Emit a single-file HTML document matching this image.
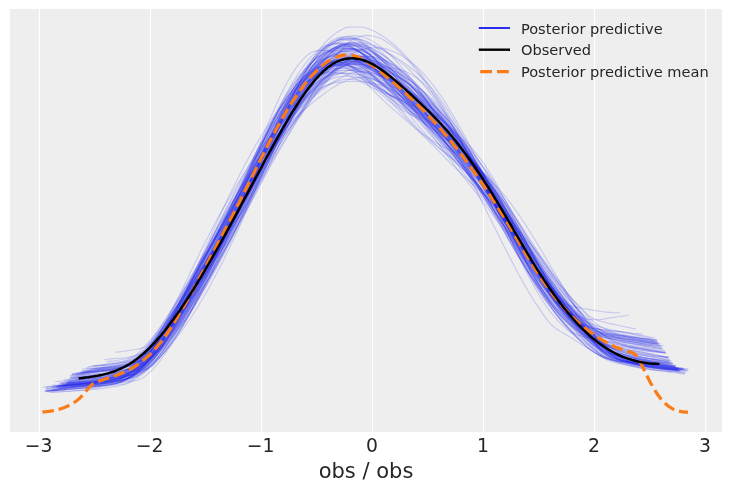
<!DOCTYPE html>
<html><head><meta charset="utf-8"><title>Posterior predictive check</title>
<style>html,body{margin:0;padding:0;background:#fff}body{width:731px;height:491px;position:relative;overflow:hidden}</style>
</head><body>
<svg width="731" height="491" viewBox="0 0 731 491" style="position:absolute;left:0;top:0">
<rect x="10" y="9" width="712" height="423" fill="#eeeeee"/>
<line x1="39.46" x2="39.46" y1="9" y2="432" stroke="#fff" stroke-width="1.1"/>
<line x1="150.49" x2="150.49" y1="9" y2="432" stroke="#fff" stroke-width="1.1"/>
<line x1="261.52" x2="261.52" y1="9" y2="432" stroke="#fff" stroke-width="1.1"/>
<line x1="372.55" x2="372.55" y1="9" y2="432" stroke="#fff" stroke-width="1.1"/>
<line x1="483.58" x2="483.58" y1="9" y2="432" stroke="#fff" stroke-width="1.1"/>
<line x1="594.61" x2="594.61" y1="9" y2="432" stroke="#fff" stroke-width="1.1"/>
<line x1="705.64" x2="705.64" y1="9" y2="432" stroke="#fff" stroke-width="1.1"/>
<g fill="none" stroke="#2a2eec" stroke-opacity="0.2" stroke-width="1.1" stroke-linejoin="round">
<path d="M86.7,368.8 L90.2,368.7 L93.6,368.5 L97.1,368.2 L100.5,367.8 L104.0,367.4 L107.4,367.0 L110.9,366.4 L114.3,365.7 L117.7,364.9 L121.2,363.9 L124.6,362.8 L128.1,361.6 L131.5,360.2 L135.0,358.1 L138.4,355.1 L141.9,351.9 L145.3,348.6 L148.7,344.9 L152.2,341.1 L155.6,336.9 L159.1,332.4 L162.5,327.7 L166.0,322.9 L169.4,317.8 L172.9,312.6 L176.3,307.3 L179.7,301.9 L183.2,296.3 L186.6,290.7 L190.1,284.9 L193.5,279.1 L197.0,273.1 L200.4,267.0 L203.9,260.8 L207.3,254.5 L210.8,248.2 L214.2,241.7 L217.6,235.3 L221.1,228.7 L224.5,222.2 L228.0,215.6 L231.4,208.9 L234.9,202.3 L238.3,195.7 L241.8,189.1 L245.2,182.5 L248.6,176.0 L252.1,169.5 L255.5,163.2 L259.0,156.9 L262.4,150.8 L265.9,144.8 L269.3,139.0 L272.8,133.3 L276.2,127.8 L279.6,122.5 L283.1,117.4 L286.5,112.4 L290.0,107.7 L293.4,103.1 L296.9,98.7 L300.3,94.6 L303.8,90.6 L307.2,86.9 L310.6,83.4 L314.1,80.0 L317.5,77.0 L321.0,74.2 L324.4,71.7 L327.9,69.5 L331.3,67.6 L334.8,65.9 L338.2,64.7 L341.7,64.0 L345.1,63.4 L348.5,63.2 L352.0,63.4 L355.4,63.9 L358.9,64.5 L362.3,65.6 L365.8,67.2 L369.2,69.0 L372.7,70.9 L376.1,73.1 L379.5,75.5 L383.0,77.9 L386.4,80.6 L389.9,83.3 L393.3,86.1 L396.8,89.0 L400.2,92.0 L403.7,95.0 L407.1,98.1 L410.5,101.2 L414.0,104.5 L417.4,107.7 L420.9,111.1 L424.3,114.5 L427.8,118.0 L431.2,121.5 L434.7,125.1 L438.1,128.8 L441.6,132.6 L445.0,136.5 L448.4,140.5 L451.9,144.6 L455.3,148.9 L458.8,153.2 L462.2,157.7 L465.7,162.3 L469.1,167.0 L472.6,171.8 L476.0,176.8 L479.4,181.8 L482.9,187.0 L486.3,192.3 L489.8,197.7 L493.2,203.2 L496.7,208.8 L500.1,214.4 L503.6,220.1 L507.0,225.8 L510.4,231.6 L513.9,237.3 L517.3,243.0 L520.8,248.7 L524.2,254.3 L527.7,259.8 L531.1,265.2 L534.6,270.5 L538.0,275.6 L541.5,280.5 L544.9,285.3 L548.3,289.9 L551.8,294.3 L555.2,298.5 L558.7,302.6 L562.1,306.4 L565.6,310.1 L569.0,313.6 L572.5,317.0 L575.9,320.2 L579.3,323.4 L582.8,326.5 L586.2,329.4 L589.7,332.3 L593.1,335.0 L596.6,337.6 L600.0,340.0 L603.5,342.3 L606.9,344.4 L610.3,346.2 L613.8,347.8 L617.2,349.1 L620.7,350.0 L624.1,350.7 L627.6,351.4 L631.0,351.9 L634.5,352.5 L637.9,353.0 L641.3,353.5 L644.8,354.1 L648.2,354.6 L651.7,355.2 L655.1,355.8 L658.6,356.3 L662.0,356.8 L665.5,357.4 L668.9,357.9"/>
<path d="M65.2,382.5 L68.8,381.9 L72.4,381.3 L75.9,380.8 L79.5,380.3 L83.1,379.8 L86.7,379.3 L90.3,378.8 L93.8,378.4 L97.4,378.0 L101.0,377.7 L104.6,377.5 L108.2,377.2 L111.7,377.0 L115.3,376.7 L118.9,376.4 L122.5,376.0 L126.1,375.5 L129.6,374.9 L133.2,374.2 L136.8,372.3 L140.4,369.0 L143.9,365.3 L147.5,361.5 L151.1,357.1 L154.7,352.5 L158.3,347.4 L161.8,342.0 L165.4,336.5 L169.0,330.8 L172.6,324.9 L176.2,319.0 L179.7,313.2 L183.3,307.4 L186.9,301.6 L190.5,295.9 L194.1,290.2 L197.6,284.6 L201.2,279.0 L204.8,273.5 L208.4,268.0 L212.0,262.5 L215.5,257.0 L219.1,251.3 L222.7,245.5 L226.3,239.6 L229.9,233.5 L233.4,227.0 L237.0,220.3 L240.6,213.3 L244.2,206.0 L247.8,198.4 L251.3,190.5 L254.9,182.4 L258.5,174.0 L262.1,165.6 L265.6,157.1 L269.2,148.6 L272.8,140.2 L276.4,131.9 L280.0,123.8 L283.5,116.1 L287.1,108.7 L290.7,101.6 L294.3,95.0 L297.9,88.9 L301.4,83.2 L305.0,78.0 L308.6,73.4 L312.2,69.1 L315.8,65.5 L319.3,62.4 L322.9,59.7 L326.5,57.7 L330.1,56.3 L333.7,55.2 L337.2,54.7 L340.8,54.9 L344.4,55.5 L348.0,56.2 L351.6,57.6 L355.1,59.8 L358.7,62.2 L362.3,64.9 L365.9,68.2 L369.4,71.5 L373.0,75.0 L376.6,78.7 L380.2,82.3 L383.8,85.9 L387.3,89.5 L390.9,92.9 L394.5,96.2 L398.1,99.3 L401.7,102.2 L405.2,105.0 L408.8,107.7 L412.4,110.3 L416.0,112.7 L419.6,115.2 L423.1,117.6 L426.7,120.2 L430.3,122.8 L433.9,125.5 L437.5,128.4 L441.0,131.4 L444.6,134.7 L448.2,138.2 L451.8,141.8 L455.4,145.7 L458.9,149.7 L462.5,154.0 L466.1,158.3 L469.7,162.8 L473.2,167.4 L476.8,172.1 L480.4,176.8 L484.0,181.6 L487.6,186.5 L491.1,191.4 L494.7,196.4 L498.3,201.5 L501.9,206.6 L505.5,211.8 L509.0,217.0 L512.6,222.3 L516.2,227.6 L519.8,233.0 L523.4,238.5 L526.9,243.9 L530.5,249.4 L534.1,254.9 L537.7,260.4 L541.3,265.9 L544.8,271.3 L548.4,276.6 L552.0,281.9 L555.6,287.1 L559.2,292.1 L562.7,297.0 L566.3,301.8 L569.9,306.4 L573.5,310.9 L577.0,315.3 L580.6,319.5 L584.2,323.6 L587.8,327.6 L591.4,331.4 L594.9,334.9 L598.5,338.4 L602.1,341.8 L605.7,344.5 L609.3,346.5 L612.8,348.2 L616.4,349.8 L620.0,351.2 L623.6,352.5 L627.2,353.7 L630.7,354.8 L634.3,355.8 L637.9,356.6 L641.5,357.3 L645.1,357.9 L648.6,358.5 L652.2,358.9 L655.8,359.3 L659.4,359.7 L663.0,359.9 L666.5,360.1 L670.1,360.2"/>
<path d="M52.3,389.2 L56.0,389.0 L59.7,388.7 L63.3,388.3 L67.0,388.0 L70.7,387.6 L74.4,387.1 L78.0,386.6 L81.7,386.0 L85.4,385.4 L89.0,384.7 L92.7,383.9 L96.4,383.2 L100.1,382.4 L103.7,381.7 L107.4,381.0 L111.1,380.2 L114.8,379.2 L118.4,378.0 L122.1,376.4 L125.8,374.6 L129.4,372.3 L133.1,369.6 L136.8,366.6 L140.5,363.1 L144.1,359.0 L147.8,354.5 L151.5,349.5 L155.2,344.0 L158.8,338.1 L162.5,332.0 L166.2,325.5 L169.9,319.0 L173.5,312.4 L177.2,305.7 L180.9,299.0 L184.5,292.4 L188.2,285.9 L191.9,279.4 L195.6,272.9 L199.2,266.5 L202.9,260.1 L206.6,253.7 L210.3,247.3 L213.9,240.7 L217.6,234.1 L221.3,227.4 L224.9,220.5 L228.6,213.4 L232.3,206.1 L236.0,198.5 L239.6,190.6 L243.3,182.5 L247.0,174.1 L250.7,165.6 L254.3,156.8 L258.0,148.0 L261.7,139.1 L265.4,130.2 L269.0,121.4 L272.7,112.9 L276.4,104.5 L280.0,96.6 L283.7,89.1 L287.4,82.0 L291.1,75.6 L294.7,69.9 L298.4,64.6 L302.1,60.3 L305.8,56.7 L309.4,53.5 L313.1,51.7 L316.8,50.9 L320.4,50.4 L324.1,50.1 L327.8,50.7 L331.5,52.1 L335.1,53.8 L338.8,56.0 L342.5,58.9 L346.2,62.1 L349.8,65.5 L353.5,69.2 L357.2,73.0 L360.9,77.0 L364.5,81.0 L368.2,84.9 L371.9,88.8 L375.5,92.6 L379.2,96.3 L382.9,99.9 L386.6,103.3 L390.2,106.7 L393.9,109.9 L397.6,113.1 L401.3,116.3 L404.9,119.4 L408.6,122.6 L412.3,125.8 L415.9,129.1 L419.6,132.5 L423.3,135.9 L427.0,139.4 L430.6,143.0 L434.3,146.7 L438.0,150.4 L441.7,154.2 L445.3,157.9 L449.0,161.6 L452.7,165.3 L456.3,168.9 L460.0,172.5 L463.7,176.0 L467.4,179.4 L471.0,182.8 L474.7,186.2 L478.4,189.6 L482.1,193.1 L485.7,196.6 L489.4,200.2 L493.1,204.1 L496.8,208.0 L500.4,212.2 L504.1,216.7 L507.8,221.4 L511.4,226.3 L515.1,231.5 L518.8,236.9 L522.5,242.5 L526.1,248.2 L529.8,254.1 L533.5,260.1 L537.2,266.0 L540.8,272.0 L544.5,277.9 L548.2,283.7 L551.8,289.3 L555.5,294.8 L559.2,300.1 L562.9,305.1 L566.5,310.0 L570.2,314.5 L573.9,318.9 L577.6,323.1 L581.2,327.1 L584.9,330.9 L588.6,334.5 L592.3,337.9 L595.9,341.1 L599.6,344.0 L603.3,346.7 L606.9,349.1 L610.6,351.3 L614.3,353.2 L618.0,354.9 L621.6,356.4 L625.3,357.7 L629.0,358.9 L632.7,360.0 L636.3,361.0 L640.0,361.9 L643.7,362.7 L647.3,363.4 L651.0,363.9 L654.7,364.4 L658.4,364.9 L662.0,365.3 L665.7,365.6 L669.4,365.8 L673.1,366.0"/>
<path d="M55.9,386.4 L59.4,386.4 L63.0,386.4 L66.6,386.3 L70.1,386.1 L73.7,386.0 L77.2,385.8 L80.8,385.6 L84.3,385.5 L87.9,385.2 L91.4,384.9 L95.0,384.6 L98.5,384.2 L102.1,383.7 L105.6,383.2 L109.2,382.5 L112.8,381.9 L116.3,381.1 L119.9,380.3 L123.4,379.4 L127.0,378.4 L130.5,376.9 L134.1,374.7 L137.6,372.2 L141.2,369.4 L144.7,366.3 L148.3,362.8 L151.8,358.9 L155.4,354.5 L159.0,349.8 L162.5,344.9 L166.1,339.6 L169.6,334.1 L173.2,328.5 L176.7,322.6 L180.3,316.6 L183.8,310.5 L187.4,304.3 L190.9,297.9 L194.5,291.4 L198.0,284.7 L201.6,278.0 L205.2,271.1 L208.7,264.2 L212.3,257.2 L215.8,250.1 L219.4,242.9 L222.9,235.7 L226.5,228.5 L230.0,221.2 L233.6,213.9 L237.1,206.6 L240.7,199.3 L244.2,192.1 L247.8,184.9 L251.4,177.8 L254.9,170.8 L258.5,163.9 L262.0,157.3 L265.6,150.8 L269.1,144.6 L272.7,138.5 L276.2,132.8 L279.8,127.3 L283.3,122.1 L286.9,117.2 L290.4,112.6 L294.0,108.3 L297.6,104.2 L301.1,100.4 L304.7,96.9 L308.2,93.6 L311.8,90.5 L315.3,87.7 L318.9,85.1 L322.4,82.6 L326.0,80.4 L329.5,78.4 L333.1,76.6 L336.6,74.9 L340.2,73.4 L343.8,72.1 L347.3,70.9 L350.9,70.0 L354.4,69.2 L358.0,68.5 L361.5,68.0 L365.1,67.6 L368.6,67.2 L372.2,67.1 L375.7,67.1 L379.3,67.1 L382.8,67.1 L386.4,67.3 L390.0,67.7 L393.5,68.2 L397.1,68.9 L400.6,69.9 L404.2,71.1 L407.7,72.5 L411.3,74.4 L414.8,76.5 L418.4,79.0 L421.9,82.0 L425.5,85.3 L429.0,89.0 L432.6,93.2 L436.2,97.8 L439.7,102.8 L443.3,108.3 L446.8,114.2 L450.4,120.3 L453.9,126.9 L457.5,133.7 L461.0,140.7 L464.6,148.0 L468.1,155.4 L471.7,163.0 L475.3,170.6 L478.8,178.3 L482.4,185.9 L485.9,193.6 L489.5,201.1 L493.0,208.6 L496.6,215.9 L500.1,223.1 L503.7,230.1 L507.2,236.9 L510.8,243.5 L514.3,249.8 L517.9,256.0 L521.5,261.8 L525.0,267.3 L528.6,272.6 L532.1,277.6 L535.7,282.2 L539.2,286.6 L542.8,290.7 L546.3,294.5 L549.9,298.1 L553.4,301.4 L557.0,304.5 L560.5,307.4 L564.1,310.1 L567.7,312.7 L571.2,315.1 L574.8,317.5 L578.3,320.0 L581.9,322.4 L585.4,324.7 L589.0,327.0 L592.5,329.3 L596.1,331.2 L599.6,332.6 L603.2,333.8 L606.7,334.9 L610.3,336.0 L613.9,337.0 L617.4,337.9 L621.0,338.7 L624.5,339.5 L628.1,340.1 L631.6,340.7 L635.2,341.2 L638.7,341.7 L642.3,342.1 L645.8,342.5 L649.4,342.8 L652.9,343.1 L656.5,343.3"/>
<path d="M73.3,376.7 L76.7,376.6 L80.2,376.4 L83.6,376.2 L87.0,376.0 L90.5,375.7 L93.9,375.4 L97.4,375.1 L100.8,374.7 L104.3,374.3 L107.7,373.9 L111.2,373.5 L114.6,372.9 L118.1,372.4 L121.5,371.7 L124.9,370.9 L128.4,370.1 L131.8,369.1 L135.3,368.1 L138.7,366.4 L142.2,363.8 L145.6,360.9 L149.1,357.8 L152.5,354.2 L156.0,350.4 L159.4,346.1 L162.9,341.6 L166.3,336.8 L169.7,331.7 L173.2,326.5 L176.6,321.1 L180.1,315.6 L183.5,310.0 L187.0,304.2 L190.4,298.4 L193.9,292.5 L197.3,286.5 L200.8,280.4 L204.2,274.3 L207.6,268.2 L211.1,262.1 L214.5,255.9 L218.0,249.8 L221.4,243.7 L224.9,237.6 L228.3,231.5 L231.8,225.3 L235.2,219.2 L238.7,213.1 L242.1,206.9 L245.6,200.7 L249.0,194.5 L252.4,188.2 L255.9,181.9 L259.3,175.6 L262.8,169.2 L266.2,162.8 L269.7,156.4 L273.1,150.0 L276.6,143.6 L280.0,137.1 L283.5,130.7 L286.9,124.3 L290.3,118.0 L293.8,111.8 L297.2,105.7 L300.7,99.8 L304.1,94.1 L307.6,88.6 L311.0,83.5 L314.5,78.7 L317.9,74.3 L321.4,70.4 L324.8,67.0 L328.3,63.9 L331.7,61.7 L335.1,60.0 L338.6,58.7 L342.0,58.1 L345.5,58.2 L348.9,58.5 L352.4,58.8 L355.8,59.9 L359.3,61.8 L362.7,63.9 L366.2,66.2 L369.6,68.8 L373.0,71.6 L376.5,74.4 L379.9,77.5 L383.4,80.6 L386.8,83.7 L390.3,86.8 L393.7,90.0 L397.2,93.2 L400.6,96.5 L404.1,99.7 L407.5,103.0 L411.0,106.2 L414.4,109.5 L417.8,112.9 L421.3,116.3 L424.7,119.7 L428.2,123.1 L431.6,126.6 L435.1,130.1 L438.5,133.7 L442.0,137.4 L445.4,141.0 L448.9,144.8 L452.3,148.6 L455.7,152.4 L459.2,156.3 L462.6,160.2 L466.1,164.2 L469.5,168.3 L473.0,172.4 L476.4,176.5 L479.9,180.7 L483.3,184.9 L486.8,189.1 L490.2,193.4 L493.7,197.8 L497.1,202.1 L500.5,206.6 L504.0,211.0 L507.4,215.5 L510.9,220.0 L514.3,224.6 L517.8,229.1 L521.2,233.7 L524.7,238.2 L528.1,242.8 L531.6,247.4 L535.0,252.0 L538.4,256.5 L541.9,261.0 L545.3,265.5 L548.8,270.0 L552.2,274.4 L555.7,278.7 L559.1,283.0 L562.6,287.2 L566.0,291.4 L569.5,295.4 L572.9,299.5 L576.4,303.4 L579.8,307.3 L583.2,311.2 L586.7,315.0 L590.1,318.5 L593.6,321.6 L597.0,324.4 L600.5,326.7 L603.9,328.5 L607.4,330.1 L610.8,331.5 L614.3,332.9 L617.7,334.2 L621.1,335.3 L624.6,336.3 L628.0,337.2 L631.5,338.0 L634.9,338.7 L638.4,339.3 L641.8,339.8 L645.3,340.2 L648.7,340.6 L652.2,340.9 L655.6,341.1"/>
<path d="M64.5,384.1 L68.1,383.8 L71.6,383.4 L75.2,383.1 L78.8,382.7 L82.4,382.2 L85.9,381.8 L89.5,381.3 L93.1,380.9 L96.7,380.4 L100.2,379.9 L103.8,379.3 L107.4,378.6 L111.0,377.9 L114.5,377.0 L118.1,376.0 L121.7,374.5 L125.3,372.4 L128.8,370.0 L132.4,367.4 L136.0,364.4 L139.6,361.0 L143.1,357.1 L146.7,352.7 L150.3,347.9 L153.9,342.6 L157.4,336.8 L161.0,330.7 L164.6,324.2 L168.2,317.5 L171.7,310.5 L175.3,303.4 L178.9,296.2 L182.5,288.9 L186.0,281.5 L189.6,274.1 L193.2,266.7 L196.8,259.4 L200.3,252.0 L203.9,244.8 L207.5,237.7 L211.1,230.7 L214.6,223.9 L218.2,217.2 L221.8,210.7 L225.4,204.4 L228.9,198.2 L232.5,192.2 L236.1,186.3 L239.7,180.6 L243.2,174.9 L246.8,169.4 L250.4,164.0 L254.0,158.7 L257.5,153.5 L261.1,148.4 L264.7,143.4 L268.3,138.5 L271.8,133.6 L275.4,128.9 L279.0,124.2 L282.6,119.6 L286.1,115.1 L289.7,110.7 L293.3,106.5 L296.9,102.3 L300.4,98.3 L304.0,94.5 L307.6,90.9 L311.2,87.6 L314.7,84.5 L318.3,81.7 L321.9,79.3 L325.5,77.2 L329.0,75.4 L332.6,74.2 L336.2,73.6 L339.8,73.1 L343.3,72.9 L346.9,73.2 L350.5,74.0 L354.1,74.9 L357.6,76.2 L361.2,77.9 L364.8,79.8 L368.4,81.7 L371.9,83.9 L375.5,86.1 L379.1,88.3 L382.7,90.6 L386.2,92.8 L389.8,95.0 L393.4,97.2 L397.0,99.4 L400.5,101.6 L404.1,103.8 L407.7,106.1 L411.3,108.5 L414.8,110.9 L418.4,113.4 L422.0,116.1 L425.6,118.9 L429.1,121.8 L432.7,124.9 L436.3,128.1 L439.9,131.5 L443.4,135.0 L447.0,138.8 L450.6,142.6 L454.2,146.7 L457.7,150.9 L461.3,155.3 L464.9,159.8 L468.5,164.5 L472.0,169.4 L475.6,174.4 L479.2,179.6 L482.8,185.0 L486.3,190.5 L489.9,196.1 L493.5,201.9 L497.1,207.8 L500.6,213.9 L504.2,219.9 L507.8,226.0 L511.4,232.2 L514.9,238.3 L518.5,244.4 L522.1,250.4 L525.7,256.2 L529.2,261.9 L532.8,267.5 L536.4,272.9 L540.0,278.1 L543.5,283.2 L547.1,288.0 L550.7,292.6 L554.3,297.0 L557.8,301.2 L561.4,305.2 L565.0,309.1 L568.6,312.8 L572.1,316.4 L575.7,319.8 L579.3,323.2 L582.9,326.5 L586.4,329.8 L590.0,332.9 L593.6,335.9 L597.2,338.9 L600.7,341.5 L604.3,343.8 L607.9,346.0 L611.5,347.7 L615.0,349.0 L618.6,350.0 L622.2,350.9 L625.8,351.8 L629.3,352.5 L632.9,353.3 L636.5,354.0 L640.1,354.6 L643.6,355.3 L647.2,356.1 L650.8,356.8 L654.4,357.5 L657.9,358.2 L661.5,358.9 L665.1,359.5 L668.7,360.1"/>
<path d="M81.3,370.5 L84.8,370.3 L88.3,370.0 L91.7,369.7 L95.2,369.3 L98.7,368.9 L102.2,368.4 L105.7,367.9 L109.1,367.3 L112.6,366.7 L116.1,366.0 L119.6,365.2 L123.1,364.3 L126.6,363.4 L130.0,362.3 L133.5,360.9 L137.0,359.2 L140.5,357.2 L144.0,355.0 L147.5,352.6 L150.9,349.8 L154.4,346.8 L157.9,343.3 L161.4,339.7 L164.9,335.7 L168.3,331.5 L171.8,327.0 L175.3,322.4 L178.8,317.5 L182.3,312.4 L185.8,307.1 L189.2,301.7 L192.7,296.1 L196.2,290.3 L199.7,284.3 L203.2,278.2 L206.7,272.0 L210.1,265.7 L213.6,259.3 L217.1,252.8 L220.6,246.3 L224.1,239.7 L227.6,233.1 L231.0,226.4 L234.5,219.8 L238.0,213.0 L241.5,206.3 L245.0,199.5 L248.4,192.6 L251.9,185.7 L255.4,178.9 L258.9,172.0 L262.4,165.0 L265.9,158.2 L269.3,151.3 L272.8,144.5 L276.3,137.8 L279.8,131.2 L283.3,124.6 L286.8,118.3 L290.2,112.1 L293.7,106.1 L297.2,100.3 L300.7,94.9 L304.2,89.7 L307.7,84.8 L311.1,80.3 L314.6,76.1 L318.1,72.4 L321.6,69.1 L325.1,66.1 L328.5,63.8 L332.0,61.7 L335.5,60.0 L339.0,59.2 L342.5,59.1 L346.0,59.0 L349.4,59.0 L352.9,59.6 L356.4,61.0 L359.9,62.7 L363.4,64.6 L366.9,66.9 L370.3,69.4 L373.8,72.1 L377.3,75.0 L380.8,77.9 L384.3,81.0 L387.8,84.1 L391.2,87.1 L394.7,90.2 L398.2,93.3 L401.7,96.3 L405.2,99.3 L408.6,102.2 L412.1,105.0 L415.6,107.8 L419.1,110.5 L422.6,113.2 L426.1,115.9 L429.5,118.5 L433.0,121.1 L436.5,123.8 L440.0,126.5 L443.5,129.3 L447.0,132.3 L450.4,135.3 L453.9,138.6 L457.4,142.0 L460.9,145.7 L464.4,149.5 L467.8,153.6 L471.3,158.0 L474.8,162.6 L478.3,167.5 L481.8,172.7 L485.3,178.0 L488.7,183.6 L492.2,189.5 L495.7,195.4 L499.2,201.6 L502.7,207.9 L506.2,214.2 L509.6,220.7 L513.1,227.1 L516.6,233.5 L520.1,239.8 L523.6,246.1 L527.1,252.2 L530.5,258.2 L534.0,264.0 L537.5,269.7 L541.0,275.1 L544.5,280.3 L547.9,285.3 L551.4,290.1 L554.9,294.7 L558.4,299.0 L561.9,303.2 L565.4,307.1 L568.8,310.9 L572.3,314.5 L575.8,317.9 L579.3,321.3 L582.8,324.5 L586.3,327.7 L589.7,330.7 L593.2,333.4 L596.7,336.0 L600.2,338.4 L603.7,340.6 L607.2,342.7 L610.6,344.6 L614.1,346.3 L617.6,347.9 L621.1,349.2 L624.6,350.4 L628.0,351.4 L631.5,352.4 L635.0,353.3 L638.5,354.1 L642.0,354.9 L645.5,355.6 L648.9,356.3 L652.4,356.9 L655.9,357.5 L659.4,358.1 L662.9,358.6 L666.4,359.0 L669.8,359.5"/>
<path d="M70.1,381.8 L73.7,381.6 L77.3,381.4 L80.9,381.1 L84.5,380.7 L88.1,380.3 L91.7,379.8 L95.3,379.2 L98.9,378.5 L102.5,377.7 L106.1,376.8 L109.7,375.9 L113.3,374.9 L116.9,373.8 L120.5,372.6 L124.1,371.3 L127.7,369.7 L131.3,367.8 L134.9,365.6 L138.5,363.1 L142.1,360.2 L145.7,356.9 L149.3,353.2 L152.9,349.0 L156.5,344.4 L160.1,339.5 L163.7,334.3 L167.2,328.8 L170.8,323.1 L174.4,317.2 L178.0,311.1 L181.6,304.9 L185.2,298.6 L188.8,292.2 L192.4,285.7 L196.0,279.0 L199.6,272.3 L203.2,265.5 L206.8,258.6 L210.4,251.6 L214.0,244.6 L217.6,237.5 L221.2,230.5 L224.8,223.5 L228.4,216.4 L232.0,209.4 L235.6,202.4 L239.2,195.5 L242.8,188.6 L246.4,181.7 L250.0,174.9 L253.6,168.2 L257.2,161.5 L260.8,154.9 L264.4,148.4 L268.0,142.0 L271.6,135.6 L275.2,129.3 L278.8,123.2 L282.4,117.2 L286.0,111.3 L289.6,105.6 L293.2,100.1 L296.8,94.7 L300.4,89.7 L304.0,85.0 L307.6,80.5 L311.2,76.5 L314.8,72.9 L318.4,69.6 L322.0,66.9 L325.6,64.5 L329.2,62.5 L332.8,61.4 L336.4,61.0 L340.0,60.7 L343.6,60.6 L347.2,61.1 L350.8,62.2 L354.4,63.6 L358.0,65.3 L361.6,67.5 L365.2,69.9 L368.8,72.4 L372.4,75.1 L376.0,77.9 L379.6,80.7 L383.2,83.5 L386.8,86.3 L390.4,89.1 L394.0,91.8 L397.6,94.5 L401.2,97.2 L404.8,99.8 L408.4,102.5 L412.0,105.1 L415.6,107.7 L419.2,110.4 L422.8,113.1 L426.4,115.9 L430.0,118.8 L433.6,121.7 L437.2,124.8 L440.8,128.0 L444.4,131.4 L448.0,135.0 L451.6,138.7 L455.2,142.7 L458.8,146.9 L462.4,151.4 L466.0,156.2 L469.6,161.2 L473.2,166.4 L476.8,172.0 L480.4,177.8 L484.0,183.7 L487.6,190.0 L491.2,196.4 L494.8,202.9 L498.3,209.6 L501.9,216.4 L505.5,223.2 L509.1,230.0 L512.7,236.7 L516.3,243.4 L519.9,249.9 L523.5,256.3 L527.1,262.4 L530.7,268.4 L534.3,274.2 L537.9,279.8 L541.5,285.1 L545.1,290.3 L548.7,295.2 L552.3,299.9 L555.9,304.4 L559.5,308.8 L563.1,312.9 L566.7,317.0 L570.3,320.9 L573.9,324.6 L577.5,328.3 L581.1,331.9 L584.7,335.4 L588.3,338.9 L591.9,342.2 L595.5,345.5 L599.1,348.6 L602.7,351.4 L606.3,353.9 L609.9,356.2 L613.5,358.1 L617.1,359.5 L620.7,360.6 L624.3,361.7 L627.9,362.7 L631.5,363.6 L635.1,364.5 L638.7,365.3 L642.3,366.0 L645.9,366.6 L649.5,367.1 L653.1,367.6 L656.7,368.1 L660.3,368.5 L663.9,368.9 L667.5,369.3 L671.1,369.5 L674.7,369.8 L678.3,369.9"/>
<path d="M80.4,373.4 L83.9,373.1 L87.4,372.8 L90.9,372.4 L94.3,372.0 L97.8,371.5 L101.3,371.1 L104.8,370.5 L108.2,369.9 L111.7,369.2 L115.2,368.4 L118.7,367.5 L122.1,366.5 L125.6,365.3 L129.1,363.5 L132.6,360.9 L136.0,358.0 L139.5,355.1 L143.0,351.9 L146.5,348.5 L149.9,344.7 L153.4,340.5 L156.9,336.0 L160.4,331.3 L163.8,326.3 L167.3,321.1 L170.8,315.8 L174.3,310.4 L177.8,304.8 L181.2,299.2 L184.7,293.5 L188.2,287.8 L191.7,282.0 L195.1,276.1 L198.6,270.2 L202.1,264.3 L205.6,258.3 L209.0,252.3 L212.5,246.3 L216.0,240.3 L219.5,234.4 L222.9,228.4 L226.4,222.4 L229.9,216.4 L233.4,210.3 L236.8,204.3 L240.3,198.2 L243.8,192.0 L247.3,185.9 L250.7,179.7 L254.2,173.4 L257.7,167.2 L261.2,161.0 L264.6,154.8 L268.1,148.5 L271.6,142.4 L275.1,136.3 L278.5,130.2 L282.0,124.3 L285.5,118.5 L289.0,112.8 L292.4,107.2 L295.9,101.9 L299.4,96.6 L302.9,91.7 L306.3,86.9 L309.8,82.4 L313.3,78.2 L316.8,74.4 L320.2,70.8 L323.7,67.6 L327.2,64.8 L330.7,62.3 L334.1,60.4 L337.6,59.0 L341.1,57.8 L344.6,57.3 L348.0,57.4 L351.5,57.7 L355.0,58.1 L358.5,59.1 L361.9,60.7 L365.4,62.7 L368.9,64.8 L372.4,67.4 L375.9,70.2 L379.3,73.1 L382.8,76.2 L386.3,79.4 L389.8,82.6 L393.2,86.0 L396.7,89.4 L400.2,92.8 L403.7,96.3 L407.1,99.7 L410.6,103.2 L414.1,106.6 L417.6,110.1 L421.0,113.6 L424.5,117.1 L428.0,120.5 L431.5,124.0 L434.9,127.6 L438.4,131.1 L441.9,134.7 L445.4,138.3 L448.8,141.9 L452.3,145.6 L455.8,149.3 L459.3,153.1 L462.7,157.0 L466.2,161.0 L469.7,165.1 L473.2,169.2 L476.6,173.5 L480.1,177.9 L483.6,182.5 L487.1,187.2 L490.5,192.1 L494.0,197.2 L497.5,202.4 L501.0,207.8 L504.4,213.4 L507.9,219.2 L511.4,225.1 L514.9,231.1 L518.3,237.2 L521.8,243.4 L525.3,249.6 L528.8,255.9 L532.2,262.1 L535.7,268.2 L539.2,274.2 L542.7,280.0 L546.1,285.6 L549.6,291.1 L553.1,296.2 L556.6,301.1 L560.0,305.8 L563.5,310.2 L567.0,314.3 L570.5,318.1 L574.0,321.7 L577.4,325.1 L580.9,328.3 L584.4,331.4 L587.9,334.4 L591.3,337.3 L594.8,339.9 L598.3,342.0 L601.8,343.8 L605.2,345.4 L608.7,346.8 L612.2,348.1 L615.7,349.2 L619.1,350.3 L622.6,351.3 L626.1,352.2 L629.6,353.0 L633.0,353.8 L636.5,354.4 L640.0,354.9 L643.5,355.3 L646.9,355.7 L650.4,356.1 L653.9,356.4 L657.4,356.7 L660.8,356.9 L664.3,357.0 L667.8,357.1"/>
<path d="M59.7,385.6 L63.4,385.4 L67.1,385.2 L70.8,385.0 L74.5,384.7 L78.2,384.4 L81.9,384.1 L85.6,383.7 L89.3,383.3 L93.0,383.0 L96.6,382.5 L100.3,382.1 L104.0,381.6 L107.7,381.0 L111.4,380.4 L115.1,379.7 L118.8,378.9 L122.5,378.1 L126.2,376.8 L129.9,375.0 L133.6,372.9 L137.3,370.4 L141.0,367.5 L144.7,364.3 L148.4,360.4 L152.0,356.0 L155.7,351.2 L159.4,345.9 L163.1,340.2 L166.8,334.2 L170.5,327.9 L174.2,321.3 L177.9,314.6 L181.6,307.8 L185.3,300.8 L189.0,293.7 L192.7,286.5 L196.4,279.2 L200.1,271.9 L203.8,264.5 L207.4,257.0 L211.1,249.5 L214.8,242.0 L218.5,234.5 L222.2,226.9 L225.9,219.3 L229.6,211.7 L233.3,204.0 L237.0,196.3 L240.7,188.6 L244.4,180.9 L248.1,173.1 L251.8,165.3 L255.5,157.6 L259.2,149.9 L262.8,142.2 L266.5,134.6 L270.2,127.2 L273.9,119.9 L277.6,112.9 L281.3,106.0 L285.0,99.4 L288.7,93.1 L292.4,87.2 L296.1,81.5 L299.8,76.4 L303.5,71.6 L307.2,67.3 L310.9,63.5 L314.6,60.2 L318.2,57.2 L321.9,55.0 L325.6,53.1 L329.3,51.5 L333.0,50.9 L336.7,50.9 L340.4,51.0 L344.1,51.2 L347.8,51.9 L351.5,53.5 L355.2,55.2 L358.9,57.2 L362.6,59.5 L366.3,62.0 L370.0,64.7 L373.6,67.6 L377.3,70.5 L381.0,73.5 L384.7,76.7 L388.4,79.8 L392.1,83.1 L395.8,86.3 L399.5,89.6 L403.2,93.0 L406.9,96.3 L410.6,99.8 L414.3,103.2 L418.0,106.7 L421.7,110.2 L425.4,113.7 L429.1,117.2 L432.7,120.7 L436.4,124.3 L440.1,127.8 L443.8,131.4 L447.5,135.0 L451.2,138.7 L454.9,142.4 L458.6,146.2 L462.3,150.1 L466.0,154.2 L469.7,158.4 L473.4,162.8 L477.1,167.4 L480.8,172.3 L484.5,177.4 L488.1,182.7 L491.8,188.3 L495.5,194.2 L499.2,200.3 L502.9,206.7 L506.6,213.4 L510.3,220.2 L514.0,227.1 L517.7,234.2 L521.4,241.4 L525.1,248.5 L528.8,255.7 L532.5,262.8 L536.2,269.8 L539.9,276.7 L543.5,283.4 L547.2,289.8 L550.9,296.1 L554.6,302.0 L558.3,307.7 L562.0,313.2 L565.7,318.3 L569.4,323.2 L573.1,327.7 L576.8,332.1 L580.5,336.1 L584.2,340.0 L587.9,343.8 L591.6,347.8 L595.3,351.8 L598.9,354.7 L602.6,356.6 L606.3,358.1 L610.0,359.3 L613.7,360.2 L617.4,360.9 L621.1,361.6 L624.8,362.2 L628.5,362.7 L632.2,363.2 L635.9,363.6 L639.6,364.0 L643.3,364.5 L647.0,364.9 L650.7,365.4 L654.3,365.9 L658.0,366.5 L661.7,367.1 L665.4,367.7 L669.1,368.2 L672.8,368.8 L676.5,369.3 L680.2,369.8 L683.9,370.4"/>
<path d="M81.1,372.0 L84.5,371.5 L87.9,371.1 L91.3,370.6 L94.7,370.1 L98.2,369.6 L101.6,369.1 L105.0,368.7 L108.4,368.3 L111.8,367.9 L115.2,367.5 L118.7,367.1 L122.1,366.7 L125.5,366.2 L128.9,365.6 L132.3,364.8 L135.8,363.8 L139.2,361.8 L142.6,358.3 L146.0,354.6 L149.4,350.8 L152.8,346.5 L156.3,342.1 L159.7,337.4 L163.1,332.3 L166.5,327.2 L169.9,321.9 L173.3,316.5 L176.8,311.1 L180.2,305.6 L183.6,300.1 L187.0,294.6 L190.4,289.0 L193.9,283.4 L197.3,277.8 L200.7,272.1 L204.1,266.4 L207.5,260.7 L210.9,255.0 L214.4,249.3 L217.8,243.5 L221.2,237.8 L224.6,232.0 L228.0,226.2 L231.5,220.4 L234.9,214.5 L238.3,208.6 L241.7,202.6 L245.1,196.6 L248.5,190.6 L252.0,184.5 L255.4,178.5 L258.8,172.4 L262.2,166.3 L265.6,160.3 L269.0,154.3 L272.5,148.3 L275.9,142.4 L279.3,136.6 L282.7,130.9 L286.1,125.3 L289.6,119.8 L293.0,114.6 L296.4,109.4 L299.8,104.5 L303.2,99.8 L306.6,95.2 L310.1,91.0 L313.5,87.1 L316.9,83.3 L320.3,80.0 L323.7,77.0 L327.1,74.3 L330.6,72.2 L334.0,70.4 L337.4,68.9 L340.8,68.3 L344.2,68.3 L347.7,68.3 L351.1,68.3 L354.5,69.1 L357.9,70.9 L361.3,72.9 L364.7,75.2 L368.2,78.0 L371.6,81.0 L375.0,84.2 L378.4,87.7 L381.8,91.4 L385.2,95.1 L388.7,99.0 L392.1,102.9 L395.5,106.8 L398.9,110.6 L402.3,114.4 L405.8,118.0 L409.2,121.5 L412.6,124.9 L416.0,128.1 L419.4,131.1 L422.8,133.9 L426.3,136.4 L429.7,138.9 L433.1,141.1 L436.5,143.1 L439.9,145.0 L443.4,146.9 L446.8,148.6 L450.2,150.3 L453.6,152.0 L457.0,153.8 L460.4,155.6 L463.9,157.5 L467.3,159.6 L470.7,161.9 L474.1,164.5 L477.5,167.2 L480.9,170.3 L484.4,173.7 L487.8,177.3 L491.2,181.3 L494.6,185.5 L498.0,190.0 L501.5,194.9 L504.9,200.0 L508.3,205.3 L511.7,210.8 L515.1,216.5 L518.5,222.3 L522.0,228.3 L525.4,234.3 L528.8,240.4 L532.2,246.5 L535.6,252.5 L539.0,258.5 L542.5,264.5 L545.9,270.3 L549.3,275.9 L552.7,281.5 L556.1,286.8 L559.6,291.9 L563.0,296.9 L566.4,301.6 L569.8,306.1 L573.2,310.4 L576.6,314.6 L580.1,318.9 L583.5,323.1 L586.9,326.4 L590.3,328.9 L593.7,330.9 L597.1,332.3 L600.6,333.3 L604.0,334.0 L607.4,334.6 L610.8,335.2 L614.2,335.7 L617.7,336.1 L621.1,336.6 L624.5,337.0 L627.9,337.5 L631.3,338.0 L634.7,338.6 L638.2,339.3 L641.6,339.9 L645.0,340.5 L648.4,341.2 L651.8,341.8 L655.3,342.4 L658.7,343.1"/>
<path d="M69.0,380.7 L72.6,380.3 L76.2,380.0 L79.8,379.5 L83.4,379.1 L87.0,378.7 L90.5,378.2 L94.1,377.7 L97.7,377.3 L101.3,376.9 L104.9,376.5 L108.5,376.0 L112.1,375.5 L115.7,374.9 L119.3,374.2 L122.9,373.4 L126.4,372.5 L130.0,370.9 L133.6,368.6 L137.2,366.1 L140.8,363.3 L144.4,360.2 L148.0,356.8 L151.6,352.9 L155.2,348.5 L158.8,343.9 L162.3,338.9 L165.9,333.5 L169.5,327.9 L173.1,322.2 L176.7,316.2 L180.3,310.0 L183.9,303.7 L187.5,297.2 L191.1,290.6 L194.7,283.9 L198.2,277.0 L201.8,270.1 L205.4,263.1 L209.0,256.0 L212.6,248.9 L216.2,241.8 L219.8,234.7 L223.4,227.6 L227.0,220.5 L230.6,213.5 L234.1,206.6 L237.7,199.6 L241.3,192.7 L244.9,185.8 L248.5,179.0 L252.1,172.2 L255.7,165.4 L259.3,158.6 L262.9,151.8 L266.5,145.0 L270.0,138.2 L273.6,131.4 L277.2,124.6 L280.8,117.7 L284.4,110.9 L288.0,104.1 L291.6,97.4 L295.2,90.7 L298.8,84.3 L302.4,78.1 L305.9,72.0 L309.5,66.5 L313.1,61.2 L316.7,56.4 L320.3,52.2 L323.9,48.5 L327.5,45.2 L331.1,42.8 L334.7,41.2 L338.3,39.9 L341.8,39.4 L345.4,39.7 L349.0,40.4 L352.6,41.5 L356.2,43.2 L359.8,45.7 L363.4,48.6 L367.0,51.7 L370.6,55.2 L374.2,58.9 L377.7,62.7 L381.3,66.7 L384.9,70.8 L388.5,75.0 L392.1,79.2 L395.7,83.5 L399.3,87.8 L402.9,92.1 L406.5,96.5 L410.1,100.8 L413.6,105.2 L417.2,109.5 L420.8,113.9 L424.4,118.2 L428.0,122.5 L431.6,126.9 L435.2,131.2 L438.8,135.5 L442.4,139.7 L446.0,144.0 L449.5,148.3 L453.1,152.7 L456.7,157.0 L460.3,161.5 L463.9,166.0 L467.5,170.5 L471.1,175.2 L474.7,180.1 L478.3,185.0 L481.9,190.2 L485.4,195.4 L489.0,200.9 L492.6,206.5 L496.2,212.2 L499.8,218.2 L503.4,224.2 L507.0,230.3 L510.6,236.5 L514.2,242.8 L517.8,249.1 L521.3,255.4 L524.9,261.6 L528.5,267.8 L532.1,273.8 L535.7,279.7 L539.3,285.4 L542.9,290.9 L546.5,296.2 L550.1,301.3 L553.6,306.1 L557.2,310.7 L560.8,314.9 L564.4,319.0 L568.0,322.8 L571.6,326.4 L575.2,329.7 L578.8,333.0 L582.4,336.1 L586.0,339.0 L589.5,341.9 L593.1,344.7 L596.7,347.4 L600.3,349.8 L603.9,352.0 L607.5,354.0 L611.1,355.5 L614.7,356.5 L618.3,357.3 L621.9,358.0 L625.4,358.7 L629.0,359.2 L632.6,359.7 L636.2,360.2 L639.8,360.7 L643.4,361.2 L647.0,361.8 L650.6,362.4 L654.2,363.0 L657.8,363.7 L661.3,364.5 L664.9,365.2 L668.5,366.0 L672.1,366.8 L675.7,367.6"/>
<path d="M57.9,388.2 L61.3,387.9 L64.7,387.6 L68.1,387.3 L71.6,386.9 L75.0,386.5 L78.4,386.0 L81.8,385.5 L85.2,385.0 L88.7,384.5 L92.1,383.9 L95.5,383.3 L98.9,382.7 L102.3,382.1 L105.8,381.4 L109.2,380.6 L112.6,379.9 L116.0,379.0 L119.4,378.0 L122.9,376.9 L126.3,375.6 L129.7,374.2 L133.1,372.6 L136.6,370.8 L140.0,368.7 L143.4,366.3 L146.8,363.5 L150.2,360.4 L153.7,356.8 L157.1,352.9 L160.5,348.6 L163.9,344.1 L167.3,339.2 L170.8,334.0 L174.2,328.7 L177.6,323.2 L181.0,317.5 L184.4,311.7 L187.9,305.7 L191.3,299.6 L194.7,293.5 L198.1,287.2 L201.5,280.9 L205.0,274.6 L208.4,268.2 L211.8,261.7 L215.2,255.2 L218.7,248.7 L222.1,242.1 L225.5,235.5 L228.9,228.8 L232.3,222.0 L235.8,215.1 L239.2,208.1 L242.6,201.0 L246.0,193.8 L249.4,186.5 L252.9,179.2 L256.3,171.8 L259.7,164.4 L263.1,157.1 L266.5,149.9 L270.0,142.7 L273.4,135.8 L276.8,129.0 L280.2,122.5 L283.6,116.2 L287.1,110.3 L290.5,104.7 L293.9,99.4 L297.3,94.6 L300.8,90.0 L304.2,85.9 L307.6,82.2 L311.0,78.8 L314.4,75.9 L317.9,73.3 L321.3,71.1 L324.7,69.3 L328.1,67.7 L331.5,66.5 L335.0,65.8 L338.4,65.6 L341.8,65.4 L345.2,65.4 L348.6,65.7 L352.1,66.5 L355.5,67.5 L358.9,68.7 L362.3,70.4 L365.8,72.2 L369.2,74.2 L372.6,76.5 L376.0,78.9 L379.4,81.5 L382.9,84.3 L386.3,87.2 L389.7,90.3 L393.1,93.6 L396.5,96.9 L400.0,100.4 L403.4,104.1 L406.8,107.8 L410.2,111.6 L413.6,115.5 L417.1,119.4 L420.5,123.4 L423.9,127.4 L427.3,131.3 L430.7,135.2 L434.2,139.1 L437.6,142.9 L441.0,146.7 L444.4,150.4 L447.9,154.0 L451.3,157.6 L454.7,161.1 L458.1,164.6 L461.5,168.0 L465.0,171.4 L468.4,174.9 L471.8,178.3 L475.2,181.8 L478.6,185.4 L482.1,189.0 L485.5,192.6 L488.9,196.4 L492.3,200.2 L495.7,204.1 L499.2,208.2 L502.6,212.3 L506.0,216.6 L509.4,220.9 L512.8,225.3 L516.3,229.8 L519.7,234.3 L523.1,238.8 L526.5,243.4 L530.0,248.0 L533.4,252.6 L536.8,257.1 L540.2,261.6 L543.6,266.1 L547.1,270.4 L550.5,274.7 L553.9,278.8 L557.3,282.8 L560.7,286.7 L564.2,290.5 L567.6,294.2 L571.0,297.8 L574.4,301.3 L577.8,304.8 L581.3,308.1 L584.7,311.6 L588.1,315.1 L591.5,317.6 L594.9,319.2 L598.4,320.4 L601.8,321.5 L605.2,322.4 L608.6,323.2 L612.1,323.9 L615.5,324.7 L618.9,325.5 L622.3,326.2 L625.7,327.0 L629.2,327.7 L632.6,328.4 L636.0,329.0"/>
<path d="M45.7,390.6 L49.3,390.5 L53.0,390.4 L56.6,390.2 L60.2,390.0 L63.8,389.8 L67.5,389.5 L71.1,389.3 L74.7,389.0 L78.3,388.7 L82.0,388.3 L85.6,387.9 L89.2,387.5 L92.9,387.0 L96.5,386.5 L100.1,385.9 L103.7,385.3 L107.4,384.7 L111.0,384.0 L114.6,383.3 L118.2,382.5 L121.9,381.4 L125.5,380.1 L129.1,378.6 L132.8,376.7 L136.4,374.5 L140.0,371.9 L143.6,368.9 L147.3,365.5 L150.9,361.7 L154.5,357.3 L158.1,352.5 L161.8,347.4 L165.4,342.0 L169.0,336.3 L172.7,330.3 L176.3,324.2 L179.9,317.8 L183.5,311.4 L187.2,304.8 L190.8,298.2 L194.4,291.4 L198.1,284.5 L201.7,277.6 L205.3,270.6 L208.9,263.6 L212.6,256.6 L216.2,249.6 L219.8,242.6 L223.4,235.6 L227.1,228.7 L230.7,221.7 L234.3,214.8 L238.0,207.9 L241.6,201.1 L245.2,194.2 L248.8,187.4 L252.5,180.6 L256.1,173.9 L259.7,167.2 L263.3,160.6 L267.0,154.1 L270.6,147.7 L274.2,141.3 L277.9,135.1 L281.5,129.1 L285.1,123.1 L288.7,117.4 L292.4,111.8 L296.0,106.4 L299.6,101.2 L303.2,96.3 L306.9,91.6 L310.5,87.2 L314.1,83.0 L317.8,79.2 L321.4,75.7 L325.0,72.5 L328.6,69.7 L332.3,67.3 L335.9,65.2 L339.5,63.3 L343.1,62.2 L346.8,61.5 L350.4,60.9 L354.0,60.7 L357.7,60.9 L361.3,61.5 L364.9,62.3 L368.5,63.3 L372.2,64.6 L375.8,66.0 L379.4,67.6 L383.0,69.2 L386.7,70.9 L390.3,72.7 L393.9,74.6 L397.6,76.5 L401.2,78.6 L404.8,80.8 L408.4,83.1 L412.1,85.7 L415.7,88.4 L419.3,91.4 L422.9,94.7 L426.6,98.2 L430.2,102.1 L433.8,106.3 L437.5,110.9 L441.1,115.7 L444.7,120.9 L448.3,126.4 L452.0,132.1 L455.6,138.0 L459.2,144.1 L462.8,150.4 L466.5,156.7 L470.1,163.1 L473.7,169.4 L477.4,175.7 L481.0,181.9 L484.6,188.0 L488.2,194.0 L491.9,199.8 L495.5,205.5 L499.1,211.0 L502.8,216.5 L506.4,221.7 L510.0,226.9 L513.6,232.0 L517.3,237.0 L520.9,241.9 L524.5,246.8 L528.1,251.5 L531.8,256.3 L535.4,260.9 L539.0,265.5 L542.7,270.0 L546.3,274.4 L549.9,278.7 L553.5,282.9 L557.2,287.1 L560.8,291.1 L564.4,295.1 L568.0,298.9 L571.7,302.7 L575.3,306.5 L578.9,310.3 L582.6,313.9 L586.2,317.4 L589.8,320.8 L593.4,324.0 L597.1,327.1 L600.7,330.0 L604.3,332.3 L607.9,334.1 L611.6,335.5 L615.2,336.8 L618.8,338.0 L622.5,339.2 L626.1,340.1 L629.7,340.9 L633.3,341.6 L637.0,342.1 L640.6,342.6 L644.2,343.0 L647.8,343.3 L651.5,343.5 L655.1,343.7 L658.7,343.8"/>
<path d="M61.3,383.6 L65.0,383.6 L68.6,383.5 L72.3,383.3 L75.9,383.1 L79.6,382.8 L83.2,382.6 L86.9,382.2 L90.5,381.8 L94.2,381.3 L97.9,380.7 L101.5,380.0 L105.2,379.2 L108.8,378.4 L112.5,377.6 L116.1,376.7 L119.8,375.7 L123.4,374.7 L127.1,373.4 L130.8,372.0 L134.4,370.3 L138.1,368.3 L141.7,366.0 L145.4,363.3 L149.0,360.2 L152.7,356.7 L156.3,352.9 L160.0,348.6 L163.6,344.0 L167.3,339.2 L171.0,334.1 L174.6,328.9 L178.3,323.4 L181.9,317.8 L185.6,312.0 L189.2,306.1 L192.9,300.0 L196.5,293.9 L200.2,287.6 L203.9,281.2 L207.5,274.8 L211.2,268.3 L214.8,261.7 L218.5,255.1 L222.1,248.4 L225.8,241.7 L229.4,234.8 L233.1,227.9 L236.8,220.9 L240.4,213.7 L244.1,206.3 L247.7,198.7 L251.4,191.0 L255.0,183.1 L258.7,174.9 L262.3,166.7 L266.0,158.3 L269.7,149.8 L273.3,141.2 L277.0,132.7 L280.6,124.1 L284.3,115.7 L287.9,107.5 L291.6,99.4 L295.2,91.8 L298.9,84.5 L302.6,77.6 L306.2,71.3 L309.9,65.5 L313.5,60.2 L317.2,55.7 L320.8,51.8 L324.5,48.5 L328.1,46.1 L331.8,44.4 L335.5,43.1 L339.1,42.5 L342.8,42.7 L346.4,43.2 L350.1,43.9 L353.7,45.2 L357.4,47.2 L361.0,49.4 L364.7,51.8 L368.3,54.5 L372.0,57.4 L375.7,60.3 L379.3,63.4 L383.0,66.5 L386.6,69.6 L390.3,72.8 L393.9,76.0 L397.6,79.2 L401.2,82.5 L404.9,85.8 L408.6,89.2 L412.2,92.6 L415.9,96.0 L419.5,99.5 L423.2,103.0 L426.8,106.7 L430.5,110.4 L434.1,114.1 L437.8,118.0 L441.5,122.0 L445.1,126.2 L448.8,130.5 L452.4,135.0 L456.1,139.7 L459.7,144.5 L463.4,149.6 L467.0,154.9 L470.7,160.4 L474.4,166.1 L478.0,172.0 L481.7,178.0 L485.3,184.2 L489.0,190.5 L492.6,196.8 L496.3,203.3 L499.9,209.8 L503.6,216.2 L507.3,222.7 L510.9,229.1 L514.6,235.4 L518.2,241.7 L521.9,247.8 L525.5,253.8 L529.2,259.7 L532.8,265.4 L536.5,271.0 L540.1,276.3 L543.8,281.5 L547.5,286.5 L551.1,291.4 L554.8,296.0 L558.4,300.5 L562.1,304.9 L565.7,309.1 L569.4,313.1 L573.0,317.0 L576.7,320.9 L580.4,324.6 L584.0,328.3 L587.7,331.9 L591.3,335.4 L595.0,338.7 L598.6,341.9 L602.3,344.9 L605.9,347.9 L609.6,350.7 L613.3,353.1 L616.9,355.2 L620.6,357.0 L624.2,358.5 L627.9,359.7 L631.5,360.8 L635.2,361.7 L638.8,362.6 L642.5,363.4 L646.2,364.1 L649.8,364.8 L653.5,365.4 L657.1,365.9 L660.8,366.5 L664.4,367.0 L668.1,367.4 L671.7,367.8 L675.4,368.2 L679.1,368.4"/>
<path d="M70.7,378.7 L74.3,378.7 L77.8,378.6 L81.4,378.4 L85.0,378.3 L88.5,378.0 L92.1,377.8 L95.7,377.6 L99.2,377.3 L102.8,377.0 L106.4,376.6 L109.9,376.1 L113.5,375.6 L117.0,375.0 L120.6,374.3 L124.2,373.6 L127.7,372.7 L131.3,371.8 L134.9,370.7 L138.4,369.1 L142.0,366.7 L145.5,364.0 L149.1,360.9 L152.7,357.3 L156.2,353.3 L159.8,349.0 L163.4,344.2 L166.9,339.1 L170.5,333.8 L174.1,328.2 L177.6,322.4 L181.2,316.5 L184.7,310.4 L188.3,304.2 L191.9,297.8 L195.4,291.4 L199.0,284.9 L202.6,278.3 L206.1,271.6 L209.7,265.0 L213.3,258.3 L216.8,251.6 L220.4,245.0 L223.9,238.4 L227.5,231.9 L231.1,225.5 L234.6,219.1 L238.2,212.7 L241.8,206.5 L245.3,200.3 L248.9,194.2 L252.4,188.2 L256.0,182.3 L259.6,176.5 L263.1,170.8 L266.7,165.1 L270.3,159.5 L273.8,153.9 L277.4,148.4 L281.0,142.8 L284.5,137.3 L288.1,131.8 L291.6,126.3 L295.2,120.8 L298.8,115.4 L302.3,110.0 L305.9,104.7 L309.5,99.5 L313.0,94.5 L316.6,89.7 L320.2,85.2 L323.7,80.9 L327.3,77.2 L330.8,73.8 L334.4,70.8 L338.0,68.4 L341.5,66.5 L345.1,65.0 L348.7,64.4 L352.2,64.4 L355.8,64.5 L359.3,64.7 L362.9,65.5 L366.5,67.0 L370.0,68.7 L373.6,70.5 L377.2,72.5 L380.7,74.7 L384.3,76.8 L387.9,79.0 L391.4,81.1 L395.0,83.2 L398.5,85.2 L402.1,87.2 L405.7,89.2 L409.2,91.1 L412.8,93.0 L416.4,95.0 L419.9,97.0 L423.5,99.1 L427.1,101.4 L430.6,103.9 L434.2,106.6 L437.7,109.7 L441.3,113.0 L444.9,116.6 L448.4,120.5 L452.0,124.9 L455.6,129.5 L459.1,134.5 L462.7,139.8 L466.2,145.3 L469.8,151.1 L473.4,157.1 L476.9,163.2 L480.5,169.4 L484.1,175.7 L487.6,182.0 L491.2,188.3 L494.8,194.6 L498.3,200.8 L501.9,206.9 L505.4,212.8 L509.0,218.7 L512.6,224.4 L516.1,230.1 L519.7,235.6 L523.3,241.0 L526.8,246.3 L530.4,251.6 L534.0,256.7 L537.5,261.8 L541.1,266.9 L544.6,271.9 L548.2,276.9 L551.8,281.8 L555.3,286.7 L558.9,291.5 L562.5,296.2 L566.0,300.9 L569.6,305.5 L573.1,310.1 L576.7,314.6 L580.3,319.0 L583.8,323.3 L587.4,327.4 L591.0,331.5 L594.5,335.3 L598.1,338.8 L601.7,342.2 L605.2,345.2 L608.8,347.9 L612.3,350.3 L615.9,352.2 L619.5,353.6 L623.0,354.7 L626.6,355.6 L630.2,356.6 L633.7,357.4 L637.3,358.1 L640.9,358.8 L644.4,359.4 L648.0,360.0 L651.5,360.5 L655.1,361.1 L658.7,361.6 L662.2,362.0 L665.8,362.4 L669.4,362.8 L672.9,363.1"/>
<path d="M93.0,368.0 L96.1,367.9 L99.2,367.8 L102.3,367.6 L105.4,367.3 L108.6,367.0 L111.7,366.7 L114.8,366.3 L117.9,365.8 L121.0,365.2 L124.1,364.5 L127.3,363.6 L130.4,362.7 L133.5,361.6 L136.6,360.4 L139.7,359.0 L142.8,356.9 L146.0,354.0 L149.1,350.8 L152.2,347.6 L155.3,344.0 L158.4,340.3 L161.5,336.4 L164.7,332.4 L167.8,328.2 L170.9,324.0 L174.0,319.7 L177.1,315.4 L180.3,311.0 L183.4,306.7 L186.5,302.3 L189.6,297.9 L192.7,293.4 L195.8,288.9 L199.0,284.4 L202.1,279.9 L205.2,275.2 L208.3,270.6 L211.4,265.8 L214.5,261.0 L217.7,256.1 L220.8,251.2 L223.9,246.1 L227.0,240.8 L230.1,235.5 L233.2,230.0 L236.4,224.3 L239.5,218.5 L242.6,212.6 L245.7,206.5 L248.8,200.2 L252.0,193.8 L255.1,187.3 L258.2,180.7 L261.3,174.1 L264.4,167.4 L267.5,160.6 L270.7,153.9 L273.8,147.1 L276.9,140.4 L280.0,133.7 L283.1,127.1 L286.2,120.6 L289.4,114.3 L292.5,108.0 L295.6,102.0 L298.7,96.1 L301.8,90.4 L304.9,84.9 L308.1,79.8 L311.2,74.9 L314.3,70.2 L317.4,65.9 L320.5,62.0 L323.7,58.3 L326.8,55.1 L329.9,52.3 L333.0,49.8 L336.1,47.9 L339.2,46.5 L342.4,45.3 L345.5,44.9 L348.6,44.9 L351.7,45.1 L354.8,45.4 L357.9,46.3 L361.1,48.1 L364.2,50.1 L367.3,52.4 L370.4,55.1 L373.5,58.0 L376.6,61.1 L379.8,64.5 L382.9,68.1 L386.0,71.9 L389.1,75.8 L392.2,79.8 L395.4,83.9 L398.5,88.1 L401.6,92.4 L404.7,96.7 L407.8,101.1 L410.9,105.4 L414.1,109.8 L417.2,114.2 L420.3,118.6 L423.4,123.0 L426.5,127.4 L429.6,131.7 L432.8,136.0 L435.9,140.3 L439.0,144.6 L442.1,148.8 L445.2,152.9 L448.3,157.1 L451.5,161.2 L454.6,165.3 L457.7,169.3 L460.8,173.4 L463.9,177.4 L467.0,181.4 L470.2,185.3 L473.3,189.3 L476.4,193.3 L479.5,197.3 L482.6,201.4 L485.8,205.4 L488.9,209.5 L492.0,213.6 L495.1,217.8 L498.2,222.1 L501.3,226.4 L504.5,230.8 L507.6,235.2 L510.7,239.7 L513.8,244.2 L516.9,248.7 L520.0,253.3 L523.2,257.9 L526.3,262.4 L529.4,267.0 L532.5,271.5 L535.6,275.9 L538.7,280.2 L541.9,284.5 L545.0,289.2 L548.1,293.8 L551.2,297.3 L554.3,299.5 L557.5,301.2 L560.6,302.6 L563.7,303.8 L566.8,304.7 L569.9,305.6 L573.0,306.4 L576.2,307.1 L579.3,307.7 L582.4,308.3 L585.5,308.8 L588.6,309.4 L591.7,309.9 L594.9,310.5 L598.0,311.0 L601.1,311.5 L604.2,311.9 L607.3,312.2 L610.4,312.4 L613.6,312.6 L616.7,312.7 L619.8,312.8"/>
<path d="M49.6,390.4 L53.3,390.3 L56.9,390.2 L60.5,390.1 L64.1,389.9 L67.7,389.7 L71.3,389.5 L74.9,389.3 L78.6,388.9 L82.2,388.5 L85.8,387.9 L89.4,387.4 L93.0,386.7 L96.6,386.1 L100.2,385.4 L103.9,384.7 L107.5,384.0 L111.1,383.3 L114.7,382.7 L118.3,382.1 L121.9,381.3 L125.6,380.4 L129.2,379.3 L132.8,378.1 L136.4,376.5 L140.0,374.7 L143.6,372.5 L147.2,370.0 L150.9,366.9 L154.5,363.5 L158.1,359.6 L161.7,355.2 L165.3,350.6 L168.9,345.6 L172.5,340.3 L176.2,334.8 L179.8,329.1 L183.4,323.1 L187.0,317.1 L190.6,310.9 L194.2,304.5 L197.8,298.1 L201.5,291.6 L205.1,285.0 L208.7,278.5 L212.3,271.9 L215.9,265.4 L219.5,258.9 L223.1,252.4 L226.8,245.9 L230.4,239.4 L234.0,232.9 L237.6,226.4 L241.2,219.8 L244.8,213.1 L248.4,206.4 L252.1,199.5 L255.7,192.6 L259.3,185.5 L262.9,178.4 L266.5,171.2 L270.1,163.8 L273.7,156.4 L277.4,148.9 L281.0,141.3 L284.6,133.7 L288.2,126.2 L291.8,118.6 L295.4,111.1 L299.0,103.8 L302.7,96.6 L306.3,89.7 L309.9,83.1 L313.5,76.7 L317.1,70.9 L320.7,65.6 L324.3,60.6 L328.0,56.3 L331.6,52.6 L335.2,49.3 L338.8,47.0 L342.4,45.5 L346.0,44.3 L349.7,43.8 L353.3,44.0 L356.9,44.7 L360.5,45.6 L364.1,47.1 L367.7,49.3 L371.3,51.8 L375.0,54.5 L378.6,57.4 L382.2,60.5 L385.8,63.6 L389.4,66.9 L393.0,70.1 L396.6,73.4 L400.3,76.7 L403.9,79.9 L407.5,83.2 L411.1,86.5 L414.7,89.8 L418.3,93.1 L421.9,96.5 L425.6,100.1 L429.2,103.8 L432.8,107.6 L436.4,111.5 L440.0,115.7 L443.6,120.1 L447.2,124.6 L450.9,129.4 L454.5,134.3 L458.1,139.4 L461.7,144.6 L465.3,149.9 L468.9,155.3 L472.5,160.8 L476.2,166.4 L479.8,171.9 L483.4,177.5 L487.0,183.1 L490.6,188.7 L494.2,194.3 L497.8,199.9 L501.5,205.6 L505.1,211.3 L508.7,217.0 L512.3,222.8 L515.9,228.6 L519.5,234.4 L523.1,240.3 L526.8,246.1 L530.4,252.0 L534.0,257.8 L537.6,263.5 L541.2,269.2 L544.8,274.8 L548.5,280.3 L552.1,285.7 L555.7,290.8 L559.3,295.8 L562.9,300.7 L566.5,305.3 L570.1,309.7 L573.8,314.0 L577.4,318.1 L581.0,322.4 L584.6,326.6 L588.2,329.8 L591.8,332.1 L595.4,334.0 L599.1,335.5 L602.7,336.7 L606.3,337.7 L609.9,338.7 L613.5,339.5 L617.1,340.2 L620.7,340.9 L624.4,341.6 L628.0,342.2 L631.6,342.8 L635.2,343.5 L638.8,344.1 L642.4,344.8 L646.0,345.4 L649.7,345.9 L653.3,346.5 L656.9,347.0 L660.5,347.5"/>
<path d="M79.4,377.8 L82.8,377.3 L86.3,376.8 L89.7,376.3 L93.2,375.8 L96.6,375.3 L100.0,374.8 L103.5,374.3 L106.9,373.9 L110.4,373.4 L113.8,372.9 L117.2,372.3 L120.7,371.7 L124.1,370.8 L127.6,369.8 L131.0,367.9 L134.4,364.8 L137.9,361.6 L141.3,358.2 L144.8,354.5 L148.2,350.5 L151.6,346.2 L155.1,341.5 L158.5,336.6 L162.0,331.6 L165.4,326.3 L168.8,321.0 L172.3,315.7 L175.7,310.3 L179.2,305.0 L182.6,299.6 L186.0,294.3 L189.5,289.0 L192.9,283.6 L196.3,278.2 L199.8,272.7 L203.2,267.1 L206.7,261.4 L210.1,255.6 L213.5,249.6 L217.0,243.4 L220.4,237.1 L223.9,230.5 L227.3,223.8 L230.7,216.8 L234.2,209.7 L237.6,202.3 L241.1,194.9 L244.5,187.3 L247.9,179.6 L251.4,171.9 L254.8,164.3 L258.3,156.7 L261.7,149.3 L265.1,142.1 L268.6,135.0 L272.0,128.3 L275.5,121.9 L278.9,115.7 L282.3,110.0 L285.8,104.5 L289.2,99.4 L292.7,94.6 L296.1,90.1 L299.5,86.0 L303.0,82.1 L306.4,78.6 L309.9,75.3 L313.3,72.3 L316.7,69.6 L320.2,67.1 L323.6,64.9 L327.1,63.0 L330.5,61.3 L333.9,60.0 L337.4,59.0 L340.8,58.2 L344.2,57.9 L347.7,58.1 L351.1,58.5 L354.6,59.0 L358.0,60.0 L361.4,61.6 L364.9,63.4 L368.3,65.4 L371.8,67.8 L375.2,70.4 L378.6,73.1 L382.1,76.0 L385.5,79.0 L389.0,82.0 L392.4,85.1 L395.8,88.2 L399.3,91.3 L402.7,94.3 L406.2,97.3 L409.6,100.3 L413.0,103.2 L416.5,106.1 L419.9,108.9 L423.4,111.7 L426.8,114.6 L430.2,117.5 L433.7,120.4 L437.1,123.4 L440.6,126.5 L444.0,129.7 L447.4,133.2 L450.9,136.8 L454.3,140.7 L457.8,144.8 L461.2,149.1 L464.6,153.7 L468.1,158.6 L471.5,163.8 L474.9,169.3 L478.4,175.0 L481.8,181.0 L485.3,187.3 L488.7,193.8 L492.1,200.5 L495.6,207.4 L499.0,214.5 L502.5,221.7 L505.9,229.0 L509.3,236.4 L512.8,243.7 L516.2,251.1 L519.7,258.3 L523.1,265.4 L526.5,272.3 L530.0,278.9 L533.4,285.3 L536.9,291.4 L540.3,297.2 L543.7,302.5 L547.2,307.6 L550.6,312.2 L554.1,316.4 L557.5,320.3 L560.9,323.8 L564.4,327.2 L567.8,330.4 L571.3,332.6 L574.7,334.0 L578.1,335.1 L581.6,336.0 L585.0,336.9 L588.5,337.7 L591.9,338.4 L595.3,339.1 L598.8,339.6 L602.2,340.2 L605.6,340.7 L609.1,341.1 L612.5,341.6 L616.0,342.0 L619.4,342.3 L622.8,342.7 L626.3,343.1 L629.7,343.5 L633.2,343.8 L636.6,344.2 L640.0,344.5 L643.5,344.8 L646.9,345.1 L650.4,345.3 L653.8,345.6 L657.2,345.8 L660.7,346.0"/>
<path d="M64.5,385.2 L68.0,384.9 L71.5,384.6 L75.1,384.2 L78.6,383.9 L82.1,383.5 L85.6,383.1 L89.1,382.6 L92.6,382.2 L96.1,381.7 L99.6,381.2 L103.1,380.7 L106.6,380.2 L110.1,379.6 L113.6,379.0 L117.1,378.4 L120.6,377.8 L124.1,377.1 L127.6,376.3 L131.1,375.4 L134.6,374.2 L138.1,372.9 L141.6,371.4 L145.1,369.5 L148.6,367.2 L152.1,364.6 L155.6,361.6 L159.1,358.1 L162.6,354.3 L166.1,350.2 L169.7,345.7 L173.2,340.8 L176.7,335.7 L180.2,330.2 L183.7,324.4 L187.2,318.3 L190.7,311.8 L194.2,305.1 L197.7,298.0 L201.2,290.7 L204.7,283.1 L208.2,275.3 L211.7,267.2 L215.2,259.0 L218.7,250.6 L222.2,242.0 L225.7,233.4 L229.2,224.7 L232.7,215.9 L236.2,207.1 L239.7,198.2 L243.2,189.4 L246.7,180.6 L250.2,172.0 L253.7,163.4 L257.2,155.1 L260.7,147.1 L264.3,139.2 L267.8,131.7 L271.3,124.6 L274.8,117.8 L278.3,111.4 L281.8,105.5 L285.3,99.9 L288.8,94.9 L292.3,90.3 L295.8,86.0 L299.3,82.3 L302.8,78.9 L306.3,75.9 L309.8,73.3 L313.3,71.1 L316.8,69.0 L320.3,67.3 L323.8,65.9 L327.3,64.6 L330.8,63.7 L334.3,62.9 L337.8,62.4 L341.3,62.1 L344.8,62.2 L348.3,62.3 L351.8,62.4 L355.3,63.0 L358.9,64.0 L362.4,65.2 L365.9,66.5 L369.4,68.2 L372.9,70.0 L376.4,72.0 L379.9,74.3 L383.4,76.6 L386.9,79.1 L390.4,81.7 L393.9,84.5 L397.4,87.3 L400.9,90.2 L404.4,93.2 L407.9,96.3 L411.4,99.4 L414.9,102.6 L418.4,105.9 L421.9,109.2 L425.4,112.6 L428.9,116.1 L432.4,119.6 L435.9,123.3 L439.4,127.1 L442.9,131.1 L446.4,135.1 L449.9,139.3 L453.5,143.7 L457.0,148.1 L460.5,152.7 L464.0,157.5 L467.5,162.4 L471.0,167.3 L474.5,172.4 L478.0,177.6 L481.5,182.8 L485.0,188.1 L488.5,193.5 L492.0,198.9 L495.5,204.3 L499.0,209.8 L502.5,215.3 L506.0,220.8 L509.5,226.3 L513.0,231.7 L516.5,237.2 L520.0,242.6 L523.5,247.9 L527.0,253.1 L530.5,258.2 L534.0,263.3 L537.5,268.2 L541.0,272.9 L544.6,277.5 L548.1,282.0 L551.6,286.3 L555.1,290.4 L558.6,294.4 L562.1,298.2 L565.6,301.9 L569.1,305.4 L572.6,308.9 L576.1,312.2 L579.6,315.5 L583.1,318.6 L586.6,321.7 L590.1,324.6 L593.6,326.8 L597.1,328.4 L600.6,329.6 L604.1,330.8 L607.6,331.8 L611.1,332.7 L614.6,333.6 L618.1,334.4 L621.6,335.1 L625.1,335.7 L628.6,336.4 L632.1,337.0 L635.6,337.6 L639.2,338.2 L642.7,338.7 L646.2,339.2 L649.7,339.7 L653.2,340.1 L656.7,340.4"/>
<path d="M45.2,390.4 L49.0,390.1 L52.7,389.8 L56.4,389.4 L60.2,389.0 L63.9,388.6 L67.6,388.1 L71.4,387.5 L75.1,386.9 L78.8,386.2 L82.6,385.5 L86.3,384.8 L90.0,384.2 L93.8,383.7 L97.5,383.3 L101.2,383.1 L105.0,382.9 L108.7,382.6 L112.4,382.2 L116.2,381.7 L119.9,381.0 L123.6,380.0 L127.4,378.7 L131.1,377.1 L134.8,375.2 L138.6,372.9 L142.3,370.2 L146.0,367.1 L149.8,363.4 L153.5,359.3 L157.2,354.8 L161.0,349.8 L164.7,344.5 L168.4,339.0 L172.2,333.2 L175.9,327.3 L179.6,321.2 L183.4,315.0 L187.1,308.6 L190.8,302.1 L194.6,295.5 L198.3,288.8 L202.0,281.9 L205.8,274.9 L209.5,267.7 L213.2,260.4 L217.0,253.0 L220.7,245.5 L224.4,237.8 L228.2,230.1 L231.9,222.2 L235.6,214.2 L239.4,206.1 L243.1,197.9 L246.8,189.7 L250.6,181.4 L254.3,173.2 L258.0,165.0 L261.8,156.8 L265.5,148.7 L269.2,140.8 L273.0,133.0 L276.7,125.4 L280.4,118.1 L284.2,110.9 L287.9,104.0 L291.6,97.4 L295.4,91.0 L299.1,85.0 L302.8,79.3 L306.6,73.9 L310.3,68.8 L314.0,64.1 L317.8,59.7 L321.5,55.8 L325.2,52.2 L329.0,48.9 L332.7,46.1 L336.4,43.7 L340.2,41.6 L343.9,40.3 L347.6,39.6 L351.4,39.1 L355.1,38.9 L358.8,39.4 L362.6,40.5 L366.3,42.0 L370.0,43.8 L373.8,46.3 L377.5,49.0 L381.2,52.1 L385.0,55.5 L388.7,59.2 L392.4,63.0 L396.2,67.2 L399.9,71.5 L403.6,75.9 L407.4,80.5 L411.1,85.2 L414.8,90.0 L418.6,94.8 L422.3,99.7 L426.0,104.6 L429.8,109.6 L433.5,114.6 L437.2,119.6 L441.0,124.6 L444.7,129.7 L448.4,134.9 L452.2,140.1 L455.9,145.3 L459.6,150.7 L463.4,156.1 L467.1,161.6 L470.8,167.2 L474.6,172.9 L478.3,178.7 L482.0,184.7 L485.8,190.8 L489.5,197.0 L493.2,203.3 L497.0,209.8 L500.7,216.4 L504.4,223.0 L508.2,229.8 L511.9,236.5 L515.6,243.3 L519.4,250.1 L523.1,256.8 L526.8,263.3 L530.6,269.8 L534.3,276.1 L538.0,282.1 L541.8,288.0 L545.5,293.5 L549.2,298.8 L553.0,303.8 L556.7,308.5 L560.4,312.8 L564.2,316.9 L567.9,320.7 L571.6,324.3 L575.3,327.6 L579.1,330.8 L582.8,333.8 L586.5,336.8 L590.3,339.5 L594.0,342.3 L597.7,344.9 L601.5,347.3 L605.2,349.6 L608.9,351.7 L612.7,353.5 L616.4,354.9 L620.1,356.0 L623.9,357.1 L627.6,358.1 L631.3,359.1 L635.1,359.9 L638.8,360.7 L642.5,361.4 L646.3,362.0 L650.0,362.6 L653.7,363.1 L657.5,363.6 L661.2,364.0 L664.9,364.4 L668.7,364.8 L672.4,365.1 L676.1,365.4"/>
<path d="M71.9,374.8 L75.4,374.8 L78.9,374.7 L82.4,374.6 L85.9,374.4 L89.4,374.2 L92.9,374.0 L96.4,373.8 L99.9,373.5 L103.4,373.2 L107.0,372.8 L110.5,372.4 L114.0,371.9 L117.5,371.4 L121.0,370.7 L124.5,370.0 L128.0,369.1 L131.5,368.1 L135.0,367.0 L138.5,365.8 L142.0,363.5 L145.5,359.7 L149.1,355.6 L152.6,351.3 L156.1,346.5 L159.6,341.4 L163.1,336.0 L166.6,330.2 L170.1,324.3 L173.6,318.2 L177.1,311.9 L180.6,305.5 L184.1,299.0 L187.7,292.4 L191.2,285.8 L194.7,279.1 L198.2,272.4 L201.7,265.7 L205.2,258.9 L208.7,252.0 L212.2,245.2 L215.7,238.3 L219.2,231.4 L222.7,224.4 L226.2,217.4 L229.8,210.3 L233.3,203.1 L236.8,195.9 L240.3,188.6 L243.8,181.3 L247.3,173.9 L250.8,166.5 L254.3,159.1 L257.8,151.8 L261.3,144.5 L264.8,137.4 L268.3,130.5 L271.9,123.7 L275.4,117.2 L278.9,111.0 L282.4,105.0 L285.9,99.5 L289.4,94.3 L292.9,89.4 L296.4,85.0 L299.9,81.0 L303.4,77.4 L306.9,74.3 L310.5,71.6 L314.0,69.3 L317.5,67.5 L321.0,66.1 L324.5,65.0 L328.0,64.6 L331.5,64.7 L335.0,64.9 L338.5,65.2 L342.0,65.9 L345.5,67.2 L349.0,68.8 L352.6,70.4 L356.1,72.4 L359.6,74.5 L363.1,76.6 L366.6,79.0 L370.1,81.3 L373.6,83.7 L377.1,86.1 L380.6,88.5 L384.1,90.9 L387.6,93.4 L391.2,95.8 L394.7,98.4 L398.2,100.9 L401.7,103.6 L405.2,106.4 L408.7,109.3 L412.2,112.3 L415.7,115.4 L419.2,118.7 L422.7,122.1 L426.2,125.6 L429.7,129.2 L433.3,132.8 L436.8,136.6 L440.3,140.4 L443.8,144.3 L447.3,148.2 L450.8,152.2 L454.3,156.2 L457.8,160.3 L461.3,164.4 L464.8,168.6 L468.3,172.8 L471.8,177.2 L475.4,181.6 L478.9,186.2 L482.4,190.8 L485.9,195.5 L489.4,200.4 L492.9,205.4 L496.4,210.4 L499.9,215.5 L503.4,220.7 L506.9,226.0 L510.4,231.2 L514.0,236.5 L517.5,241.8 L521.0,247.0 L524.5,252.2 L528.0,257.2 L531.5,262.2 L535.0,267.0 L538.5,271.7 L542.0,276.3 L545.5,280.7 L549.0,284.9 L552.5,288.9 L556.1,292.8 L559.6,296.5 L563.1,300.1 L566.6,303.5 L570.1,306.9 L573.6,310.1 L577.1,313.3 L580.6,316.4 L584.1,319.6 L587.6,322.7 L591.1,325.6 L594.6,328.3 L598.2,330.8 L601.7,333.2 L605.2,335.8 L608.7,338.3 L612.2,340.4 L615.7,342.1 L619.2,343.6 L622.7,344.9 L626.2,346.2 L629.7,347.4 L633.2,348.4 L636.8,349.2 L640.3,350.0 L643.8,350.6 L647.3,351.0 L650.8,351.4 L654.3,351.7 L657.8,351.9 L661.3,352.1 L664.8,352.2"/>
<path d="M67.5,379.4 L71.1,379.2 L74.7,379.0 L78.3,378.7 L81.9,378.4 L85.4,378.0 L89.0,377.6 L92.6,377.3 L96.2,376.9 L99.8,376.5 L103.4,376.1 L106.9,375.7 L110.5,375.1 L114.1,374.5 L117.7,373.8 L121.3,372.9 L124.9,371.9 L128.4,369.7 L132.0,366.2 L135.6,362.5 L139.2,358.7 L142.8,354.7 L146.3,350.3 L149.9,345.7 L153.5,340.8 L157.1,335.7 L160.7,330.4 L164.3,325.0 L167.8,319.6 L171.4,314.3 L175.0,308.9 L178.6,303.5 L182.2,298.2 L185.8,293.0 L189.3,287.7 L192.9,282.4 L196.5,277.1 L200.1,271.7 L203.7,266.3 L207.3,260.8 L210.8,255.2 L214.4,249.5 L218.0,243.7 L221.6,237.8 L225.2,231.8 L228.8,225.7 L232.3,219.5 L235.9,213.1 L239.5,206.7 L243.1,200.2 L246.7,193.6 L250.2,186.9 L253.8,180.2 L257.4,173.5 L261.0,166.8 L264.6,160.1 L268.2,153.5 L271.7,146.8 L275.3,140.3 L278.9,133.8 L282.5,127.4 L286.1,121.2 L289.7,115.1 L293.2,109.1 L296.8,103.3 L300.4,97.8 L304.0,92.5 L307.6,87.6 L311.2,83.0 L314.7,78.7 L318.3,75.0 L321.9,71.7 L325.5,68.8 L329.1,66.8 L332.7,65.4 L336.2,64.4 L339.8,63.9 L343.4,64.2 L347.0,64.9 L350.6,65.8 L354.2,67.2 L357.7,69.5 L361.3,71.9 L364.9,74.5 L368.5,77.5 L372.1,80.5 L375.6,83.6 L379.2,86.7 L382.8,89.7 L386.4,92.6 L390.0,95.5 L393.6,98.3 L397.1,101.1 L400.7,103.7 L404.3,106.4 L407.9,109.2 L411.5,111.9 L415.1,114.8 L418.6,117.8 L422.2,120.9 L425.8,124.3 L429.4,127.8 L433.0,131.6 L436.6,135.5 L440.1,139.6 L443.7,143.9 L447.3,148.3 L450.9,152.8 L454.5,157.4 L458.1,162.0 L461.6,166.6 L465.2,171.1 L468.8,175.6 L472.4,180.0 L476.0,184.3 L479.5,188.5 L483.1,192.6 L486.7,196.5 L490.3,200.4 L493.9,204.3 L497.5,208.0 L501.0,211.8 L504.6,215.5 L508.2,219.3 L511.8,223.1 L515.4,227.0 L519.0,230.9 L522.5,234.9 L526.1,239.0 L529.7,243.1 L533.3,247.4 L536.9,251.8 L540.5,256.3 L544.0,260.9 L547.6,265.6 L551.2,270.4 L554.8,275.3 L558.4,280.3 L562.0,285.3 L565.5,290.4 L569.1,295.6 L572.7,300.7 L576.3,305.9 L579.9,311.0 L583.5,316.1 L587.0,321.0 L590.6,325.6 L594.2,330.0 L597.8,334.1 L601.4,337.9 L604.9,341.4 L608.5,344.6 L612.1,347.5 L615.7,350.2 L619.3,352.3 L622.9,353.8 L626.4,355.0 L630.0,356.1 L633.6,357.1 L637.2,358.0 L640.8,358.8 L644.4,359.5 L647.9,360.2 L651.5,360.8 L655.1,361.3 L658.7,361.9 L662.3,362.3 L665.9,362.7 L669.4,363.1 L673.0,363.4"/>
<path d="M44.6,391.4 L48.4,391.2 L52.1,390.9 L55.9,390.6 L59.6,390.2 L63.4,389.9 L67.2,389.5 L70.9,389.1 L74.7,388.7 L78.4,388.4 L82.2,388.0 L85.9,387.7 L89.7,387.3 L93.4,387.0 L97.2,386.6 L100.9,386.1 L104.7,385.6 L108.5,385.0 L112.2,384.4 L116.0,383.6 L119.7,382.7 L123.5,381.1 L127.2,378.5 L131.0,375.7 L134.7,372.8 L138.5,369.7 L142.3,366.2 L146.0,362.3 L149.8,358.1 L153.5,353.5 L157.3,348.6 L161.0,343.4 L164.8,338.0 L168.5,332.4 L172.3,326.6 L176.0,320.6 L179.8,314.6 L183.6,308.4 L187.3,302.1 L191.1,295.6 L194.8,289.1 L198.6,282.4 L202.3,275.6 L206.1,268.7 L209.8,261.8 L213.6,254.8 L217.4,247.7 L221.1,240.6 L224.9,233.4 L228.6,226.1 L232.4,218.7 L236.1,211.2 L239.9,203.6 L243.6,195.9 L247.4,188.0 L251.1,180.0 L254.9,171.8 L258.7,163.6 L262.4,155.2 L266.2,146.8 L269.9,138.4 L273.7,130.0 L277.4,121.7 L281.2,113.6 L284.9,105.6 L288.7,97.9 L292.5,90.5 L296.2,83.4 L300.0,76.8 L303.7,70.7 L307.5,65.1 L311.2,60.2 L315.0,55.8 L318.7,52.0 L322.5,49.0 L326.2,46.6 L330.0,44.6 L333.8,43.8 L337.5,43.8 L341.3,44.0 L345.0,44.3 L348.8,45.3 L352.5,47.3 L356.3,49.6 L360.0,51.9 L363.8,54.7 L367.5,57.6 L371.3,60.6 L375.1,63.7 L378.8,66.8 L382.6,69.9 L386.3,73.0 L390.1,76.1 L393.8,79.2 L397.6,82.2 L401.3,85.4 L405.1,88.5 L408.9,91.7 L412.6,95.0 L416.4,98.4 L420.1,101.9 L423.9,105.6 L427.6,109.3 L431.4,113.2 L435.1,117.3 L438.9,121.5 L442.6,125.9 L446.4,130.5 L450.2,135.2 L453.9,140.2 L457.7,145.4 L461.4,150.8 L465.2,156.3 L468.9,162.1 L472.7,167.9 L476.4,174.0 L480.2,180.1 L484.0,186.3 L487.7,192.5 L491.5,198.8 L495.2,205.1 L499.0,211.3 L502.7,217.5 L506.5,223.7 L510.2,229.8 L514.0,235.8 L517.7,241.7 L521.5,247.5 L525.3,253.2 L529.0,258.9 L532.8,264.4 L536.5,269.9 L540.3,275.3 L544.0,280.6 L547.8,285.8 L551.5,290.9 L555.3,295.9 L559.1,300.7 L562.8,305.5 L566.6,310.2 L570.3,314.7 L574.1,319.2 L577.8,323.5 L581.6,327.7 L585.3,331.9 L589.1,336.0 L592.8,340.0 L596.6,343.9 L600.4,347.8 L604.1,351.1 L607.9,353.8 L611.6,356.3 L615.4,358.1 L619.1,359.3 L622.9,360.3 L626.6,361.1 L630.4,361.8 L634.2,362.5 L637.9,363.1 L641.7,363.7 L645.4,364.3 L649.2,364.9 L652.9,365.6 L656.7,366.3 L660.4,367.0 L664.2,367.7 L667.9,368.4 L671.7,369.0 L675.5,369.7 L679.2,370.4"/>
<path d="M79.7,372.5 L83.1,372.3 L86.5,372.1 L90.0,371.8 L93.4,371.5 L96.8,371.2 L100.2,370.8 L103.6,370.4 L107.1,370.0 L110.5,369.6 L113.9,369.1 L117.3,368.5 L120.8,367.9 L124.2,367.2 L127.6,366.4 L131.0,365.4 L134.4,364.3 L137.9,362.6 L141.3,359.9 L144.7,357.1 L148.1,354.1 L151.6,350.8 L155.0,347.2 L158.4,343.5 L161.8,339.4 L165.2,335.3 L168.7,331.0 L172.1,326.6 L175.5,322.1 L178.9,317.5 L182.4,312.9 L185.8,308.3 L189.2,303.5 L192.6,298.7 L196.0,293.9 L199.5,288.9 L202.9,283.9 L206.3,278.7 L209.7,273.5 L213.2,268.1 L216.6,262.6 L220.0,257.0 L223.4,251.2 L226.8,245.3 L230.3,239.2 L233.7,232.9 L237.1,226.4 L240.5,219.8 L244.0,213.0 L247.4,206.1 L250.8,199.1 L254.2,191.9 L257.6,184.8 L261.1,177.5 L264.5,170.3 L267.9,163.1 L271.3,156.0 L274.8,149.0 L278.2,142.2 L281.6,135.6 L285.0,129.1 L288.4,123.0 L291.9,117.1 L295.3,111.5 L298.7,106.3 L302.1,101.5 L305.6,96.9 L309.0,92.8 L312.4,89.1 L315.8,85.7 L319.3,82.8 L322.7,80.3 L326.1,78.1 L329.5,76.4 L332.9,75.0 L336.4,73.9 L339.8,73.4 L343.2,73.3 L346.6,73.2 L350.1,73.2 L353.5,73.5 L356.9,74.4 L360.3,75.3 L363.7,76.3 L367.2,77.5 L370.6,78.7 L374.0,79.9 L377.4,81.2 L380.9,82.4 L384.3,83.7 L387.7,84.9 L391.1,86.1 L394.5,87.4 L398.0,88.6 L401.4,89.9 L404.8,91.3 L408.2,92.8 L411.7,94.5 L415.1,96.3 L418.5,98.3 L421.9,100.5 L425.3,102.9 L428.8,105.6 L432.2,108.6 L435.6,111.8 L439.0,115.3 L442.5,119.0 L445.9,123.0 L449.3,127.3 L452.7,131.8 L456.1,136.5 L459.6,141.4 L463.0,146.4 L466.4,151.5 L469.8,156.8 L473.3,162.2 L476.7,167.6 L480.1,173.0 L483.5,178.5 L486.9,183.9 L490.4,189.3 L493.8,194.7 L497.2,200.1 L500.6,205.4 L504.1,210.7 L507.5,215.9 L510.9,221.1 L514.3,226.2 L517.7,231.3 L521.2,236.3 L524.6,241.2 L528.0,246.1 L531.4,250.9 L534.9,255.7 L538.3,260.4 L541.7,265.0 L545.1,269.6 L548.6,274.1 L552.0,278.5 L555.4,282.8 L558.8,287.1 L562.2,291.3 L565.7,295.4 L569.1,299.5 L572.5,303.4 L575.9,307.3 L579.4,311.2 L582.8,315.0 L586.2,318.7 L589.6,322.2 L593.0,325.5 L596.5,328.1 L599.9,329.8 L603.3,331.2 L606.7,332.4 L610.2,333.6 L613.6,334.7 L617.0,335.7 L620.4,336.6 L623.8,337.4 L627.3,338.1 L630.7,338.7 L634.1,339.3 L637.5,339.9 L641.0,340.4 L644.4,340.9 L647.8,341.4 L651.2,341.7 L654.6,342.1 L658.1,342.3"/>
<path d="M45.5,391.8 L49.1,391.7 L52.8,391.7 L56.5,391.6 L60.1,391.5 L63.8,391.3 L67.5,391.2 L71.2,391.0 L74.8,390.8 L78.5,390.6 L82.2,390.4 L85.8,390.1 L89.5,389.8 L93.2,389.5 L96.9,389.1 L100.5,388.7 L104.2,388.2 L107.9,387.6 L111.5,387.0 L115.2,386.4 L118.9,385.7 L122.6,384.9 L126.2,384.0 L129.9,382.6 L133.6,380.6 L137.2,378.2 L140.9,375.6 L144.6,372.5 L148.3,369.0 L151.9,365.1 L155.6,360.6 L159.3,355.8 L163.0,350.7 L166.6,345.1 L170.3,339.3 L174.0,333.3 L177.6,327.0 L181.3,320.6 L185.0,314.0 L188.7,307.3 L192.3,300.4 L196.0,293.5 L199.7,286.4 L203.3,279.2 L207.0,272.0 L210.7,264.8 L214.4,257.5 L218.0,250.3 L221.7,243.0 L225.4,235.7 L229.0,228.5 L232.7,221.2 L236.4,213.9 L240.1,206.6 L243.7,199.2 L247.4,191.8 L251.1,184.4 L254.8,176.9 L258.4,169.4 L262.1,161.9 L265.8,154.4 L269.4,146.9 L273.1,139.5 L276.8,132.0 L280.5,124.6 L284.1,117.3 L287.8,110.1 L291.5,103.0 L295.1,96.0 L298.8,89.2 L302.5,82.7 L306.2,76.4 L309.8,70.4 L313.5,64.9 L317.2,59.7 L320.8,54.9 L324.5,50.8 L328.2,47.1 L331.9,43.9 L335.5,41.7 L339.2,40.2 L342.9,39.1 L346.5,38.6 L350.2,39.0 L353.9,39.9 L357.6,41.1 L361.2,42.9 L364.9,45.5 L368.6,48.4 L372.3,51.4 L375.9,54.8 L379.6,58.3 L383.3,61.8 L386.9,65.5 L390.6,69.3 L394.3,73.0 L398.0,76.7 L401.6,80.5 L405.3,84.2 L409.0,87.9 L412.6,91.7 L416.3,95.5 L420.0,99.3 L423.7,103.2 L427.3,107.2 L431.0,111.2 L434.7,115.4 L438.3,119.6 L442.0,124.0 L445.7,128.5 L449.4,133.2 L453.0,138.1 L456.7,143.1 L460.4,148.2 L464.1,153.5 L467.7,159.0 L471.4,164.6 L475.1,170.3 L478.7,176.2 L482.4,182.2 L486.1,188.2 L489.8,194.4 L493.4,200.6 L497.1,206.9 L500.8,213.1 L504.4,219.4 L508.1,225.7 L511.8,231.9 L515.5,238.0 L519.1,244.1 L522.8,250.1 L526.5,255.9 L530.1,261.6 L533.8,267.1 L537.5,272.4 L541.2,277.6 L544.8,282.6 L548.5,287.4 L552.2,292.0 L555.8,296.5 L559.5,300.7 L563.2,304.8 L566.9,308.7 L570.5,312.4 L574.2,316.0 L577.9,319.5 L581.6,322.9 L585.2,326.2 L588.9,329.4 L592.6,332.5 L596.2,335.5 L599.9,338.0 L603.6,340.0 L607.3,341.7 L610.9,343.1 L614.6,344.1 L618.3,344.9 L621.9,345.7 L625.6,346.3 L629.3,346.9 L633.0,347.5 L636.6,348.1 L640.3,348.7 L644.0,349.3 L647.6,349.9 L651.3,350.5 L655.0,351.1 L658.7,351.6 L662.3,352.2 L666.0,352.6"/>
<path d="M56.8,385.8 L60.5,385.7 L64.2,385.6 L68.0,385.4 L71.7,385.2 L75.4,385.0 L79.2,384.7 L82.9,384.4 L86.6,384.1 L90.4,383.7 L94.1,383.3 L97.8,382.8 L101.6,382.3 L105.3,381.7 L109.0,381.0 L112.8,380.2 L116.5,379.3 L120.2,378.4 L124.0,376.8 L127.7,374.5 L131.4,371.8 L135.2,368.9 L138.9,365.6 L142.7,361.9 L146.4,357.7 L150.1,352.9 L153.9,347.8 L157.6,342.2 L161.3,336.2 L165.1,330.1 L168.8,323.7 L172.5,317.2 L176.3,310.6 L180.0,304.1 L183.7,297.6 L187.5,291.1 L191.2,284.7 L194.9,278.4 L198.7,272.2 L202.4,266.0 L206.1,260.0 L209.9,254.0 L213.6,248.1 L217.3,242.2 L221.1,236.4 L224.8,230.6 L228.5,224.7 L232.3,218.8 L236.0,212.9 L239.7,206.8 L243.5,200.7 L247.2,194.4 L250.9,188.1 L254.7,181.7 L258.4,175.3 L262.1,168.8 L265.9,162.4 L269.6,156.0 L273.3,149.6 L277.1,143.3 L280.8,137.1 L284.5,130.9 L288.3,125.0 L292.0,119.2 L295.7,113.5 L299.5,108.0 L303.2,102.8 L306.9,97.7 L310.7,93.0 L314.4,88.5 L318.2,84.2 L321.9,80.3 L325.6,76.7 L329.4,73.4 L333.1,70.6 L336.8,68.1 L340.6,65.9 L344.3,64.3 L348.0,63.0 L351.8,62.0 L355.5,61.6 L359.2,61.7 L363.0,62.0 L366.7,62.3 L370.4,63.1 L374.2,64.3 L377.9,65.8 L381.6,67.3 L385.4,69.1 L389.1,71.0 L392.8,73.1 L396.6,75.3 L400.3,77.7 L404.0,80.3 L407.8,83.1 L411.5,86.0 L415.2,89.2 L419.0,92.5 L422.7,96.0 L426.4,99.7 L430.2,103.7 L433.9,107.8 L437.6,112.1 L441.4,116.6 L445.1,121.3 L448.8,126.2 L452.6,131.2 L456.3,136.4 L460.0,141.7 L463.8,147.1 L467.5,152.6 L471.2,158.2 L475.0,163.9 L478.7,169.6 L482.5,175.4 L486.2,181.2 L489.9,187.1 L493.7,193.0 L497.4,199.0 L501.1,205.1 L504.9,211.2 L508.6,217.4 L512.3,223.6 L516.1,229.9 L519.8,236.2 L523.5,242.5 L527.3,248.8 L531.0,255.1 L534.7,261.4 L538.5,267.6 L542.2,273.7 L545.9,279.7 L549.7,285.6 L553.4,291.3 L557.1,296.9 L560.9,302.3 L564.6,307.5 L568.3,312.5 L572.1,317.4 L575.8,322.0 L579.5,326.5 L583.3,330.9 L587.0,335.1 L590.7,339.2 L594.5,343.4 L598.2,347.4 L601.9,350.7 L605.7,353.4 L609.4,355.7 L613.1,357.4 L616.9,358.7 L620.6,359.7 L624.3,360.6 L628.1,361.4 L631.8,362.2 L635.5,362.9 L639.3,363.5 L643.0,364.0 L646.8,364.6 L650.5,365.2 L654.2,365.7 L658.0,366.3 L661.7,366.9 L665.4,367.5 L669.2,368.1 L672.9,368.6 L676.6,369.1 L680.4,369.6 L684.1,370.1 L687.8,370.5"/>
<path d="M56.2,385.7 L59.8,385.6 L63.4,385.6 L67.0,385.5 L70.6,385.3 L74.2,385.2 L77.7,385.0 L81.3,384.8 L84.9,384.6 L88.5,384.2 L92.1,383.9 L95.7,383.4 L99.2,382.9 L102.8,382.3 L106.4,381.6 L110.0,380.9 L113.6,380.1 L117.2,379.2 L120.8,378.2 L124.3,376.7 L127.9,374.7 L131.5,372.4 L135.1,369.9 L138.7,367.1 L142.3,363.9 L145.9,360.4 L149.4,356.4 L153.0,352.1 L156.6,347.6 L160.2,342.7 L163.8,337.6 L167.4,332.4 L171.0,326.9 L174.5,321.5 L178.1,316.0 L181.7,310.4 L185.3,304.8 L188.9,299.1 L192.5,293.4 L196.0,287.6 L199.6,281.6 L203.2,275.6 L206.8,269.5 L210.4,263.3 L214.0,257.0 L217.6,250.7 L221.1,244.2 L224.7,237.6 L228.3,230.9 L231.9,224.1 L235.5,217.3 L239.1,210.4 L242.7,203.5 L246.2,196.5 L249.8,189.5 L253.4,182.5 L257.0,175.6 L260.6,168.7 L264.2,161.8 L267.8,155.0 L271.3,148.3 L274.9,141.7 L278.5,135.1 L282.1,128.7 L285.7,122.3 L289.3,116.1 L292.8,110.0 L296.4,104.0 L300.0,98.1 L303.6,92.5 L307.2,87.0 L310.8,81.8 L314.4,76.8 L317.9,72.2 L321.5,67.8 L325.1,63.9 L328.7,60.4 L332.3,57.2 L335.9,54.8 L339.5,52.7 L343.0,51.0 L346.6,50.3 L350.2,50.4 L353.8,50.7 L357.4,51.1 L361.0,52.3 L364.6,54.3 L368.1,56.7 L371.7,59.3 L375.3,62.3 L378.9,65.5 L382.5,68.9 L386.1,72.5 L389.6,76.2 L393.2,80.0 L396.8,83.8 L400.4,87.6 L404.0,91.5 L407.6,95.3 L411.2,99.2 L414.7,103.0 L418.3,106.9 L421.9,110.7 L425.5,114.6 L429.1,118.4 L432.7,122.3 L436.3,126.3 L439.8,130.3 L443.4,134.4 L447.0,138.6 L450.6,142.9 L454.2,147.3 L457.8,151.9 L461.3,156.5 L464.9,161.3 L468.5,166.2 L472.1,171.2 L475.7,176.3 L479.3,181.5 L482.9,186.8 L486.4,192.2 L490.0,197.6 L493.6,203.1 L497.2,208.6 L500.8,214.1 L504.4,219.7 L508.0,225.2 L511.5,230.7 L515.1,236.2 L518.7,241.6 L522.3,247.0 L525.9,252.3 L529.5,257.5 L533.1,262.5 L536.6,267.5 L540.2,272.4 L543.8,277.1 L547.4,281.7 L551.0,286.1 L554.6,290.4 L558.1,294.6 L561.7,298.6 L565.3,302.5 L568.9,306.2 L572.5,309.9 L576.1,313.4 L579.7,316.9 L583.2,320.2 L586.8,323.6 L590.4,326.8 L594.0,329.6 L597.6,331.8 L601.2,333.7 L604.8,335.3 L608.3,336.6 L611.9,337.6 L615.5,338.5 L619.1,339.4 L622.7,340.2 L626.3,341.0 L629.9,341.6 L633.4,342.3 L637.0,343.0 L640.6,343.6 L644.2,344.3 L647.8,344.9 L651.4,345.4 L654.9,346.0 L658.5,346.4 L662.1,346.9"/>
<path d="M42.8,387.1 L46.5,386.8 L50.2,386.4 L53.9,386.1 L57.6,385.8 L61.3,385.4 L65.0,385.1 L68.8,384.7 L72.5,384.4 L76.2,384.0 L79.9,383.7 L83.6,383.4 L87.3,383.2 L91.0,382.9 L94.7,382.7 L98.4,382.5 L102.1,382.2 L105.8,381.9 L109.5,381.6 L113.2,381.2 L117.0,380.8 L120.7,380.3 L124.4,379.6 L128.1,378.9 L131.8,377.3 L135.5,374.4 L139.2,371.2 L142.9,367.8 L146.6,363.7 L150.3,359.3 L154.0,354.2 L157.7,348.6 L161.5,342.7 L165.2,336.5 L168.9,329.9 L172.6,323.2 L176.3,316.3 L180.0,309.3 L183.7,302.2 L187.4,295.0 L191.1,287.7 L194.8,280.4 L198.5,273.0 L202.2,265.5 L205.9,258.0 L209.7,250.5 L213.4,242.9 L217.1,235.2 L220.8,227.5 L224.5,219.8 L228.2,212.0 L231.9,204.1 L235.6,196.2 L239.3,188.3 L243.0,180.3 L246.7,172.3 L250.4,164.4 L254.1,156.6 L257.9,148.9 L261.6,141.4 L265.3,134.1 L269.0,127.0 L272.7,120.2 L276.4,113.8 L280.1,107.6 L283.8,101.9 L287.5,96.5 L291.2,91.5 L294.9,86.9 L298.6,82.6 L302.3,78.6 L306.1,75.1 L309.8,71.8 L313.5,68.8 L317.2,66.2 L320.9,63.8 L324.6,61.7 L328.3,59.9 L332.0,58.4 L335.7,57.0 L339.4,56.1 L343.1,55.5 L346.8,55.1 L350.5,54.9 L354.3,55.1 L358.0,55.7 L361.7,56.4 L365.4,57.5 L369.1,59.0 L372.8,60.7 L376.5,62.7 L380.2,65.0 L383.9,67.6 L387.6,70.4 L391.3,73.5 L395.0,76.9 L398.8,80.5 L402.5,84.4 L406.2,88.5 L409.9,92.9 L413.6,97.5 L417.3,102.2 L421.0,107.0 L424.7,112.0 L428.4,117.0 L432.1,122.1 L435.8,127.2 L439.5,132.3 L443.2,137.4 L447.0,142.5 L450.7,147.5 L454.4,152.6 L458.1,157.7 L461.8,162.8 L465.5,167.9 L469.2,173.1 L472.9,178.4 L476.6,183.8 L480.3,189.3 L484.0,194.9 L487.7,200.6 L491.4,206.4 L495.2,212.4 L498.9,218.4 L502.6,224.5 L506.3,230.6 L510.0,236.7 L513.7,242.8 L517.4,248.8 L521.1,254.8 L524.8,260.6 L528.5,266.3 L532.2,271.8 L535.9,277.2 L539.6,282.4 L543.4,287.3 L547.1,292.1 L550.8,296.6 L554.5,301.0 L558.2,305.1 L561.9,309.1 L565.6,312.8 L569.3,316.4 L573.0,319.8 L576.7,323.2 L580.4,326.4 L584.1,329.6 L587.8,332.7 L591.6,335.7 L595.3,338.5 L599.0,341.1 L602.7,343.6 L606.4,345.9 L610.1,348.1 L613.8,350.1 L617.5,351.9 L621.2,353.5 L624.9,354.9 L628.6,356.2 L632.3,357.4 L636.1,358.6 L639.8,359.6 L643.5,360.5 L647.2,361.2 L650.9,361.7 L654.6,362.2 L658.3,362.6 L662.0,362.9 L665.7,363.0 L669.4,363.0"/>
<path d="M58.6,384.2 L62.3,383.9 L65.9,383.5 L69.6,383.1 L73.3,382.7 L76.9,382.2 L80.6,381.8 L84.2,381.4 L87.9,380.9 L91.6,380.6 L95.2,380.2 L98.9,379.8 L102.6,379.4 L106.2,379.0 L109.9,378.4 L113.5,377.8 L117.2,377.1 L120.9,376.3 L124.5,375.0 L128.2,372.9 L131.8,370.6 L135.5,368.2 L139.2,365.3 L142.8,362.2 L146.5,358.6 L150.2,354.6 L153.8,350.3 L157.5,345.6 L161.1,340.5 L164.8,335.2 L168.5,329.7 L172.1,324.0 L175.8,318.1 L179.4,312.1 L183.1,306.0 L186.8,299.7 L190.4,293.2 L194.1,286.6 L197.8,279.9 L201.4,273.0 L205.1,266.0 L208.7,258.9 L212.4,251.7 L216.1,244.4 L219.7,237.1 L223.4,229.7 L227.1,222.2 L230.7,214.7 L234.4,207.1 L238.0,199.5 L241.7,192.0 L245.4,184.4 L249.0,176.9 L252.7,169.4 L256.3,162.1 L260.0,154.8 L263.7,147.7 L267.3,140.8 L271.0,134.1 L274.7,127.7 L278.3,121.5 L282.0,115.6 L285.6,110.0 L289.3,104.8 L293.0,99.8 L296.6,95.2 L300.3,91.0 L304.0,87.1 L307.6,83.8 L311.3,80.8 L314.9,78.1 L318.6,76.1 L322.3,74.5 L325.9,73.1 L329.6,72.5 L333.2,72.6 L336.9,72.8 L340.6,73.0 L344.2,73.8 L347.9,75.2 L351.6,76.8 L355.2,78.5 L358.9,80.5 L362.5,82.5 L366.2,84.4 L369.9,86.4 L373.5,88.3 L377.2,90.1 L380.8,91.7 L384.5,93.2 L388.2,94.6 L391.8,95.9 L395.5,97.3 L399.2,98.6 L402.8,100.0 L406.5,101.6 L410.1,103.3 L413.8,105.3 L417.5,107.4 L421.1,109.9 L424.8,112.7 L428.5,115.7 L432.1,119.0 L435.8,122.7 L439.4,126.5 L443.1,130.6 L446.8,134.9 L450.4,139.3 L454.1,143.9 L457.7,148.7 L461.4,153.6 L465.1,158.5 L468.7,163.6 L472.4,168.7 L476.1,173.9 L479.7,179.2 L483.4,184.6 L487.0,190.1 L490.7,195.6 L494.4,201.3 L498.0,207.0 L501.7,212.8 L505.3,218.7 L509.0,224.6 L512.7,230.5 L516.3,236.4 L520.0,242.3 L523.7,248.1 L527.3,253.9 L531.0,259.5 L534.6,265.0 L538.3,270.4 L542.0,275.6 L545.6,280.8 L549.3,285.7 L553.0,290.5 L556.6,295.1 L560.3,299.7 L563.9,304.1 L567.6,308.3 L571.3,312.5 L574.9,316.6 L578.6,320.7 L582.2,324.6 L585.9,328.6 L589.6,332.5 L593.2,336.2 L596.9,339.7 L600.6,343.1 L604.2,346.2 L607.9,349.2 L611.5,352.0 L615.2,354.5 L618.9,356.8 L622.5,358.9 L626.2,360.5 L629.9,361.7 L633.5,362.6 L637.2,363.4 L640.8,364.2 L644.5,364.9 L648.2,365.5 L651.8,366.2 L655.5,366.8 L659.1,367.4 L662.8,368.0 L666.5,368.6 L670.1,369.2 L673.8,369.8 L677.5,370.4"/>
<path d="M69.9,377.5 L73.4,377.3 L76.8,377.2 L80.3,377.0 L83.8,376.8 L87.3,376.6 L90.7,376.3 L94.2,376.1 L97.7,375.8 L101.2,375.5 L104.6,375.2 L108.1,374.9 L111.6,374.6 L115.1,374.2 L118.5,373.8 L122.0,373.3 L125.5,372.7 L129.0,372.0 L132.4,371.2 L135.9,370.3 L139.4,368.5 L142.8,365.4 L146.3,362.0 L149.8,358.4 L153.3,354.2 L156.7,349.8 L160.2,345.0 L163.7,339.7 L167.2,334.2 L170.6,328.5 L174.1,322.5 L177.6,316.4 L181.1,310.1 L184.5,303.7 L188.0,297.3 L191.5,290.8 L195.0,284.2 L198.4,277.7 L201.9,271.2 L205.4,264.7 L208.9,258.3 L212.3,252.0 L215.8,245.7 L219.3,239.6 L222.8,233.5 L226.2,227.5 L229.7,221.6 L233.2,215.8 L236.7,210.0 L240.1,204.3 L243.6,198.6 L247.1,193.0 L250.5,187.4 L254.0,181.8 L257.5,176.2 L261.0,170.7 L264.4,165.3 L267.9,159.9 L271.4,154.5 L274.9,149.2 L278.3,143.9 L281.8,138.7 L285.3,133.5 L288.8,128.5 L292.2,123.4 L295.7,118.5 L299.2,113.6 L302.7,108.8 L306.1,104.1 L309.6,99.4 L313.1,95.0 L316.6,90.7 L320.0,86.5 L323.5,82.7 L327.0,79.0 L330.5,75.6 L333.9,72.6 L337.4,69.9 L340.9,67.5 L344.4,65.9 L347.8,64.7 L351.3,63.8 L354.8,63.4 L358.3,63.7 L361.7,64.4 L365.2,65.2 L368.7,66.7 L372.1,68.9 L375.6,71.3 L379.1,74.0 L382.6,77.0 L386.0,80.3 L389.5,83.7 L393.0,87.3 L396.5,91.0 L399.9,94.8 L403.4,98.6 L406.9,102.4 L410.4,106.2 L413.8,109.9 L417.3,113.4 L420.8,116.9 L424.3,120.2 L427.7,123.4 L431.2,126.4 L434.7,129.3 L438.2,132.1 L441.6,134.7 L445.1,137.4 L448.6,140.0 L452.1,142.6 L455.5,145.3 L459.0,148.1 L462.5,151.0 L466.0,154.1 L469.4,157.3 L472.9,160.9 L476.4,164.7 L479.8,168.7 L483.3,173.1 L486.8,177.8 L490.3,182.8 L493.7,188.0 L497.2,193.6 L500.7,199.4 L504.2,205.4 L507.6,211.6 L511.1,217.9 L514.6,224.3 L518.1,230.7 L521.5,237.2 L525.0,243.5 L528.5,249.8 L532.0,256.0 L535.4,261.9 L538.9,267.7 L542.4,273.2 L545.9,278.5 L549.3,283.6 L552.8,288.4 L556.3,292.9 L559.8,297.2 L563.2,301.2 L566.7,305.0 L570.2,308.6 L573.7,312.0 L577.1,315.3 L580.6,318.5 L584.1,321.5 L587.5,324.5 L591.0,327.5 L594.5,329.7 L598.0,331.3 L601.4,332.6 L604.9,333.7 L608.4,334.8 L611.9,335.6 L615.3,336.4 L618.8,337.2 L622.3,337.8 L625.8,338.4 L629.2,338.9 L632.7,339.4 L636.2,339.9 L639.7,340.3 L643.1,340.7 L646.6,341.1 L650.1,341.4 L653.6,341.6 L657.0,341.8"/>
<path d="M58.5,385.7 L62.0,385.4 L65.6,385.2 L69.2,384.9 L72.8,384.5 L76.4,384.2 L80.0,383.9 L83.6,383.5 L87.1,383.1 L90.7,382.7 L94.3,382.4 L97.9,382.0 L101.5,381.6 L105.1,381.2 L108.7,380.8 L112.2,380.3 L115.8,379.7 L119.4,379.1 L123.0,378.3 L126.6,377.5 L130.2,376.2 L133.8,374.3 L137.3,372.1 L140.9,369.8 L144.5,367.0 L148.1,364.0 L151.7,360.5 L155.3,356.7 L158.9,352.5 L162.5,348.1 L166.0,343.4 L169.6,338.6 L173.2,333.6 L176.8,328.4 L180.4,323.1 L184.0,317.8 L187.6,312.3 L191.1,306.8 L194.7,301.1 L198.3,295.4 L201.9,289.6 L205.5,283.7 L209.1,277.7 L212.7,271.6 L216.2,265.4 L219.8,259.1 L223.4,252.6 L227.0,246.1 L230.6,239.4 L234.2,232.6 L237.8,225.6 L241.3,218.4 L244.9,211.2 L248.5,203.8 L252.1,196.2 L255.7,188.6 L259.3,180.9 L262.9,173.2 L266.5,165.4 L270.0,157.7 L273.6,149.9 L277.2,142.3 L280.8,134.7 L284.4,127.2 L288.0,119.8 L291.6,112.7 L295.1,105.6 L298.7,98.9 L302.3,92.4 L305.9,86.1 L309.5,80.2 L313.1,74.6 L316.7,69.4 L320.2,64.6 L323.8,60.2 L327.4,56.2 L331.0,52.8 L334.6,49.8 L338.2,47.2 L341.8,45.5 L345.3,44.3 L348.9,43.4 L352.5,43.0 L356.1,43.2 L359.7,43.7 L363.3,44.4 L366.9,45.6 L370.4,47.3 L374.0,49.3 L377.6,51.4 L381.2,53.9 L384.8,56.5 L388.4,59.3 L392.0,62.3 L395.6,65.4 L399.1,68.7 L402.7,72.3 L406.3,75.9 L409.9,79.8 L413.5,83.9 L417.1,88.2 L420.7,92.6 L424.2,97.3 L427.8,102.1 L431.4,107.1 L435.0,112.2 L438.6,117.4 L442.2,122.8 L445.8,128.3 L449.3,133.8 L452.9,139.4 L456.5,145.0 L460.1,150.6 L463.7,156.2 L467.3,161.8 L470.9,167.4 L474.4,173.0 L478.0,178.5 L481.6,184.0 L485.2,189.5 L488.8,194.9 L492.4,200.3 L496.0,205.6 L499.6,211.0 L503.1,216.3 L506.7,221.6 L510.3,226.8 L513.9,232.1 L517.5,237.3 L521.1,242.5 L524.7,247.6 L528.2,252.7 L531.8,257.7 L535.4,262.6 L539.0,267.4 L542.6,272.2 L546.2,276.8 L549.8,281.4 L553.3,285.8 L556.9,290.0 L560.5,294.2 L564.1,298.2 L567.7,302.1 L571.3,306.0 L574.9,309.7 L578.4,313.3 L582.0,317.0 L585.6,320.6 L589.2,324.0 L592.8,327.1 L596.4,330.1 L600.0,332.7 L603.5,335.3 L607.1,337.6 L610.7,339.5 L614.3,341.0 L617.9,342.2 L621.5,343.3 L625.1,344.4 L628.7,345.3 L632.2,346.1 L635.8,346.9 L639.4,347.5 L643.0,348.1 L646.6,348.7 L650.2,349.2 L653.8,349.7 L657.3,350.0 L660.9,350.4 L664.5,350.6"/>
<path d="M63.5,379.9 L67.2,379.6 L70.9,379.3 L74.6,378.9 L78.2,378.6 L81.9,378.2 L85.6,377.9 L89.3,377.5 L93.0,377.1 L96.7,376.7 L100.4,376.4 L104.0,376.0 L107.7,375.6 L111.4,375.2 L115.1,374.7 L118.8,374.2 L122.5,373.6 L126.2,373.0 L129.9,372.2 L133.5,371.3 L137.2,369.7 L140.9,367.2 L144.6,364.3 L148.3,361.2 L152.0,357.5 L155.7,353.4 L159.3,348.9 L163.0,343.9 L166.7,338.6 L170.4,333.0 L174.1,327.0 L177.8,320.8 L181.5,314.4 L185.2,307.7 L188.8,300.9 L192.5,293.8 L196.2,286.6 L199.9,279.2 L203.6,271.6 L207.3,263.9 L211.0,256.1 L214.6,248.3 L218.3,240.3 L222.0,232.3 L225.7,224.3 L229.4,216.3 L233.1,208.3 L236.8,200.3 L240.4,192.3 L244.1,184.4 L247.8,176.5 L251.5,168.7 L255.2,161.0 L258.9,153.4 L262.6,146.0 L266.3,138.7 L269.9,131.6 L273.6,124.7 L277.3,118.1 L281.0,111.6 L284.7,105.3 L288.4,99.3 L292.1,93.6 L295.7,88.0 L299.4,82.7 L303.1,77.7 L306.8,72.9 L310.5,68.4 L314.2,64.2 L317.9,60.3 L321.6,56.8 L325.2,53.7 L328.9,50.8 L332.6,48.5 L336.3,46.5 L340.0,44.8 L343.7,44.1 L347.4,44.1 L351.0,44.2 L354.7,44.3 L358.4,45.1 L362.1,46.8 L365.8,48.7 L369.5,50.9 L373.2,53.6 L376.9,56.4 L380.5,59.5 L384.2,62.8 L387.9,66.2 L391.6,69.7 L395.3,73.4 L399.0,77.2 L402.7,81.0 L406.3,84.9 L410.0,88.9 L413.7,92.9 L417.4,97.0 L421.1,101.1 L424.8,105.3 L428.5,109.6 L432.1,113.9 L435.8,118.2 L439.5,122.7 L443.2,127.2 L446.9,131.8 L450.6,136.5 L454.3,141.3 L458.0,146.2 L461.6,151.2 L465.3,156.4 L469.0,161.7 L472.7,167.1 L476.4,172.6 L480.1,178.3 L483.8,184.2 L487.4,190.2 L491.1,196.3 L494.8,202.6 L498.5,209.1 L502.2,215.7 L505.9,222.4 L509.6,229.1 L513.3,236.0 L516.9,243.0 L520.6,249.9 L524.3,256.8 L528.0,263.7 L531.7,270.5 L535.4,277.2 L539.1,283.7 L542.7,290.1 L546.4,296.3 L550.1,302.2 L553.8,307.9 L557.5,313.4 L561.2,318.6 L564.9,323.4 L568.6,328.0 L572.2,332.3 L575.9,336.4 L579.6,340.3 L583.3,343.9 L587.0,347.1 L590.7,349.9 L594.4,352.3 L598.0,354.5 L601.7,356.5 L605.4,358.3 L609.1,359.6 L612.8,360.3 L616.5,360.9 L620.2,361.4 L623.8,361.8 L627.5,362.1 L631.2,362.5 L634.9,362.8 L638.6,363.1 L642.3,363.4 L646.0,363.8 L649.7,364.2 L653.3,364.6 L657.0,365.1 L660.7,365.7 L664.4,366.3 L668.1,366.9 L671.8,367.5 L675.5,368.2 L679.1,368.8 L682.8,369.5 L686.5,370.2"/>
<path d="M58.2,388.2 L61.9,387.8 L65.6,387.4 L69.4,387.0 L73.1,386.6 L76.8,386.2 L80.5,385.8 L84.2,385.3 L87.9,385.0 L91.6,384.6 L95.3,384.3 L99.0,384.0 L102.7,383.6 L106.4,383.2 L110.2,382.7 L113.9,382.2 L117.6,381.5 L121.3,380.8 L125.0,379.3 L128.7,377.1 L132.4,374.6 L136.1,371.9 L139.8,368.9 L143.5,365.5 L147.2,361.8 L151.0,357.5 L154.7,353.0 L158.4,348.1 L162.1,342.9 L165.8,337.4 L169.5,331.8 L173.2,326.0 L176.9,320.0 L180.6,314.0 L184.3,307.8 L188.0,301.5 L191.8,295.1 L195.5,288.4 L199.2,281.6 L202.9,274.5 L206.6,267.2 L210.3,259.7 L214.0,252.0 L217.7,244.1 L221.4,236.0 L225.1,227.7 L228.8,219.2 L232.6,210.6 L236.3,202.0 L240.0,193.2 L243.7,184.5 L247.4,175.8 L251.1,167.2 L254.8,158.7 L258.5,150.5 L262.2,142.5 L265.9,134.9 L269.6,127.6 L273.4,120.6 L277.1,114.0 L280.8,107.7 L284.5,101.8 L288.2,96.3 L291.9,91.2 L295.6,86.3 L299.3,81.9 L303.0,77.7 L306.7,73.8 L310.4,70.2 L314.2,66.9 L317.9,63.9 L321.6,61.2 L325.3,58.7 L329.0,56.6 L332.7,54.8 L336.4,53.4 L340.1,52.1 L343.8,51.6 L347.5,51.6 L351.3,51.6 L355.0,51.7 L358.7,52.3 L362.4,53.6 L366.1,55.2 L369.8,57.0 L373.5,59.3 L377.2,61.8 L380.9,64.4 L384.6,67.4 L388.3,70.5 L392.1,73.8 L395.8,77.3 L399.5,80.9 L403.2,84.6 L406.9,88.5 L410.6,92.4 L414.3,96.5 L418.0,100.6 L421.7,104.8 L425.4,109.1 L429.1,113.5 L432.9,118.0 L436.6,122.5 L440.3,127.1 L444.0,131.8 L447.7,136.7 L451.4,141.6 L455.1,146.6 L458.8,151.7 L462.5,156.9 L466.2,162.2 L469.9,167.5 L473.7,173.0 L477.4,178.5 L481.1,184.0 L484.8,189.7 L488.5,195.4 L492.2,201.1 L495.9,206.9 L499.6,212.7 L503.3,218.6 L507.0,224.5 L510.7,230.3 L514.5,236.2 L518.2,242.1 L521.9,247.9 L525.6,253.6 L529.3,259.3 L533.0,264.9 L536.7,270.4 L540.4,275.8 L544.1,281.1 L547.8,286.2 L551.5,291.3 L555.3,296.3 L559.0,301.2 L562.7,305.9 L566.4,310.6 L570.1,315.2 L573.8,319.7 L577.5,324.1 L581.2,328.5 L584.9,332.8 L588.6,337.1 L592.3,341.4 L596.1,345.6 L599.8,349.4 L603.5,353.0 L607.2,356.2 L610.9,358.7 L614.6,360.5 L618.3,361.9 L622.0,363.1 L625.7,364.3 L629.4,365.5 L633.1,366.4 L636.9,367.3 L640.6,368.1 L644.3,368.8 L648.0,369.3 L651.7,369.8 L655.4,370.3 L659.1,370.7 L662.8,371.0 L666.5,371.3 L670.2,371.6 L674.0,371.8 L677.7,372.0 L681.4,372.2 L685.1,372.3"/>
<path d="M63.9,386.7 L67.6,386.2 L71.3,385.7 L74.9,385.1 L78.6,384.5 L82.3,383.9 L86.0,383.3 L89.7,382.6 L93.3,381.9 L97.0,381.1 L100.7,380.2 L104.4,379.3 L108.0,378.1 L111.7,376.7 L115.4,375.2 L119.1,373.6 L122.7,371.9 L126.4,370.0 L130.1,367.8 L133.8,365.4 L137.4,362.8 L141.1,359.8 L144.8,356.4 L148.5,352.6 L152.1,348.4 L155.8,343.7 L159.5,338.6 L163.2,333.2 L166.9,327.4 L170.5,321.3 L174.2,314.9 L177.9,308.2 L181.6,301.2 L185.2,294.1 L188.9,286.7 L192.6,279.2 L196.3,271.5 L199.9,263.7 L203.6,255.9 L207.3,248.0 L211.0,240.1 L214.6,232.3 L218.3,224.6 L222.0,217.0 L225.7,209.5 L229.3,202.2 L233.0,195.0 L236.7,187.9 L240.4,181.0 L244.0,174.2 L247.7,167.5 L251.4,160.9 L255.1,154.4 L258.8,148.0 L262.4,141.7 L266.1,135.6 L269.8,129.5 L273.5,123.6 L277.1,117.8 L280.8,112.1 L284.5,106.6 L288.2,101.2 L291.8,96.0 L295.5,91.0 L299.2,86.1 L302.9,81.4 L306.5,76.9 L310.2,72.6 L313.9,68.5 L317.6,64.6 L321.2,61.0 L324.9,57.7 L328.6,54.7 L332.3,52.0 L335.9,49.9 L339.6,48.3 L343.3,46.9 L347.0,46.4 L350.7,46.5 L354.3,46.8 L358.0,47.3 L361.7,48.5 L365.4,50.8 L369.0,53.5 L372.7,56.3 L376.4,59.8 L380.1,63.4 L383.7,67.3 L387.4,71.6 L391.1,75.9 L394.8,80.3 L398.4,84.8 L402.1,89.4 L405.8,93.9 L409.5,98.4 L413.1,102.9 L416.8,107.3 L420.5,111.6 L424.2,115.9 L427.9,120.1 L431.5,124.2 L435.2,128.2 L438.9,132.3 L442.6,136.3 L446.2,140.3 L449.9,144.4 L453.6,148.5 L457.3,152.6 L460.9,156.9 L464.6,161.3 L468.3,165.8 L472.0,170.5 L475.6,175.3 L479.3,180.3 L483.0,185.6 L486.7,191.0 L490.3,196.7 L494.0,202.6 L497.7,208.8 L501.4,215.2 L505.0,221.8 L508.7,228.6 L512.4,235.6 L516.1,242.6 L519.8,249.9 L523.4,257.1 L527.1,264.3 L530.8,271.4 L534.5,278.4 L538.1,285.2 L541.8,291.9 L545.5,298.2 L549.2,304.2 L552.8,309.8 L556.5,315.0 L560.2,319.9 L563.9,324.3 L567.5,328.4 L571.2,332.0 L574.9,335.4 L578.6,338.5 L582.2,341.4 L585.9,344.0 L589.6,346.6 L593.3,349.2 L596.9,351.8 L600.6,354.1 L604.3,356.3 L608.0,358.3 L611.7,359.9 L615.3,361.0 L619.0,361.9 L622.7,362.7 L626.4,363.4 L630.0,364.0 L633.7,364.6 L637.4,365.2 L641.1,365.7 L644.7,366.2 L648.4,366.7 L652.1,367.2 L655.8,367.8 L659.4,368.4 L663.1,369.1 L666.8,369.9 L670.5,370.6 L674.1,371.3 L677.8,372.1 L681.5,372.8 L685.2,373.6"/>
<path d="M44.9,391.2 L48.7,390.6 L52.5,390.0 L56.3,389.4 L60.1,388.8 L63.9,388.3 L67.6,387.8 L71.4,387.4 L75.2,387.0 L79.0,386.7 L82.8,386.4 L86.6,386.2 L90.3,386.0 L94.1,385.9 L97.9,385.7 L101.7,385.6 L105.5,385.4 L109.3,385.2 L113.0,384.9 L116.8,384.6 L120.6,384.2 L124.4,383.7 L128.2,382.4 L132.0,380.2 L135.7,377.6 L139.5,374.7 L143.3,371.4 L147.1,367.6 L150.9,363.2 L154.7,358.2 L158.4,352.9 L162.2,347.1 L166.0,340.8 L169.8,334.3 L173.6,327.7 L177.4,320.8 L181.1,313.8 L184.9,306.7 L188.7,299.5 L192.5,292.2 L196.3,284.9 L200.1,277.6 L203.8,270.3 L207.6,263.1 L211.4,255.9 L215.2,248.7 L219.0,241.7 L222.8,234.7 L226.5,227.7 L230.3,220.9 L234.1,214.1 L237.9,207.3 L241.7,200.6 L245.5,193.9 L249.2,187.2 L253.0,180.5 L256.8,173.8 L260.6,167.2 L264.4,160.6 L268.2,154.0 L271.9,147.5 L275.7,141.0 L279.5,134.6 L283.3,128.2 L287.1,122.0 L290.9,115.8 L294.6,109.8 L298.4,103.9 L302.2,98.1 L306.0,92.6 L309.8,87.2 L313.6,82.1 L317.3,77.2 L321.1,72.6 L324.9,68.3 L328.7,64.5 L332.5,60.9 L336.3,57.6 L340.0,55.0 L343.8,52.8 L347.6,50.8 L351.4,49.9 L355.2,49.6 L359.0,49.4 L362.7,49.3 L366.5,49.9 L370.3,51.4 L374.1,53.2 L377.9,55.3 L381.7,57.9 L385.4,60.7 L389.2,63.8 L393.0,67.3 L396.8,71.0 L400.6,74.8 L404.4,78.8 L408.1,82.9 L411.9,87.2 L415.7,91.5 L419.5,95.9 L423.3,100.2 L427.1,104.6 L430.9,109.1 L434.6,113.5 L438.4,117.9 L442.2,122.4 L446.0,127.0 L449.8,131.6 L453.6,136.3 L457.3,141.1 L461.1,146.1 L464.9,151.2 L468.7,156.5 L472.5,162.0 L476.3,167.7 L480.0,173.6 L483.8,179.7 L487.6,185.9 L491.4,192.3 L495.2,198.9 L499.0,205.5 L502.7,212.3 L506.5,219.1 L510.3,225.9 L514.1,232.6 L517.9,239.2 L521.7,245.7 L525.4,252.1 L529.2,258.2 L533.0,264.2 L536.8,269.9 L540.6,275.5 L544.4,280.8 L548.1,285.9 L551.9,290.8 L555.7,295.5 L559.5,300.1 L563.3,304.5 L567.1,308.8 L570.8,313.1 L574.6,317.3 L578.4,321.4 L582.2,325.6 L586.0,329.7 L589.8,333.8 L593.5,337.8 L597.3,341.7 L601.1,345.3 L604.9,348.9 L608.7,352.1 L612.5,354.5 L616.2,356.0 L620.0,357.1 L623.8,358.1 L627.6,359.0 L631.4,359.8 L635.2,360.5 L638.9,361.2 L642.7,361.8 L646.5,362.4 L650.3,363.0 L654.1,363.7 L657.9,364.3 L661.6,365.0 L665.4,365.7 L669.2,366.3 L673.0,367.0 L676.8,367.6 L680.6,368.2 L684.3,368.7"/>
<path d="M50.7,390.2 L54.5,390.1 L58.2,389.8 L62.0,387.7 L65.8,384.6 L69.6,383.0 L73.3,383.1 L77.1,383.2 L80.9,383.4 L84.7,383.5 L88.5,383.6 L92.2,383.6 L96.0,383.5 L99.8,383.4 L103.6,383.2 L107.3,382.8 L111.1,382.1 L114.9,381.3 L118.7,380.3 L122.4,378.8 L126.2,377.1 L130.0,375.0 L133.8,372.5 L137.5,369.6 L141.3,366.2 L145.1,362.2 L148.9,357.8 L152.6,352.9 L156.4,347.3 L160.2,341.4 L164.0,335.0 L167.7,328.3 L171.5,321.3 L175.3,314.1 L179.1,306.6 L182.8,299.1 L186.6,291.4 L190.4,283.5 L194.2,275.7 L197.9,267.8 L201.7,259.8 L205.5,252.0 L209.3,244.3 L213.1,236.7 L216.8,229.2 L220.6,222.0 L224.4,215.1 L228.2,208.3 L231.9,201.9 L235.7,195.7 L239.5,189.8 L243.3,184.2 L247.0,178.8 L250.8,173.7 L254.6,168.7 L258.4,164.0 L262.1,159.3 L265.9,154.8 L269.7,150.3 L273.5,145.8 L277.2,141.3 L281.0,136.7 L284.8,132.0 L288.6,127.1 L292.3,122.1 L296.1,117.0 L299.9,111.6 L303.7,106.2 L307.4,100.7 L311.2,95.1 L315.0,89.6 L318.8,84.3 L322.5,79.2 L326.3,74.3 L330.1,69.9 L333.9,65.9 L337.7,62.3 L341.4,59.7 L345.2,57.9 L349.0,56.4 L352.8,55.9 L356.5,56.1 L360.3,56.7 L364.1,57.6 L367.9,59.2 L371.6,61.8 L375.4,64.7 L379.2,67.8 L383.0,71.3 L386.7,75.0 L390.5,78.8 L394.3,82.9 L398.1,87.0 L401.8,91.3 L405.6,95.6 L409.4,100.0 L413.2,104.4 L416.9,108.9 L420.7,113.4 L424.5,117.9 L428.3,122.4 L432.0,126.9 L435.8,131.4 L439.6,135.9 L443.4,140.3 L447.1,144.6 L450.9,148.9 L454.7,153.2 L458.5,157.4 L462.3,161.5 L466.0,165.6 L469.8,169.8 L473.6,173.9 L477.4,178.1 L481.1,182.3 L484.9,186.7 L488.7,191.3 L492.5,196.0 L496.2,200.9 L500.0,206.1 L503.8,211.5 L507.6,217.1 L511.3,222.9 L515.1,228.8 L518.9,235.0 L522.7,241.3 L526.4,247.6 L530.2,254.0 L534.0,260.4 L537.8,266.6 L541.5,272.9 L545.3,278.9 L549.1,284.8 L552.9,290.5 L556.6,296.0 L560.4,301.3 L564.2,306.3 L568.0,311.2 L571.8,316.0 L575.5,320.5 L579.3,325.0 L583.1,329.4 L586.9,333.7 L590.6,337.9 L594.4,342.1 L598.2,346.2 L602.0,350.0 L605.7,353.5 L609.5,356.8 L613.3,359.1 L617.1,360.5 L620.8,361.6 L624.6,362.5 L628.4,363.4 L632.2,364.2 L635.9,364.9 L639.7,365.5 L643.5,366.0 L647.3,366.5 L651.0,366.9 L654.8,367.3 L658.6,367.6 L662.4,368.0 L666.1,368.4 L669.9,368.7 L673.7,368.9 L677.5,369.2 L681.2,369.4 L685.0,369.6 L688.8,369.7"/>
<path d="M53.9,386.0 L57.5,385.7 L61.1,385.4 L64.7,385.1 L68.4,384.8 L72.0,384.4 L75.6,384.0 L79.2,383.6 L82.8,383.2 L86.5,382.8 L90.1,382.5 L93.7,382.1 L97.3,381.6 L100.9,381.2 L104.5,380.7 L108.2,380.1 L111.8,379.4 L115.4,378.6 L119.0,377.7 L122.6,376.2 L126.3,374.0 L129.9,371.6 L133.5,368.9 L137.1,365.8 L140.7,362.4 L144.3,358.6 L148.0,354.2 L151.6,349.5 L155.2,344.3 L158.8,338.7 L162.4,332.9 L166.1,326.8 L169.7,320.4 L173.3,314.0 L176.9,307.5 L180.5,300.8 L184.1,294.2 L187.8,287.6 L191.4,281.0 L195.0,274.3 L198.6,267.8 L202.2,261.2 L205.9,254.7 L209.5,248.3 L213.1,241.9 L216.7,235.7 L220.3,229.5 L223.9,223.5 L227.6,217.5 L231.2,211.6 L234.8,205.8 L238.4,200.1 L242.0,194.5 L245.7,188.9 L249.3,183.4 L252.9,178.0 L256.5,172.7 L260.1,167.4 L263.7,162.1 L267.4,156.8 L271.0,151.6 L274.6,146.2 L278.2,140.8 L281.8,135.3 L285.5,129.8 L289.1,124.1 L292.7,118.3 L296.3,112.4 L299.9,106.4 L303.5,100.4 L307.2,94.5 L310.8,88.5 L314.4,82.8 L318.0,77.2 L321.6,71.9 L325.3,67.0 L328.9,62.5 L332.5,58.3 L336.1,55.0 L339.7,52.2 L343.3,49.8 L347.0,48.8 L350.6,48.6 L354.2,48.6 L357.8,48.5 L361.4,49.5 L365.1,51.6 L368.7,54.1 L372.3,56.9 L375.9,60.2 L379.5,63.8 L383.1,67.7 L386.8,71.8 L390.4,76.1 L394.0,80.4 L397.6,84.8 L401.2,89.3 L404.9,93.8 L408.5,98.3 L412.1,102.8 L415.7,107.3 L419.3,111.7 L423.0,116.1 L426.6,120.5 L430.2,124.8 L433.8,129.1 L437.4,133.3 L441.0,137.5 L444.7,141.7 L448.3,145.8 L451.9,149.9 L455.5,154.1 L459.1,158.2 L462.8,162.4 L466.4,166.7 L470.0,171.1 L473.6,175.6 L477.2,180.2 L480.8,185.0 L484.5,190.0 L488.1,195.2 L491.7,200.7 L495.3,206.4 L498.9,212.3 L502.6,218.5 L506.2,224.9 L509.8,231.4 L513.4,238.1 L517.0,244.9 L520.6,251.8 L524.3,258.6 L527.9,265.4 L531.5,272.1 L535.1,278.5 L538.7,284.8 L542.4,290.8 L546.0,296.4 L549.6,301.8 L553.2,306.7 L556.8,311.3 L560.4,315.5 L564.1,319.4 L567.7,322.9 L571.3,326.0 L574.9,328.9 L578.5,331.6 L582.2,334.1 L585.8,336.4 L589.4,338.9 L593.0,341.2 L596.6,342.9 L600.2,343.8 L603.9,344.4 L607.5,345.0 L611.1,345.5 L614.7,345.9 L618.3,346.3 L622.0,346.6 L625.6,347.0 L629.2,347.3 L632.8,347.7 L636.4,348.2 L640.0,348.7 L643.7,349.2 L647.3,349.8 L650.9,350.5 L654.5,351.1 L658.1,351.8 L661.8,352.5 L665.4,353.2"/>
<path d="M52.7,386.7 L56.3,386.3 L60.0,385.9 L63.7,385.6 L67.4,385.2 L71.0,384.8 L74.7,384.4 L78.4,384.1 L82.0,383.7 L85.7,383.3 L89.4,383.1 L93.1,382.8 L96.7,382.5 L100.4,382.2 L104.1,382.0 L107.8,381.6 L111.4,381.3 L115.1,380.9 L118.8,380.4 L122.4,379.8 L126.1,379.1 L129.8,377.9 L133.5,375.9 L137.1,373.6 L140.8,371.0 L144.5,367.9 L148.2,364.4 L151.8,360.4 L155.5,355.7 L159.2,350.7 L162.8,345.2 L166.5,339.3 L170.2,333.2 L173.9,326.8 L177.5,320.2 L181.2,313.4 L184.9,306.5 L188.6,299.4 L192.2,292.3 L195.9,285.1 L199.6,277.8 L203.2,270.6 L206.9,263.3 L210.6,256.0 L214.3,248.8 L217.9,241.6 L221.6,234.4 L225.3,227.3 L229.0,220.2 L232.6,213.1 L236.3,206.1 L240.0,199.0 L243.6,192.1 L247.3,185.2 L251.0,178.4 L254.7,171.7 L258.3,165.2 L262.0,158.8 L265.7,152.7 L269.3,146.8 L273.0,141.2 L276.7,135.8 L280.4,130.8 L284.0,126.1 L287.7,121.6 L291.4,117.4 L295.1,113.4 L298.7,109.7 L302.4,106.2 L306.1,102.9 L309.7,99.7 L313.4,96.6 L317.1,93.7 L320.8,90.9 L324.4,88.2 L328.1,85.6 L331.8,83.1 L335.5,80.8 L339.1,78.7 L342.8,76.7 L346.5,75.1 L350.1,73.6 L353.8,72.4 L357.5,71.8 L361.2,71.8 L364.8,71.9 L368.5,71.9 L372.2,72.5 L375.9,73.8 L379.5,75.3 L383.2,77.0 L386.9,79.2 L390.5,81.6 L394.2,84.2 L397.9,87.2 L401.6,90.3 L405.2,93.7 L408.9,97.3 L412.6,101.0 L416.3,104.8 L419.9,108.7 L423.6,112.7 L427.3,116.7 L430.9,120.7 L434.6,124.8 L438.3,128.8 L442.0,132.8 L445.6,136.8 L449.3,140.8 L453.0,144.7 L456.6,148.6 L460.3,152.5 L464.0,156.3 L467.7,160.2 L471.3,164.1 L475.0,167.9 L478.7,171.9 L482.4,175.9 L486.0,180.0 L489.7,184.2 L493.4,188.6 L497.0,193.2 L500.7,197.9 L504.4,202.8 L508.1,207.9 L511.7,213.1 L515.4,218.6 L519.1,224.2 L522.8,229.8 L526.4,235.6 L530.1,241.5 L533.8,247.5 L537.4,253.4 L541.1,259.3 L544.8,265.2 L548.5,271.1 L552.1,276.9 L555.8,282.6 L559.5,288.1 L563.2,293.6 L566.8,299.0 L570.5,304.2 L574.2,309.3 L577.8,314.3 L581.5,319.2 L585.2,323.9 L588.9,328.5 L592.5,332.8 L596.2,336.9 L599.9,340.8 L603.6,344.4 L607.2,347.8 L610.9,350.8 L614.6,353.5 L618.2,356.0 L621.9,358.1 L625.6,359.7 L629.3,361.2 L632.9,362.5 L636.6,363.7 L640.3,364.8 L643.9,365.8 L647.6,366.6 L651.3,367.3 L655.0,367.9 L658.6,368.4 L662.3,368.9 L666.0,369.3 L669.7,369.6 L673.3,369.7"/>
<path d="M51.2,391.1 L54.9,390.7 L58.6,390.3 L62.4,389.9 L66.1,389.4 L69.9,389.0 L73.6,388.5 L77.3,388.0 L81.1,387.5 L84.8,387.0 L88.6,386.5 L92.3,386.0 L96.1,385.4 L99.8,384.9 L103.5,384.3 L107.3,383.6 L111.0,383.0 L114.8,382.3 L118.5,381.4 L122.2,380.3 L126.0,379.0 L129.7,377.5 L133.5,375.6 L137.2,373.4 L140.9,370.9 L144.7,368.0 L148.4,364.6 L152.2,360.8 L155.9,356.7 L159.6,352.0 L163.4,347.1 L167.1,341.9 L170.9,336.4 L174.6,330.8 L178.3,324.9 L182.1,318.8 L185.8,312.6 L189.6,306.1 L193.3,299.5 L197.0,292.7 L200.8,285.7 L204.5,278.6 L208.3,271.3 L212.0,264.0 L215.8,256.5 L219.5,248.9 L223.2,241.2 L227.0,233.5 L230.7,225.7 L234.5,217.9 L238.2,210.0 L241.9,202.1 L245.7,194.1 L249.4,186.2 L253.2,178.3 L256.9,170.5 L260.6,162.8 L264.4,155.1 L268.1,147.5 L271.9,140.1 L275.6,132.8 L279.3,125.7 L283.1,118.7 L286.8,111.9 L290.6,105.3 L294.3,98.8 L298.0,92.7 L301.8,86.8 L305.5,81.1 L309.3,75.8 L313.0,70.8 L316.8,66.1 L320.5,61.9 L324.2,58.1 L328.0,54.6 L331.7,51.8 L335.5,49.4 L339.2,47.4 L342.9,46.2 L346.7,45.8 L350.4,45.4 L354.2,45.3 L357.9,45.8 L361.6,46.9 L365.4,48.3 L369.1,49.9 L372.9,51.9 L376.6,54.2 L380.3,56.5 L384.1,59.1 L387.8,61.8 L391.6,64.6 L395.3,67.6 L399.0,70.6 L402.8,73.7 L406.5,77.0 L410.3,80.3 L414.0,83.8 L417.8,87.4 L421.5,91.1 L425.2,95.0 L429.0,99.1 L432.7,103.4 L436.5,107.8 L440.2,112.5 L443.9,117.5 L447.7,122.6 L451.4,128.0 L455.2,133.6 L458.9,139.4 L462.6,145.4 L466.4,151.6 L470.1,157.9 L473.9,164.3 L477.6,170.8 L481.3,177.4 L485.1,184.0 L488.8,190.5 L492.6,197.1 L496.3,203.6 L500.0,210.0 L503.8,216.4 L507.5,222.6 L511.3,228.7 L515.0,234.7 L518.8,240.6 L522.5,246.4 L526.2,252.0 L530.0,257.5 L533.7,262.9 L537.5,268.2 L541.2,273.4 L544.9,278.5 L548.7,283.6 L552.4,288.6 L556.2,293.5 L559.9,298.3 L563.6,303.1 L567.4,307.8 L571.1,312.4 L574.9,317.0 L578.6,321.4 L582.3,325.9 L586.1,330.3 L589.8,334.5 L593.6,338.6 L597.3,342.6 L601.0,346.2 L604.8,349.7 L608.5,352.9 L612.3,355.4 L616.0,357.2 L619.8,358.6 L623.5,359.9 L627.2,361.1 L631.0,362.2 L634.7,363.2 L638.5,364.1 L642.2,364.9 L645.9,365.5 L649.7,366.1 L653.4,366.5 L657.2,366.9 L660.9,367.2 L664.6,367.5 L668.4,367.7 L672.1,367.9 L675.9,368.1 L679.6,368.2 L683.3,368.3"/>
<path d="M104.5,359.6 L107.9,359.3 L111.3,358.9 L114.7,358.6 L118.1,358.3 L121.5,358.1 L125.0,357.7 L128.4,357.2 L131.8,356.4 L135.2,355.3 L138.6,353.9 L142.0,352.2 L145.4,349.2 L148.8,344.6 L152.2,339.7 L155.6,334.9 L159.0,329.7 L162.5,324.4 L165.9,318.9 L169.3,313.2 L172.7,307.5 L176.1,301.8 L179.5,296.0 L182.9,290.2 L186.3,284.5 L189.7,278.7 L193.1,273.0 L196.5,267.3 L199.9,261.6 L203.4,255.9 L206.8,250.2 L210.2,244.5 L213.6,238.8 L217.0,233.0 L220.4,227.3 L223.8,221.4 L227.2,215.5 L230.6,209.5 L234.0,203.4 L237.4,197.1 L240.9,190.7 L244.3,184.2 L247.7,177.5 L251.1,170.8 L254.5,164.0 L257.9,157.1 L261.3,150.1 L264.7,143.2 L268.1,136.3 L271.5,129.4 L274.9,122.7 L278.4,116.1 L281.8,109.6 L285.2,103.3 L288.6,97.3 L292.0,91.4 L295.4,85.8 L298.8,80.5 L302.2,75.4 L305.6,70.6 L309.0,66.1 L312.4,61.8 L315.9,57.9 L319.3,54.2 L322.7,50.9 L326.1,47.8 L329.5,45.1 L332.9,42.6 L336.3,40.6 L339.7,38.8 L343.1,37.3 L346.5,36.5 L349.9,36.1 L353.3,35.9 L356.8,35.8 L360.2,36.2 L363.6,37.2 L367.0,38.4 L370.4,39.9 L373.8,41.9 L377.2,44.1 L380.6,46.6 L384.0,49.3 L387.4,52.3 L390.8,55.5 L394.3,59.0 L397.7,62.6 L401.1,66.5 L404.5,70.5 L407.9,74.7 L411.3,79.1 L414.7,83.7 L418.1,88.4 L421.5,93.3 L424.9,98.4 L428.3,103.6 L431.8,108.9 L435.2,114.5 L438.6,120.1 L442.0,125.9 L445.4,131.9 L448.8,138.0 L452.2,144.2 L455.6,150.5 L459.0,156.9 L462.4,163.4 L465.8,170.0 L469.3,176.7 L472.7,183.4 L476.1,190.2 L479.5,197.0 L482.9,203.8 L486.3,210.7 L489.7,217.5 L493.1,224.4 L496.5,231.3 L499.9,238.1 L503.3,244.9 L506.8,251.6 L510.2,258.2 L513.6,264.8 L517.0,271.2 L520.4,277.5 L523.8,283.6 L527.2,289.5 L530.6,295.2 L534.0,300.7 L537.4,305.9 L540.8,310.9 L544.2,315.9 L547.7,320.6 L551.1,324.5 L554.5,327.4 L557.9,329.7 L561.3,331.9 L564.7,334.0 L568.1,335.9 L571.5,337.9 L574.9,340.1 L578.3,342.3 L581.7,344.6 L585.2,346.7 L588.6,348.7 L592.0,350.8 L595.4,353.1 L598.8,355.5 L602.2,357.3 L605.6,358.6 L609.0,359.5 L612.4,360.3 L615.8,360.9 L619.2,361.4 L622.7,361.8 L626.1,362.2 L629.5,362.5 L632.9,362.9 L636.3,363.2 L639.7,363.5 L643.1,363.9 L646.5,364.3 L649.9,364.7 L653.3,365.2 L656.7,365.8 L660.2,366.4 L663.6,367.1 L667.0,367.8 L670.4,368.5 L673.8,369.2 L677.2,370.0 L680.6,370.8"/>
<path d="M51.9,385.1 L55.4,385.1 L59.0,385.0 L62.6,384.9 L66.1,384.8 L69.7,384.6 L73.3,384.4 L76.8,384.2 L80.4,384.0 L84.0,383.8 L87.5,383.5 L91.1,383.2 L94.7,382.9 L98.2,382.5 L101.8,382.0 L105.4,381.5 L108.9,380.9 L112.5,380.3 L116.1,379.6 L119.7,378.8 L123.2,378.0 L126.8,377.0 L130.4,375.5 L133.9,373.2 L137.5,370.6 L141.1,367.9 L144.6,364.7 L148.2,361.2 L151.8,357.3 L155.3,352.8 L158.9,348.1 L162.5,343.0 L166.0,337.5 L169.6,331.7 L173.2,325.7 L176.7,319.5 L180.3,313.0 L183.9,306.4 L187.4,299.6 L191.0,292.6 L194.6,285.5 L198.1,278.2 L201.7,270.9 L205.3,263.6 L208.8,256.2 L212.4,248.8 L216.0,241.6 L219.5,234.4 L223.1,227.4 L226.7,220.6 L230.2,213.9 L233.8,207.3 L237.4,201.0 L240.9,194.9 L244.5,189.0 L248.1,183.3 L251.6,177.8 L255.2,172.5 L258.8,167.4 L262.3,162.5 L265.9,157.7 L269.5,153.1 L273.0,148.6 L276.6,144.1 L280.2,139.7 L283.7,135.4 L287.3,131.0 L290.9,126.6 L294.4,122.2 L298.0,117.8 L301.6,113.3 L305.1,108.7 L308.7,104.1 L312.3,99.5 L315.8,94.9 L319.4,90.3 L323.0,85.8 L326.6,81.4 L330.1,77.2 L333.7,73.3 L337.3,69.5 L340.8,66.3 L344.4,63.4 L348.0,60.9 L351.5,59.2 L355.1,58.1 L358.7,57.3 L362.2,56.9 L365.8,57.2 L369.4,58.0 L372.9,59.1 L376.5,60.7 L380.1,63.1 L383.6,65.8 L387.2,68.7 L390.8,72.2 L394.3,75.8 L397.9,79.8 L401.5,84.0 L405.0,88.4 L408.6,92.9 L412.2,97.6 L415.7,102.3 L419.3,107.1 L422.9,111.9 L426.4,116.7 L430.0,121.5 L433.6,126.2 L437.1,130.9 L440.7,135.5 L444.3,140.0 L447.8,144.5 L451.4,148.9 L455.0,153.3 L458.5,157.6 L462.1,162.0 L465.7,166.3 L469.2,170.6 L472.8,175.0 L476.4,179.5 L479.9,184.0 L483.5,188.6 L487.1,193.3 L490.6,198.1 L494.2,203.0 L497.8,208.1 L501.3,213.3 L504.9,218.6 L508.5,224.0 L512.0,229.5 L515.6,235.0 L519.2,240.7 L522.7,246.3 L526.3,251.9 L529.9,257.6 L533.5,263.1 L537.0,268.5 L540.6,273.9 L544.2,279.1 L547.7,284.1 L551.3,288.9 L554.9,293.5 L558.4,297.9 L562.0,302.1 L565.6,306.0 L569.1,309.8 L572.7,313.3 L576.3,316.7 L579.8,320.1 L583.4,323.3 L587.0,325.7 L590.5,327.2 L594.1,328.4 L597.7,329.4 L601.2,330.3 L604.8,331.2 L608.4,331.9 L611.9,332.6 L615.5,333.2 L619.1,333.8 L622.6,334.4 L626.2,335.1 L629.8,335.7 L633.3,336.3 L636.9,336.9 L640.5,337.5 L644.0,338.0 L647.6,338.6 L651.2,339.0 L654.7,339.5"/>
<path d="M56.4,387.2 L60.0,386.7 L63.7,386.2 L67.4,385.7 L71.1,385.2 L74.7,384.7 L78.4,384.2 L82.1,383.7 L85.7,383.4 L89.4,383.0 L93.1,382.6 L96.8,382.2 L100.4,381.8 L104.1,381.3 L107.8,380.8 L111.4,380.2 L115.1,379.4 L118.8,378.4 L122.5,377.2 L126.1,375.8 L129.8,374.1 L133.5,372.2 L137.2,369.9 L140.8,367.3 L144.5,364.3 L148.2,361.0 L151.8,357.1 L155.5,352.9 L159.2,348.4 L162.9,343.5 L166.5,338.3 L170.2,333.0 L173.9,327.4 L177.5,321.6 L181.2,315.8 L184.9,309.7 L188.6,303.6 L192.2,297.2 L195.9,290.8 L199.6,284.2 L203.3,277.6 L206.9,270.8 L210.6,263.9 L214.3,257.0 L217.9,250.1 L221.6,243.1 L225.3,236.1 L229.0,229.0 L232.6,222.0 L236.3,215.0 L240.0,207.9 L243.6,200.9 L247.3,193.9 L251.0,187.0 L254.7,180.2 L258.3,173.4 L262.0,166.7 L265.7,160.2 L269.4,153.8 L273.0,147.5 L276.7,141.4 L280.4,135.4 L284.0,129.6 L287.7,123.9 L291.4,118.4 L295.1,113.1 L298.7,108.1 L302.4,103.2 L306.1,98.5 L309.7,94.0 L313.4,89.8 L317.1,85.8 L320.8,82.1 L324.4,78.7 L328.1,75.5 L331.8,72.7 L335.5,70.2 L339.1,67.9 L342.8,66.1 L346.5,64.5 L350.1,63.2 L353.8,62.4 L357.5,62.1 L361.2,61.9 L364.8,61.8 L368.5,62.1 L372.2,62.8 L375.8,63.6 L379.5,64.6 L383.2,65.9 L386.9,67.4 L390.5,69.0 L394.2,70.8 L397.9,72.8 L401.6,74.9 L405.2,77.2 L408.9,79.7 L412.6,82.4 L416.2,85.2 L419.9,88.2 L423.6,91.4 L427.3,94.7 L430.9,98.2 L434.6,101.8 L438.3,105.6 L441.9,109.6 L445.6,113.7 L449.3,118.1 L453.0,122.6 L456.6,127.4 L460.3,132.3 L464.0,137.5 L467.7,142.8 L471.3,148.4 L475.0,154.2 L478.7,160.2 L482.3,166.4 L486.0,172.8 L489.7,179.3 L493.4,186.0 L497.0,192.7 L500.7,199.6 L504.4,206.5 L508.0,213.4 L511.7,220.3 L515.4,227.2 L519.1,234.0 L522.7,240.7 L526.4,247.3 L530.1,253.7 L533.8,259.9 L537.4,266.0 L541.1,271.8 L544.8,277.5 L548.4,282.9 L552.1,288.1 L555.8,293.1 L559.5,297.9 L563.1,302.5 L566.8,307.0 L570.5,311.3 L574.1,315.5 L577.8,319.6 L581.5,323.6 L585.2,327.6 L588.8,331.5 L592.5,335.3 L596.2,338.9 L599.9,342.3 L603.5,345.6 L607.2,348.7 L610.9,351.5 L614.5,354.2 L618.2,356.5 L621.9,358.3 L625.6,360.0 L629.2,361.5 L632.9,362.9 L636.6,364.2 L640.2,365.4 L643.9,366.4 L647.6,367.2 L651.3,367.9 L654.9,368.3 L658.6,368.7 L662.3,369.0 L666.0,369.2 L669.6,369.4 L673.3,369.6 L677.0,369.6"/>
<path d="M71.7,374.6 L75.3,374.4 L78.9,374.2 L82.6,373.9 L86.2,373.6 L89.9,373.2 L93.5,372.8 L97.1,372.4 L100.8,372.0 L104.4,371.5 L108.0,370.9 L111.7,370.2 L115.3,369.5 L118.9,368.6 L122.6,367.6 L126.2,366.5 L129.8,364.7 L133.5,362.0 L137.1,359.0 L140.8,355.8 L144.4,352.1 L148.0,348.1 L151.7,343.5 L155.3,338.5 L158.9,333.2 L162.6,327.6 L166.2,321.6 L169.8,315.5 L173.5,309.2 L177.1,302.7 L180.8,296.2 L184.4,289.6 L188.0,282.9 L191.7,276.1 L195.3,269.4 L198.9,262.6 L202.6,255.8 L206.2,249.1 L209.8,242.3 L213.5,235.6 L217.1,229.0 L220.7,222.5 L224.4,216.0 L228.0,209.6 L231.7,203.2 L235.3,196.9 L238.9,190.7 L242.6,184.6 L246.2,178.5 L249.8,172.5 L253.5,166.6 L257.1,160.8 L260.7,155.2 L264.4,149.6 L268.0,144.2 L271.7,138.9 L275.3,133.7 L278.9,128.7 L282.6,123.8 L286.2,119.0 L289.8,114.4 L293.5,109.9 L297.1,105.6 L300.7,101.4 L304.4,97.3 L308.0,93.4 L311.7,89.7 L315.3,86.1 L318.9,82.7 L322.6,79.6 L326.2,76.7 L329.8,73.9 L333.5,71.5 L337.1,69.4 L340.7,67.5 L344.4,66.1 L348.0,65.2 L351.6,64.5 L355.3,64.2 L358.9,64.3 L362.6,64.8 L366.2,65.4 L369.8,66.6 L373.5,68.3 L377.1,70.2 L380.7,72.3 L384.4,74.8 L388.0,77.5 L391.6,80.3 L395.3,83.4 L398.9,86.6 L402.6,89.8 L406.2,93.2 L409.8,96.6 L413.5,100.1 L417.1,103.5 L420.7,106.9 L424.4,110.3 L428.0,113.7 L431.6,117.1 L435.3,120.5 L438.9,123.9 L442.5,127.4 L446.2,131.0 L449.8,134.7 L453.5,138.6 L457.1,142.8 L460.7,147.2 L464.4,151.9 L468.0,156.9 L471.6,162.3 L475.3,168.0 L478.9,174.1 L482.5,180.5 L486.2,187.1 L489.8,194.1 L493.5,201.3 L497.1,208.6 L500.7,216.1 L504.4,223.6 L508.0,231.1 L511.6,238.6 L515.3,246.0 L518.9,253.2 L522.5,260.1 L526.2,266.9 L529.8,273.3 L533.4,279.4 L537.1,285.2 L540.7,290.7 L544.4,295.8 L548.0,300.6 L551.6,305.2 L555.3,309.5 L558.9,313.5 L562.5,317.4 L566.2,321.0 L569.8,324.5 L573.4,328.0 L577.1,331.3 L580.7,334.5 L584.4,337.8 L588.0,341.2 L591.6,344.5 L595.3,347.7 L598.9,350.9 L602.5,353.9 L606.2,356.0 L609.8,357.2 L613.4,358.1 L617.1,358.8 L620.7,359.5 L624.4,360.0 L628.0,360.6 L631.6,361.0 L635.3,361.4 L638.9,361.9 L642.5,362.3 L646.2,362.7 L649.8,363.2 L653.4,363.7 L657.1,364.4 L660.7,365.0 L664.3,365.7 L668.0,366.4 L671.6,367.2 L675.3,367.9 L678.9,368.7 L682.5,369.5 L686.2,370.3"/>
<path d="M70.7,375.3 L74.3,375.2 L77.8,375.1 L81.3,374.9 L84.9,374.7 L88.4,374.5 L92.0,374.2 L95.5,373.9 L99.0,373.6 L102.6,373.3 L106.1,373.0 L109.6,372.6 L113.2,372.2 L116.7,371.7 L120.3,371.1 L123.8,370.5 L127.3,369.8 L130.9,369.0 L134.4,368.1 L137.9,366.4 L141.5,363.9 L145.0,361.2 L148.6,358.4 L152.1,355.4 L155.6,352.1 L159.2,348.6 L162.7,344.8 L166.2,340.9 L169.8,336.8 L173.3,332.5 L176.9,328.0 L180.4,323.3 L183.9,318.4 L187.5,313.3 L191.0,307.9 L194.5,302.2 L198.1,296.3 L201.6,290.1 L205.2,283.6 L208.7,276.9 L212.2,269.9 L215.8,262.6 L219.3,255.2 L222.8,247.6 L226.4,239.8 L229.9,231.9 L233.4,223.8 L237.0,215.7 L240.5,207.4 L244.1,199.2 L247.6,190.9 L251.1,182.7 L254.7,174.5 L258.2,166.4 L261.7,158.4 L265.3,150.6 L268.8,143.0 L272.4,135.6 L275.9,128.5 L279.4,121.6 L283.0,115.0 L286.5,108.7 L290.0,102.7 L293.6,97.0 L297.1,91.6 L300.7,86.5 L304.2,81.8 L307.7,77.3 L311.3,73.1 L314.8,69.3 L318.3,65.7 L321.9,62.4 L325.4,59.5 L329.0,56.8 L332.5,54.4 L336.0,52.6 L339.6,51.0 L343.1,49.8 L346.6,49.2 L350.2,49.2 L353.7,49.3 L357.2,49.3 L360.8,50.0 L364.3,51.6 L367.9,53.4 L371.4,55.4 L374.9,57.9 L378.5,60.6 L382.0,63.6 L385.5,66.9 L389.1,70.3 L392.6,74.0 L396.2,77.8 L399.7,81.8 L403.2,85.9 L406.8,90.1 L410.3,94.3 L413.8,98.7 L417.4,103.1 L420.9,107.5 L424.5,112.0 L428.0,116.5 L431.5,120.9 L435.1,125.4 L438.6,129.8 L442.1,134.2 L445.7,138.6 L449.2,142.9 L452.8,147.2 L456.3,151.4 L459.8,155.6 L463.4,159.8 L466.9,164.0 L470.4,168.1 L474.0,172.3 L477.5,176.4 L481.1,180.7 L484.6,184.9 L488.1,189.3 L491.7,193.8 L495.2,198.3 L498.7,203.1 L502.3,207.9 L505.8,212.9 L509.3,218.0 L512.9,223.3 L516.4,228.7 L520.0,234.2 L523.5,239.9 L527.0,245.5 L530.6,251.2 L534.1,257.0 L537.6,262.8 L541.2,268.5 L544.7,274.2 L548.3,279.8 L551.8,285.3 L555.3,290.7 L558.9,295.9 L562.4,301.0 L565.9,305.9 L569.5,310.7 L573.0,315.2 L576.6,319.6 L580.1,323.9 L583.6,328.1 L587.2,332.2 L590.7,335.8 L594.2,338.8 L597.8,341.5 L601.3,343.6 L604.9,345.0 L608.4,346.1 L611.9,347.1 L615.5,348.0 L619.0,348.8 L622.5,349.5 L626.1,350.2 L629.6,350.8 L633.2,351.4 L636.7,352.1 L640.2,352.8 L643.8,353.4 L647.3,354.1 L650.8,354.9 L654.4,355.5 L657.9,356.2 L661.4,356.8 L665.0,357.4 L668.5,357.9"/>
<path d="M69.7,378.7 L73.2,378.3 L76.7,377.9 L80.3,377.4 L83.8,376.9 L87.4,376.4 L90.9,375.9 L94.5,375.5 L98.0,375.1 L101.5,374.6 L105.1,374.2 L108.6,373.7 L112.2,373.1 L115.7,372.5 L119.2,371.7 L122.8,370.7 L126.3,369.1 L129.9,366.5 L133.4,363.7 L137.0,360.7 L140.5,357.3 L144.0,353.5 L147.6,349.2 L151.1,344.5 L154.7,339.5 L158.2,334.1 L161.7,328.4 L165.3,322.5 L168.8,316.5 L172.4,310.4 L175.9,304.2 L179.5,298.1 L183.0,291.9 L186.5,285.8 L190.1,279.8 L193.6,273.8 L197.2,268.0 L200.7,262.1 L204.2,256.4 L207.8,250.7 L211.3,245.1 L214.9,239.6 L218.4,234.2 L221.9,228.7 L225.5,223.4 L229.0,217.9 L232.6,212.5 L236.1,207.0 L239.7,201.4 L243.2,195.7 L246.7,189.9 L250.3,184.0 L253.8,178.0 L257.4,171.8 L260.9,165.6 L264.4,159.4 L268.0,153.0 L271.5,146.7 L275.1,140.4 L278.6,134.0 L282.2,127.8 L285.7,121.7 L289.2,115.7 L292.8,109.9 L296.3,104.3 L299.9,98.9 L303.4,93.8 L306.9,89.1 L310.5,84.6 L314.0,80.5 L317.6,76.8 L321.1,73.3 L324.7,70.5 L328.2,67.9 L331.7,65.7 L335.3,64.3 L338.8,63.5 L342.4,62.8 L345.9,62.6 L349.4,63.0 L353.0,63.9 L356.5,65.0 L360.1,66.7 L363.6,68.9 L367.2,71.3 L370.7,74.0 L374.2,77.0 L377.8,80.1 L381.3,83.4 L384.9,86.8 L388.4,90.3 L391.9,93.7 L395.5,97.3 L399.0,100.8 L402.6,104.3 L406.1,107.8 L409.7,111.4 L413.2,114.9 L416.7,118.4 L420.3,121.9 L423.8,125.4 L427.4,129.0 L430.9,132.6 L434.4,136.2 L438.0,139.9 L441.5,143.6 L445.1,147.4 L448.6,151.3 L452.1,155.2 L455.7,159.2 L459.2,163.3 L462.8,167.5 L466.3,171.7 L469.9,176.1 L473.4,180.5 L476.9,185.0 L480.5,189.6 L484.0,194.2 L487.6,199.0 L491.1,203.8 L494.6,208.7 L498.2,213.7 L501.7,218.7 L505.3,223.8 L508.8,228.9 L512.4,234.1 L515.9,239.3 L519.4,244.4 L523.0,249.5 L526.5,254.6 L530.1,259.6 L533.6,264.6 L537.1,269.4 L540.7,274.2 L544.2,279.0 L547.8,283.6 L551.3,288.1 L554.9,292.5 L558.4,296.9 L561.9,301.1 L565.5,305.3 L569.0,309.3 L572.6,313.3 L576.1,317.2 L579.6,321.0 L583.2,324.7 L586.7,328.4 L590.3,331.9 L593.8,335.4 L597.4,338.7 L600.9,341.3 L604.4,343.3 L608.0,345.0 L611.5,346.2 L615.1,347.3 L618.6,348.1 L622.1,348.8 L625.7,349.5 L629.2,350.1 L632.8,350.7 L636.3,351.3 L639.9,351.8 L643.4,352.5 L646.9,353.1 L650.5,353.8 L654.0,354.5 L657.6,355.2 L661.1,355.9 L664.6,356.5 L668.2,357.1"/>
<path d="M45.8,388.5 L49.6,388.3 L53.3,388.2 L57.0,388.0 L60.7,387.7 L64.5,387.5 L68.2,387.2 L71.9,386.9 L75.6,386.6 L79.4,386.3 L83.1,386.0 L86.8,385.6 L90.6,385.3 L94.3,384.9 L98.0,384.4 L101.7,384.0 L105.5,383.4 L109.2,382.9 L112.9,382.2 L116.6,381.5 L120.4,380.8 L124.1,379.7 L127.8,378.1 L131.5,376.3 L135.3,374.3 L139.0,371.9 L142.7,369.2 L146.5,366.1 L150.2,362.4 L153.9,358.4 L157.6,354.0 L161.4,349.2 L165.1,344.2 L168.8,339.0 L172.5,333.6 L176.3,328.0 L180.0,322.4 L183.7,316.6 L187.4,310.7 L191.2,304.7 L194.9,298.6 L198.6,292.4 L202.4,286.1 L206.1,279.6 L209.8,273.1 L213.5,266.5 L217.3,259.8 L221.0,253.0 L224.7,246.2 L228.4,239.3 L232.2,232.4 L235.9,225.5 L239.6,218.5 L243.4,211.6 L247.1,204.8 L250.8,198.0 L254.5,191.2 L258.3,184.6 L262.0,178.1 L265.7,171.7 L269.4,165.4 L273.2,159.1 L276.9,152.9 L280.6,146.8 L284.3,140.7 L288.1,134.6 L291.8,128.4 L295.5,122.2 L299.3,115.9 L303.0,109.6 L306.7,103.2 L310.4,96.9 L314.2,90.5 L317.9,84.2 L321.6,78.0 L325.3,72.0 L329.1,66.2 L332.8,60.8 L336.5,55.7 L340.2,51.0 L344.0,46.9 L347.7,43.4 L351.4,40.3 L355.2,38.2 L358.9,36.9 L362.6,35.8 L366.3,35.4 L370.1,35.6 L373.8,36.3 L377.5,37.2 L381.2,38.6 L385.0,40.8 L388.7,43.2 L392.4,45.9 L396.2,49.0 L399.9,52.3 L403.6,55.9 L407.3,59.9 L411.1,64.0 L414.8,68.5 L418.5,73.2 L422.2,78.1 L426.0,83.3 L429.7,88.7 L433.4,94.4 L437.1,100.2 L440.9,106.3 L444.6,112.5 L448.3,118.9 L452.1,125.5 L455.8,132.1 L459.5,138.9 L463.2,145.8 L467.0,152.7 L470.7,159.7 L474.4,166.7 L478.1,173.7 L481.9,180.7 L485.6,187.7 L489.3,194.7 L493.0,201.6 L496.8,208.4 L500.5,215.2 L504.2,221.9 L508.0,228.4 L511.7,234.9 L515.4,241.2 L519.1,247.5 L522.9,253.5 L526.6,259.4 L530.3,265.2 L534.0,270.8 L537.8,276.3 L541.5,281.6 L545.2,286.8 L549.0,291.8 L552.7,296.6 L556.4,301.3 L560.1,305.9 L563.9,310.3 L567.6,314.6 L571.3,318.8 L575.0,322.9 L578.8,326.9 L582.5,330.7 L586.2,334.5 L589.9,338.2 L593.7,342.1 L597.4,345.9 L601.1,348.8 L604.9,350.9 L608.6,352.6 L612.3,354.0 L616.0,355.0 L619.8,355.8 L623.5,356.6 L627.2,357.2 L630.9,357.8 L634.7,358.4 L638.4,359.0 L642.1,359.6 L645.8,360.2 L649.6,360.9 L653.3,361.7 L657.0,362.5 L660.8,363.3 L664.5,364.1 L668.2,365.0 L671.9,365.8 L675.7,366.7"/>
<path d="M59.1,383.2 L62.7,382.6 L66.2,381.9 L69.8,381.3 L73.3,380.7 L76.9,380.2 L80.4,379.7 L84.0,379.3 L87.5,379.0 L91.1,378.7 L94.6,378.5 L98.2,378.3 L101.7,378.1 L105.3,377.9 L108.8,377.7 L112.4,377.4 L115.9,377.1 L119.5,376.7 L123.0,376.2 L126.6,375.0 L130.1,373.0 L133.7,370.8 L137.3,368.4 L140.8,365.6 L144.4,362.5 L147.9,359.0 L151.5,354.9 L155.0,350.4 L158.6,345.6 L162.1,340.2 L165.7,334.5 L169.2,328.5 L172.8,322.2 L176.3,315.7 L179.9,309.0 L183.4,302.0 L187.0,295.0 L190.5,287.9 L194.1,280.7 L197.6,273.4 L201.2,266.1 L204.7,258.8 L208.3,251.5 L211.8,244.4 L215.4,237.2 L218.9,230.2 L222.5,223.2 L226.0,216.3 L229.6,209.5 L233.2,202.7 L236.7,196.0 L240.3,189.2 L243.8,182.5 L247.4,175.7 L250.9,169.0 L254.5,162.3 L258.0,155.6 L261.6,149.0 L265.1,142.4 L268.7,135.9 L272.2,129.5 L275.8,123.2 L279.3,117.0 L282.9,111.0 L286.4,105.2 L290.0,99.6 L293.5,94.2 L297.1,89.1 L300.6,84.2 L304.2,79.7 L307.7,75.5 L311.3,71.5 L314.8,68.0 L318.4,64.8 L321.9,61.8 L325.5,59.4 L329.0,57.3 L332.6,55.6 L336.2,54.5 L339.7,53.9 L343.3,53.4 L346.8,53.3 L350.4,53.6 L353.9,54.4 L357.5,55.5 L361.0,56.9 L364.6,58.9 L368.1,61.0 L371.7,63.4 L375.2,66.1 L378.8,69.0 L382.3,72.0 L385.9,75.2 L389.4,78.4 L393.0,81.8 L396.5,85.3 L400.1,89.0 L403.6,92.7 L407.2,96.5 L410.7,100.4 L414.3,104.4 L417.8,108.5 L421.4,112.6 L424.9,116.9 L428.5,121.2 L432.1,125.7 L435.6,130.1 L439.2,134.7 L442.7,139.3 L446.3,144.0 L449.8,148.7 L453.4,153.5 L456.9,158.3 L460.5,163.2 L464.0,168.1 L467.6,173.1 L471.1,178.1 L474.7,183.2 L478.2,188.4 L481.8,193.6 L485.3,198.9 L488.9,204.4 L492.4,209.9 L496.0,215.5 L499.5,221.2 L503.1,227.0 L506.6,232.9 L510.2,238.8 L513.7,244.7 L517.3,250.6 L520.8,256.5 L524.4,262.3 L528.0,267.9 L531.5,273.5 L535.1,278.9 L538.6,284.0 L542.2,289.0 L545.7,293.8 L549.3,298.3 L552.8,302.5 L556.4,306.6 L559.9,310.3 L563.5,313.8 L567.0,317.0 L570.6,320.1 L574.1,323.1 L577.7,326.0 L581.2,328.4 L584.8,330.3 L588.3,332.0 L591.9,333.3 L595.4,334.3 L599.0,335.1 L602.5,335.8 L606.1,336.4 L609.6,337.0 L613.2,337.6 L616.7,338.1 L620.3,338.6 L623.8,339.1 L627.4,339.6 L631.0,340.2 L634.5,340.8 L638.1,341.3 L641.6,341.9 L645.2,342.5 L648.7,343.1 L652.3,343.6 L655.8,344.1 L659.4,344.6"/>
<path d="M86.4,367.6 L90.0,367.2 L93.5,366.8 L97.1,366.3 L100.7,365.8 L104.2,365.3 L107.8,364.8 L111.3,364.3 L114.9,363.8 L118.5,363.3 L122.0,362.8 L125.6,362.1 L129.1,361.4 L132.7,360.4 L136.3,359.3 L139.8,357.3 L143.4,354.1 L146.9,350.6 L150.5,347.0 L154.0,343.0 L157.6,338.8 L161.2,334.4 L164.7,329.6 L168.3,324.7 L171.8,319.6 L175.4,314.4 L179.0,309.0 L182.5,303.4 L186.1,297.8 L189.6,292.0 L193.2,286.1 L196.8,280.0 L200.3,273.8 L203.9,267.4 L207.4,261.0 L211.0,254.4 L214.6,247.8 L218.1,241.1 L221.7,234.3 L225.2,227.5 L228.8,220.6 L232.4,213.7 L235.9,206.8 L239.5,199.8 L243.0,192.9 L246.6,186.0 L250.2,179.0 L253.7,172.2 L257.3,165.4 L260.8,158.7 L264.4,152.2 L267.9,145.7 L271.5,139.4 L275.1,133.2 L278.6,127.2 L282.2,121.3 L285.7,115.6 L289.3,110.2 L292.9,104.9 L296.4,99.9 L300.0,95.0 L303.5,90.4 L307.1,86.1 L310.7,82.0 L314.2,78.2 L317.8,74.7 L321.3,71.5 L324.9,68.5 L328.5,65.9 L332.0,63.6 L335.6,61.6 L339.1,60.1 L342.7,58.8 L346.3,57.8 L349.8,57.4 L353.4,57.4 L356.9,57.5 L360.5,57.6 L364.1,58.1 L367.6,59.1 L371.2,60.2 L374.7,61.4 L378.3,62.8 L381.9,64.4 L385.4,66.1 L389.0,67.9 L392.5,69.8 L396.1,71.8 L399.6,73.9 L403.2,76.2 L406.8,78.6 L410.3,81.1 L413.9,83.8 L417.4,86.7 L421.0,89.8 L424.6,93.0 L428.1,96.5 L431.7,100.2 L435.2,104.1 L438.8,108.2 L442.4,112.5 L445.9,117.1 L449.5,121.9 L453.0,127.0 L456.6,132.2 L460.2,137.7 L463.7,143.5 L467.3,149.4 L470.8,155.5 L474.4,161.9 L478.0,168.4 L481.5,175.1 L485.1,181.9 L488.6,188.9 L492.2,195.9 L495.8,203.0 L499.3,210.2 L502.9,217.4 L506.4,224.6 L510.0,231.7 L513.5,238.7 L517.1,245.7 L520.7,252.5 L524.2,259.1 L527.8,265.6 L531.3,271.8 L534.9,277.7 L538.5,283.5 L542.0,288.9 L545.6,294.1 L549.1,299.1 L552.7,303.8 L556.3,308.2 L559.8,312.4 L563.4,316.4 L566.9,320.2 L570.5,323.7 L574.1,327.2 L577.6,330.5 L581.2,333.7 L584.7,336.9 L588.3,340.1 L591.9,343.3 L595.4,346.4 L599.0,349.5 L602.5,352.5 L606.1,354.6 L609.7,356.0 L613.2,357.1 L616.8,358.0 L620.3,358.9 L623.9,359.7 L627.5,360.4 L631.0,361.1 L634.6,361.6 L638.1,362.2 L641.7,362.7 L645.2,363.2 L648.8,363.7 L652.4,364.2 L655.9,364.7 L659.5,365.3 L663.0,365.8 L666.6,366.3 L670.2,366.8 L673.7,367.2 L677.3,367.7 L680.8,368.1 L684.4,368.5 L688.0,368.8"/>
<path d="M65.0,384.2 L68.6,384.1 L72.3,383.9 L75.9,383.7 L79.6,383.4 L83.2,383.1 L86.9,382.8 L90.6,382.4 L94.2,382.0 L97.9,381.4 L101.5,380.8 L105.2,380.0 L108.8,379.2 L112.5,378.3 L116.2,377.3 L119.8,376.1 L123.5,374.5 L127.1,372.3 L130.8,369.8 L134.4,367.1 L138.1,364.2 L141.8,360.9 L145.4,357.2 L149.1,353.2 L152.7,348.8 L156.4,344.1 L160.0,339.0 L163.7,333.8 L167.4,328.3 L171.0,322.7 L174.7,317.0 L178.3,311.2 L182.0,305.4 L185.6,299.5 L189.3,293.5 L193.0,287.4 L196.6,281.3 L200.3,275.1 L203.9,268.8 L207.6,262.4 L211.2,255.9 L214.9,249.3 L218.6,242.6 L222.2,235.9 L225.9,229.0 L229.5,222.1 L233.2,215.0 L236.8,207.9 L240.5,200.8 L244.2,193.5 L247.8,186.2 L251.5,178.9 L255.1,171.6 L258.8,164.3 L262.4,157.0 L266.1,149.7 L269.8,142.5 L273.4,135.4 L277.1,128.4 L280.7,121.5 L284.4,114.7 L288.0,108.1 L291.7,101.6 L295.4,95.4 L299.0,89.3 L302.7,83.4 L306.3,77.9 L310.0,72.7 L313.7,67.7 L317.3,63.2 L321.0,59.1 L324.6,55.3 L328.3,52.1 L331.9,49.4 L335.6,47.0 L339.3,45.6 L342.9,45.0 L346.6,44.6 L350.2,44.5 L353.9,45.2 L357.5,46.8 L361.2,48.7 L364.9,51.1 L368.5,54.2 L372.2,57.6 L375.8,61.3 L379.5,65.4 L383.1,69.7 L386.8,74.1 L390.5,78.8 L394.1,83.5 L397.8,88.2 L401.4,92.9 L405.1,97.6 L408.7,102.3 L412.4,106.8 L416.1,111.3 L419.7,115.6 L423.4,119.8 L427.0,123.9 L430.7,127.8 L434.3,131.7 L438.0,135.4 L441.7,139.2 L445.3,142.8 L449.0,146.5 L452.6,150.2 L456.3,153.9 L459.9,157.8 L463.6,161.8 L467.3,165.8 L470.9,170.0 L474.6,174.4 L478.2,179.0 L481.9,183.7 L485.5,188.6 L489.2,193.7 L492.9,198.9 L496.5,204.3 L500.2,209.8 L503.8,215.5 L507.5,221.2 L511.1,227.1 L514.8,233.0 L518.5,238.9 L522.1,244.8 L525.8,250.7 L529.4,256.6 L533.1,262.4 L536.7,268.1 L540.4,273.8 L544.1,279.3 L547.7,284.6 L551.4,289.9 L555.0,294.9 L558.7,299.9 L562.4,304.6 L566.0,309.2 L569.7,313.6 L573.3,317.9 L577.0,322.0 L580.6,326.1 L584.3,330.0 L588.0,333.9 L591.6,337.6 L595.3,341.1 L598.9,344.5 L602.6,347.8 L606.2,351.1 L609.9,354.2 L613.6,356.7 L617.2,358.5 L620.9,360.0 L624.5,361.3 L628.2,362.5 L631.8,363.5 L635.5,364.5 L639.2,365.3 L642.8,366.1 L646.5,366.8 L650.1,367.3 L653.8,367.8 L657.4,368.2 L661.1,368.6 L664.8,368.9 L668.4,369.2 L672.1,369.4 L675.7,369.6 L679.4,369.8 L683.0,369.9"/>
<path d="M62.1,384.6 L65.6,384.6 L69.1,384.5 L72.7,384.3 L76.2,384.1 L79.7,383.8 L83.2,383.5 L86.7,383.1 L90.2,382.6 L93.7,382.0 L97.2,381.2 L100.7,380.4 L104.2,379.5 L107.7,378.6 L111.2,377.6 L114.7,376.6 L118.2,375.5 L121.7,374.2 L125.2,372.7 L128.7,371.1 L132.2,369.3 L135.7,367.2 L139.2,364.8 L142.8,362.1 L146.3,359.1 L149.8,355.7 L153.3,351.9 L156.8,347.7 L160.3,343.3 L163.8,338.5 L167.3,333.5 L170.8,328.4 L174.3,323.0 L177.8,317.5 L181.3,311.9 L184.8,306.1 L188.3,300.3 L191.8,294.3 L195.3,288.3 L198.8,282.1 L202.3,275.9 L205.8,269.5 L209.3,263.1 L212.9,256.6 L216.4,250.1 L219.9,243.4 L223.4,236.7 L226.9,229.9 L230.4,222.9 L233.9,215.9 L237.4,208.8 L240.9,201.6 L244.4,194.2 L247.9,186.8 L251.4,179.3 L254.9,171.8 L258.4,164.2 L261.9,156.7 L265.4,149.2 L268.9,141.7 L272.4,134.5 L275.9,127.4 L279.4,120.4 L283.0,113.8 L286.5,107.5 L290.0,101.5 L293.5,95.9 L297.0,90.7 L300.5,85.8 L304.0,81.5 L307.5,77.6 L311.0,74.1 L314.5,71.1 L318.0,68.5 L321.5,66.3 L325.0,64.5 L328.5,63.1 L332.0,61.9 L335.5,61.2 L339.0,60.9 L342.5,60.7 L346.0,60.6 L349.5,60.8 L353.1,61.5 L356.6,62.2 L360.1,63.2 L363.6,64.4 L367.1,65.9 L370.6,67.4 L374.1,69.3 L377.6,71.2 L381.1,73.4 L384.6,75.7 L388.1,78.2 L391.6,81.0 L395.1,83.9 L398.6,86.9 L402.1,90.1 L405.6,93.5 L409.1,96.9 L412.6,100.5 L416.1,104.1 L419.6,107.8 L423.2,111.5 L426.7,115.2 L430.2,118.8 L433.7,122.4 L437.2,126.0 L440.7,129.6 L444.2,133.1 L447.7,136.5 L451.2,140.0 L454.7,143.5 L458.2,147.0 L461.7,150.5 L465.2,154.2 L468.7,157.9 L472.2,161.8 L475.7,165.9 L479.2,170.2 L482.7,174.7 L486.2,179.4 L489.8,184.4 L493.3,189.7 L496.8,195.3 L500.3,201.2 L503.8,207.2 L507.3,213.6 L510.8,220.1 L514.3,226.8 L517.8,233.6 L521.3,240.5 L524.8,247.3 L528.3,254.2 L531.8,261.0 L535.3,267.6 L538.8,274.0 L542.3,280.2 L545.8,286.1 L549.3,291.7 L552.8,296.9 L556.3,301.8 L559.9,306.2 L563.4,310.3 L566.9,314.1 L570.4,317.8 L573.9,321.3 L577.4,323.8 L580.9,325.4 L584.4,326.7 L587.9,327.6 L591.4,328.3 L594.9,328.8 L598.4,329.3 L601.9,329.7 L605.4,330.0 L608.9,330.4 L612.4,330.7 L615.9,331.1 L619.4,331.5 L622.9,331.9 L626.4,332.5 L630.0,333.0 L633.5,333.7 L637.0,334.3 L640.5,335.0 L644.0,335.7 L647.5,336.5 L651.0,337.2 L654.5,338.0"/>
<path d="M60.5,383.9 L64.1,383.9 L67.8,383.8 L71.4,383.6 L75.1,383.4 L78.7,383.2 L82.4,382.9 L86.0,382.7 L89.7,382.4 L93.3,382.1 L97.0,381.7 L100.6,381.3 L104.3,380.8 L107.9,380.2 L111.5,379.6 L115.2,378.9 L118.8,378.1 L122.5,377.3 L126.1,376.3 L129.8,375.2 L133.4,373.5 L137.1,370.9 L140.7,367.9 L144.4,364.7 L148.0,360.8 L151.7,356.6 L155.3,352.0 L158.9,346.8 L162.6,341.3 L166.2,335.6 L169.9,329.5 L173.5,323.3 L177.2,316.9 L180.8,310.4 L184.5,303.7 L188.1,297.0 L191.8,290.2 L195.4,283.3 L199.1,276.4 L202.7,269.3 L206.3,262.2 L210.0,255.0 L213.6,247.7 L217.3,240.3 L220.9,232.8 L224.6,225.3 L228.2,217.6 L231.9,209.9 L235.5,202.0 L239.2,194.1 L242.8,186.1 L246.4,178.1 L250.1,170.1 L253.7,162.2 L257.4,154.3 L261.0,146.7 L264.7,139.2 L268.3,132.0 L272.0,125.1 L275.6,118.5 L279.3,112.2 L282.9,106.3 L286.6,100.7 L290.2,95.5 L293.8,90.7 L297.5,86.3 L301.1,82.2 L304.8,78.4 L308.4,75.0 L312.1,71.9 L315.7,69.2 L319.4,66.8 L323.0,64.6 L326.7,62.9 L330.3,61.5 L334.0,60.3 L337.6,59.8 L341.2,59.8 L344.9,59.7 L348.5,59.7 L352.2,60.1 L355.8,61.1 L359.5,62.3 L363.1,63.6 L366.8,65.2 L370.4,67.0 L374.1,68.8 L377.7,70.7 L381.4,72.8 L385.0,74.8 L388.6,76.9 L392.3,79.0 L395.9,81.2 L399.6,83.4 L403.2,85.7 L406.9,88.0 L410.5,90.4 L414.2,93.0 L417.8,95.6 L421.5,98.4 L425.1,101.3 L428.8,104.4 L432.4,107.7 L436.0,111.2 L439.7,115.0 L443.3,119.0 L447.0,123.3 L450.6,127.8 L454.3,132.7 L457.9,137.8 L461.6,143.2 L465.2,148.8 L468.9,154.7 L472.5,160.7 L476.2,167.0 L479.8,173.3 L483.4,179.8 L487.1,186.3 L490.7,192.9 L494.4,199.4 L498.0,206.0 L501.7,212.6 L505.3,219.2 L509.0,225.7 L512.6,232.1 L516.3,238.5 L519.9,244.9 L523.5,251.1 L527.2,257.4 L530.8,263.6 L534.5,269.6 L538.1,275.6 L541.8,281.5 L545.4,287.3 L549.1,292.9 L552.7,298.3 L556.4,303.5 L560.0,308.5 L563.7,313.3 L567.3,317.8 L570.9,322.0 L574.6,326.1 L578.2,329.9 L581.9,333.5 L585.5,336.9 L589.2,340.1 L592.8,343.3 L596.5,346.2 L600.1,348.9 L603.8,351.4 L607.4,353.6 L611.1,355.6 L614.7,357.4 L618.3,359.1 L622.0,360.4 L625.6,361.4 L629.3,362.1 L632.9,362.8 L636.6,363.5 L640.2,364.1 L643.9,364.6 L647.5,365.2 L651.2,365.8 L654.8,366.4 L658.5,367.0 L662.1,367.6 L665.7,368.2 L669.4,368.8 L673.0,369.4 L676.7,370.0"/>
<path d="M58.6,386.1 L62.3,385.7 L66.0,385.3 L69.6,384.9 L73.3,384.5 L77.0,384.1 L80.7,383.7 L84.3,383.4 L88.0,383.0 L91.7,382.6 L95.4,382.3 L99.0,382.1 L102.7,381.8 L106.4,381.5 L110.0,381.2 L113.7,380.8 L117.4,380.4 L121.1,379.8 L124.7,379.2 L128.4,378.5 L132.1,376.8 L135.7,374.1 L139.4,371.1 L143.1,367.7 L146.8,363.7 L150.4,359.3 L154.1,354.4 L157.8,348.9 L161.4,343.0 L165.1,336.8 L168.8,330.2 L172.5,323.3 L176.1,316.2 L179.8,309.0 L183.5,301.6 L187.1,294.2 L190.8,286.6 L194.5,279.1 L198.2,271.5 L201.8,263.9 L205.5,256.4 L209.2,249.0 L212.8,241.6 L216.5,234.3 L220.2,227.1 L223.9,219.9 L227.5,212.7 L231.2,205.6 L234.9,198.5 L238.5,191.3 L242.2,184.0 L245.9,176.7 L249.6,169.3 L253.2,161.8 L256.9,154.2 L260.6,146.5 L264.2,138.9 L267.9,131.1 L271.6,123.5 L275.3,115.9 L278.9,108.4 L282.6,101.2 L286.3,94.2 L289.9,87.4 L293.6,81.1 L297.3,75.1 L301.0,69.5 L304.6,64.4 L308.3,59.9 L312.0,55.8 L315.6,52.3 L319.3,49.4 L323.0,46.9 L326.7,45.3 L330.3,44.4 L334.0,43.8 L337.7,43.6 L341.3,43.9 L345.0,44.8 L348.7,46.0 L352.4,47.6 L356.0,49.9 L359.7,52.3 L363.4,55.0 L367.1,57.9 L370.7,60.8 L374.4,63.8 L378.1,66.8 L381.7,69.6 L385.4,72.4 L389.1,75.1 L392.8,77.6 L396.4,80.0 L400.1,82.2 L403.8,84.5 L407.4,86.7 L411.1,88.8 L414.8,91.1 L418.5,93.5 L422.1,96.0 L425.8,98.6 L429.5,101.6 L433.1,104.9 L436.8,108.4 L440.5,112.3 L444.2,116.6 L447.8,121.2 L451.5,126.2 L455.2,131.6 L458.8,137.3 L462.5,143.3 L466.2,149.7 L469.9,156.3 L473.5,163.2 L477.2,170.3 L480.9,177.6 L484.5,185.1 L488.2,192.7 L491.9,200.4 L495.6,208.1 L499.2,215.9 L502.9,223.6 L506.6,231.2 L510.2,238.8 L513.9,246.3 L517.6,253.5 L521.3,260.6 L524.9,267.4 L528.6,273.9 L532.3,280.2 L535.9,286.2 L539.6,291.9 L543.3,297.4 L547.0,302.6 L550.6,307.5 L554.3,312.2 L558.0,316.7 L561.6,320.9 L565.3,325.0 L569.0,328.9 L572.7,332.7 L576.3,336.4 L580.0,339.9 L583.7,343.6 L587.3,347.2 L591.0,350.2 L594.7,352.5 L598.4,354.6 L602.0,356.2 L605.7,357.4 L609.4,358.4 L613.0,359.3 L616.7,360.1 L620.4,360.9 L624.1,361.7 L627.7,362.3 L631.4,362.9 L635.1,363.5 L638.8,364.1 L642.4,364.6 L646.1,365.1 L649.8,365.6 L653.4,366.1 L657.1,366.6 L660.8,367.1 L664.5,367.5 L668.1,367.9 L671.8,368.3 L675.5,368.6 L679.1,368.9"/>
<path d="M82.6,371.0 L86.1,370.5 L89.6,370.0 L93.1,369.5 L96.6,368.9 L100.1,368.4 L103.6,367.9 L107.0,367.4 L110.5,367.0 L114.0,366.6 L117.5,366.2 L121.0,365.8 L124.5,365.2 L128.0,364.6 L131.5,363.8 L134.9,362.9 L138.4,360.9 L141.9,357.8 L145.4,354.3 L148.9,350.7 L152.4,346.7 L155.9,342.3 L159.4,337.5 L162.8,332.3 L166.3,326.9 L169.8,321.2 L173.3,315.3 L176.8,309.2 L180.3,303.0 L183.8,296.7 L187.2,290.2 L190.7,283.7 L194.2,277.0 L197.7,270.3 L201.2,263.5 L204.7,256.7 L208.2,249.9 L211.7,243.1 L215.1,236.2 L218.6,229.4 L222.1,222.7 L225.6,215.9 L229.1,209.1 L232.6,202.4 L236.1,195.6 L239.6,188.8 L243.0,182.0 L246.5,175.1 L250.0,168.3 L253.5,161.4 L257.0,154.6 L260.5,147.8 L264.0,141.1 L267.4,134.4 L270.9,128.0 L274.4,121.7 L277.9,115.5 L281.4,109.7 L284.9,104.1 L288.4,98.7 L291.9,93.7 L295.3,89.1 L298.8,84.8 L302.3,80.9 L305.8,77.3 L309.3,74.1 L312.8,71.3 L316.3,68.9 L319.8,66.8 L323.2,65.2 L326.7,63.9 L330.2,62.9 L333.7,62.4 L337.2,62.4 L340.7,62.5 L344.2,62.5 L347.6,63.1 L351.1,64.2 L354.6,65.6 L358.1,67.2 L361.6,69.1 L365.1,71.2 L368.6,73.4 L372.1,75.9 L375.5,78.5 L379.0,81.1 L382.5,83.9 L386.0,86.8 L389.5,89.7 L393.0,92.6 L396.5,95.6 L400.0,98.5 L403.4,101.6 L406.9,104.6 L410.4,107.7 L413.9,110.8 L417.4,114.0 L420.9,117.3 L424.4,120.5 L427.8,123.9 L431.3,127.4 L434.8,131.0 L438.3,134.7 L441.8,138.5 L445.3,142.4 L448.8,146.5 L452.3,150.8 L455.7,155.3 L459.2,159.8 L462.7,164.6 L466.2,169.5 L469.7,174.6 L473.2,179.9 L476.7,185.3 L480.2,190.8 L483.6,196.4 L487.1,202.2 L490.6,208.1 L494.1,214.1 L497.6,220.2 L501.1,226.2 L504.6,232.3 L508.0,238.5 L511.5,244.5 L515.0,250.5 L518.5,256.5 L522.0,262.2 L525.5,267.9 L529.0,273.4 L532.5,278.7 L535.9,283.8 L539.4,288.7 L542.9,293.3 L546.4,297.7 L549.9,302.0 L553.4,306.0 L556.9,309.7 L560.4,313.3 L563.8,316.8 L567.3,320.0 L570.8,323.2 L574.3,326.2 L577.8,329.1 L581.3,332.0 L584.8,334.8 L588.2,337.6 L591.7,340.3 L595.2,342.9 L598.7,345.6 L602.2,348.2 L605.7,350.1 L609.2,351.4 L612.7,352.3 L616.1,353.2 L619.6,353.9 L623.1,354.5 L626.6,355.0 L630.1,355.5 L633.6,355.9 L637.1,356.4 L640.6,356.9 L644.0,357.5 L647.5,358.0 L651.0,358.7 L654.5,359.4 L658.0,360.1 L661.5,360.8 L665.0,361.6 L668.4,362.3 L671.9,363.1"/>
<path d="M54.6,389.3 L58.2,389.0 L61.8,388.6 L65.4,388.3 L69.0,387.9 L72.6,387.5 L76.2,387.1 L79.8,386.7 L83.4,386.3 L87.0,385.9 L90.6,385.5 L94.1,385.0 L97.7,384.5 L101.3,384.0 L104.9,383.4 L108.5,382.7 L112.1,381.9 L115.7,380.9 L119.3,379.4 L122.9,377.8 L126.5,375.8 L130.1,373.4 L133.7,370.8 L137.3,367.7 L140.9,364.2 L144.5,360.3 L148.1,355.9 L151.6,351.0 L155.2,345.8 L158.8,340.3 L162.4,334.4 L166.0,328.3 L169.6,322.2 L173.2,315.9 L176.8,309.6 L180.4,303.4 L184.0,297.2 L187.6,291.1 L191.2,285.1 L194.8,279.3 L198.4,273.6 L202.0,268.1 L205.6,262.7 L209.2,257.4 L212.7,252.3 L216.3,247.3 L219.9,242.4 L223.5,237.6 L227.1,232.8 L230.7,227.9 L234.3,223.0 L237.9,217.9 L241.5,212.7 L245.1,207.3 L248.7,201.6 L252.3,195.8 L255.9,189.6 L259.5,183.2 L263.1,176.5 L266.7,169.6 L270.2,162.4 L273.8,155.1 L277.4,147.7 L281.0,140.1 L284.6,132.5 L288.2,125.0 L291.8,117.5 L295.4,110.2 L299.0,103.2 L302.6,96.4 L306.2,90.0 L309.8,84.1 L313.4,78.6 L317.0,73.7 L320.6,69.3 L324.2,65.4 L327.7,62.3 L331.3,59.8 L334.9,57.7 L338.5,56.7 L342.1,56.5 L345.7,56.4 L349.3,56.3 L352.9,57.0 L356.5,58.5 L360.1,60.3 L363.7,62.2 L367.3,64.5 L370.9,66.9 L374.5,69.3 L378.1,71.8 L381.7,74.3 L385.3,76.7 L388.8,79.1 L392.4,81.4 L396.0,83.6 L399.6,85.8 L403.2,88.0 L406.8,90.2 L410.4,92.4 L414.0,94.7 L417.6,97.2 L421.2,99.8 L424.8,102.6 L428.4,105.6 L432.0,108.9 L435.6,112.5 L439.2,116.4 L442.8,120.6 L446.3,125.0 L449.9,129.8 L453.5,134.8 L457.1,140.0 L460.7,145.4 L464.3,151.0 L467.9,156.8 L471.5,162.6 L475.1,168.6 L478.7,174.6 L482.3,180.7 L485.9,186.8 L489.5,192.9 L493.1,199.0 L496.7,205.1 L500.3,211.2 L503.8,217.3 L507.4,223.3 L511.0,229.3 L514.6,235.2 L518.2,241.1 L521.8,246.9 L525.4,252.5 L529.0,258.1 L532.6,263.5 L536.2,268.8 L539.8,273.9 L543.4,278.8 L547.0,283.6 L550.6,288.2 L554.2,292.6 L557.8,296.8 L561.4,300.8 L564.9,304.7 L568.5,308.4 L572.1,311.9 L575.7,315.4 L579.3,318.9 L582.9,322.3 L586.5,325.5 L590.1,328.6 L593.7,331.6 L597.3,334.0 L600.9,335.6 L604.5,336.9 L608.1,338.1 L611.7,339.3 L615.3,340.3 L618.9,341.2 L622.4,342.0 L626.0,342.8 L629.6,343.5 L633.2,344.2 L636.8,344.9 L640.4,345.5 L644.0,346.1 L647.6,346.7 L651.2,347.2 L654.8,347.6 L658.4,348.0 L662.0,348.4"/>
<path d="M66.1,383.2 L69.6,382.7 L73.1,382.2 L76.6,381.7 L80.1,381.2 L83.6,380.7 L87.1,380.2 L90.6,379.7 L94.1,379.4 L97.6,379.0 L101.1,378.7 L104.6,378.4 L108.1,378.0 L111.6,377.7 L115.1,377.2 L118.6,376.7 L122.1,376.1 L125.6,375.3 L129.1,373.9 L132.6,371.6 L136.1,369.0 L139.6,366.3 L143.1,363.1 L146.6,359.7 L150.1,355.8 L153.6,351.5 L157.1,346.9 L160.6,342.1 L164.1,337.0 L167.6,331.7 L171.1,326.3 L174.6,320.8 L178.1,315.2 L181.6,309.6 L185.1,304.0 L188.6,298.3 L192.1,292.6 L195.6,286.8 L199.1,280.9 L202.6,274.9 L206.1,268.9 L209.6,262.8 L213.1,256.5 L216.6,250.1 L220.1,243.6 L223.6,236.9 L227.1,230.1 L230.6,223.1 L234.1,215.9 L237.6,208.6 L241.1,201.2 L244.6,193.6 L248.1,186.1 L251.6,178.5 L255.1,171.0 L258.6,163.5 L262.1,156.3 L265.6,149.3 L269.1,142.4 L272.6,135.9 L276.1,129.8 L279.6,123.9 L283.1,118.5 L286.6,113.4 L290.1,108.6 L293.6,104.2 L297.1,100.1 L300.6,96.4 L304.1,92.9 L307.6,89.7 L311.1,86.8 L314.6,84.1 L318.1,81.6 L321.6,79.3 L325.1,77.3 L328.6,75.5 L332.1,73.8 L335.6,72.5 L339.2,71.4 L342.7,70.4 L346.2,70.0 L349.7,70.1 L353.2,70.1 L356.7,70.3 L360.2,70.8 L363.7,71.9 L367.2,73.1 L370.7,74.5 L374.2,76.2 L377.7,78.0 L381.2,79.9 L384.7,82.0 L388.2,84.1 L391.7,86.3 L395.2,88.7 L398.7,91.0 L402.2,93.5 L405.7,96.0 L409.2,98.6 L412.7,101.3 L416.2,104.1 L419.7,106.9 L423.2,109.9 L426.7,112.9 L430.2,116.1 L433.7,119.5 L437.2,123.0 L440.7,126.6 L444.2,130.3 L447.7,134.3 L451.2,138.4 L454.7,142.6 L458.2,147.0 L461.7,151.6 L465.2,156.3 L468.7,161.1 L472.2,166.1 L475.7,171.1 L479.2,176.3 L482.7,181.6 L486.2,187.0 L489.7,192.4 L493.2,198.0 L496.7,203.5 L500.2,209.2 L503.7,214.9 L507.2,220.6 L510.7,226.4 L514.2,232.1 L517.7,237.9 L521.2,243.7 L524.7,249.4 L528.2,255.1 L531.7,260.7 L535.2,266.3 L538.7,271.7 L542.2,277.0 L545.7,282.2 L549.2,287.2 L552.7,292.0 L556.2,296.6 L559.7,300.9 L563.2,305.1 L566.7,309.1 L570.2,312.9 L573.7,316.6 L577.2,319.8 L580.7,322.6 L584.2,325.1 L587.7,327.1 L591.2,328.6 L594.7,329.8 L598.2,330.9 L601.7,331.9 L605.2,332.8 L608.7,333.6 L612.2,334.4 L615.7,335.0 L619.2,335.7 L622.7,336.2 L626.2,336.7 L629.7,337.1 L633.2,337.6 L636.7,338.0 L640.2,338.4 L643.7,338.7 L647.2,339.0 L650.7,339.3 L654.2,339.5 L657.7,339.7"/>
<path d="M57.1,386.4 L60.8,386.1 L64.5,385.8 L68.2,385.5 L71.9,385.1 L75.6,384.7 L79.3,384.4 L82.9,384.0 L86.6,383.6 L90.3,383.2 L94.0,382.8 L97.7,382.5 L101.4,382.0 L105.1,381.5 L108.8,381.0 L112.4,380.4 L116.1,379.6 L119.8,378.8 L123.5,377.4 L127.2,375.4 L130.9,373.0 L134.6,370.5 L138.2,367.5 L141.9,364.2 L145.6,360.4 L149.3,356.0 L153.0,351.2 L156.7,345.9 L160.4,340.0 L164.1,333.9 L167.7,327.3 L171.4,320.4 L175.1,313.3 L178.8,305.9 L182.5,298.3 L186.2,290.6 L189.9,282.7 L193.5,274.6 L197.2,266.4 L200.9,258.2 L204.6,249.9 L208.3,241.6 L212.0,233.4 L215.7,225.1 L219.4,217.0 L223.0,209.0 L226.7,201.2 L230.4,193.4 L234.1,185.9 L237.8,178.4 L241.5,171.2 L245.2,164.2 L248.9,157.3 L252.5,150.7 L256.2,144.3 L259.9,138.1 L263.6,132.1 L267.3,126.4 L271.0,120.8 L274.7,115.5 L278.3,110.4 L282.0,105.5 L285.7,100.9 L289.4,96.4 L293.1,92.2 L296.8,88.2 L300.5,84.5 L304.2,81.0 L307.8,77.8 L311.5,74.9 L315.2,72.2 L318.9,69.9 L322.6,68.0 L326.3,66.2 L330.0,65.2 L333.7,64.6 L337.3,64.2 L341.0,64.1 L344.7,64.5 L348.4,65.4 L352.1,66.5 L355.8,68.0 L359.5,69.9 L363.1,72.0 L366.8,74.3 L370.5,76.8 L374.2,79.4 L377.9,82.1 L381.6,84.8 L385.3,87.6 L389.0,90.3 L392.6,93.1 L396.3,95.8 L400.0,98.6 L403.7,101.3 L407.4,104.1 L411.1,107.0 L414.8,109.8 L418.4,112.8 L422.1,115.8 L425.8,118.9 L429.5,122.1 L433.2,125.5 L436.9,128.9 L440.6,132.4 L444.3,136.1 L447.9,139.9 L451.6,143.8 L455.3,147.8 L459.0,151.9 L462.7,156.2 L466.4,160.6 L470.1,165.1 L473.8,169.8 L477.4,174.5 L481.1,179.5 L484.8,184.5 L488.5,189.8 L492.2,195.1 L495.9,200.7 L499.6,206.3 L503.2,212.2 L506.9,218.1 L510.6,224.2 L514.3,230.4 L518.0,236.6 L521.7,242.9 L525.4,249.2 L529.1,255.5 L532.7,261.8 L536.4,268.1 L540.1,274.3 L543.8,280.4 L547.5,286.4 L551.2,292.3 L554.9,298.0 L558.5,303.5 L562.2,308.9 L565.9,314.1 L569.6,319.0 L573.3,323.8 L577.0,328.4 L580.7,332.9 L584.4,337.2 L588.0,341.5 L591.7,345.7 L595.4,349.6 L599.1,353.5 L602.8,357.1 L606.5,359.7 L610.2,361.1 L613.9,362.2 L617.5,363.1 L621.2,363.9 L624.9,364.7 L628.6,365.3 L632.3,365.9 L636.0,366.4 L639.7,366.9 L643.3,367.4 L647.0,367.8 L650.7,368.2 L654.4,368.7 L658.1,369.1 L661.8,369.5 L665.5,369.9 L669.2,370.2 L672.8,370.5 L676.5,370.8 L680.2,371.1"/>
<path d="M61.7,382.6 L65.3,382.5 L69.0,382.4 L72.7,382.2 L76.4,382.0 L80.0,381.7 L83.7,381.5 L87.4,381.2 L91.0,380.9 L94.7,380.6 L98.4,380.3 L102.1,380.0 L105.7,379.7 L109.4,379.2 L113.1,378.8 L116.8,378.2 L120.4,377.6 L124.1,376.9 L127.8,376.1 L131.4,375.2 L135.1,373.4 L138.8,370.5 L142.5,367.4 L146.1,364.1 L149.8,360.3 L153.5,356.4 L157.1,352.1 L160.8,347.5 L164.5,342.7 L168.2,337.8 L171.8,332.8 L175.5,327.8 L179.2,322.7 L182.9,317.6 L186.5,312.3 L190.2,307.1 L193.9,301.7 L197.5,296.2 L201.2,290.6 L204.9,284.9 L208.6,279.0 L212.2,272.9 L215.9,266.6 L219.6,260.1 L223.2,253.4 L226.9,246.5 L230.6,239.3 L234.3,231.8 L237.9,224.1 L241.6,216.1 L245.3,208.0 L249.0,199.6 L252.6,191.1 L256.3,182.6 L260.0,173.9 L263.6,165.2 L267.3,156.6 L271.0,148.0 L274.7,139.6 L278.3,131.3 L282.0,123.1 L285.7,115.1 L289.3,107.5 L293.0,100.0 L296.7,92.9 L300.4,86.0 L304.0,79.5 L307.7,73.4 L311.4,67.7 L315.1,62.4 L318.7,57.6 L322.4,53.3 L326.1,49.4 L329.7,46.2 L333.4,43.5 L337.1,41.1 L340.8,39.6 L344.4,38.8 L348.1,38.3 L351.8,38.0 L355.4,38.4 L359.1,39.1 L362.8,40.1 L366.5,41.4 L370.1,43.1 L373.8,44.9 L377.5,46.8 L381.2,48.8 L384.8,50.9 L388.5,53.0 L392.2,55.2 L395.8,57.5 L399.5,59.9 L403.2,62.3 L406.9,65.0 L410.5,67.8 L414.2,70.7 L417.9,73.9 L421.5,77.4 L425.2,81.1 L428.9,85.0 L432.6,89.2 L436.2,93.8 L439.9,98.7 L443.6,103.9 L447.3,109.4 L450.9,115.2 L454.6,121.4 L458.3,127.9 L461.9,134.7 L465.6,141.8 L469.3,149.2 L473.0,156.8 L476.6,164.6 L480.3,172.6 L484.0,180.6 L487.6,188.7 L491.3,196.9 L495.0,205.1 L498.7,213.2 L502.3,221.3 L506.0,229.2 L509.7,236.9 L513.4,244.5 L517.0,251.8 L520.7,258.9 L524.4,265.8 L528.0,272.4 L531.7,278.8 L535.4,284.9 L539.1,290.7 L542.7,296.2 L546.4,301.4 L550.1,306.4 L553.7,311.1 L557.4,315.6 L561.1,319.7 L564.8,323.7 L568.4,327.4 L572.1,330.9 L575.8,334.2 L579.4,337.4 L583.1,340.4 L586.8,343.5 L590.5,346.5 L594.1,349.4 L597.8,352.2 L601.5,355.0 L605.2,356.9 L608.8,358.1 L612.5,358.9 L616.2,359.6 L619.8,360.3 L623.5,360.9 L627.2,361.4 L630.9,361.9 L634.5,362.3 L638.2,362.7 L641.9,363.2 L645.5,363.6 L649.2,364.1 L652.9,364.6 L656.6,365.2 L660.2,365.8 L663.9,366.4 L667.6,366.9 L671.3,367.5 L674.9,368.1 L678.6,368.7 L682.3,369.3"/>
<path d="M68.6,382.3 L72.3,382.3 L75.9,382.1 L79.5,381.9 L83.1,381.7 L86.8,381.4 L90.4,381.0 L94.0,380.5 L97.6,379.8 L101.3,379.1 L104.9,378.2 L108.5,377.3 L112.1,376.2 L115.8,375.1 L119.4,373.8 L123.0,372.1 L126.6,370.1 L130.3,368.1 L133.9,365.8 L137.5,363.2 L141.1,360.4 L144.8,357.1 L148.4,353.6 L152.0,349.8 L155.7,345.5 L159.3,340.9 L162.9,336.2 L166.5,331.1 L170.2,325.9 L173.8,320.6 L177.4,315.1 L181.0,309.4 L184.7,303.7 L188.3,297.8 L191.9,291.8 L195.5,285.7 L199.2,279.4 L202.8,272.9 L206.4,266.3 L210.0,259.5 L213.7,252.6 L217.3,245.6 L220.9,238.4 L224.5,231.1 L228.2,223.6 L231.8,216.0 L235.4,208.4 L239.0,200.6 L242.7,192.8 L246.3,184.9 L249.9,177.1 L253.6,169.3 L257.2,161.6 L260.8,154.0 L264.4,146.5 L268.1,139.4 L271.7,132.4 L275.3,125.8 L278.9,119.4 L282.6,113.4 L286.2,107.7 L289.8,102.4 L293.4,97.5 L297.1,92.8 L300.7,88.6 L304.3,84.7 L307.9,81.2 L311.6,78.0 L315.2,75.1 L318.8,72.5 L322.4,70.3 L326.1,68.4 L329.7,66.7 L333.3,65.4 L336.9,64.4 L340.6,63.5 L344.2,63.1 L347.8,63.1 L351.4,63.1 L355.1,63.1 L358.7,63.4 L362.3,64.2 L366.0,65.0 L369.6,66.0 L373.2,67.0 L376.8,68.2 L380.5,69.5 L384.1,70.9 L387.7,72.4 L391.3,74.0 L395.0,75.8 L398.6,77.7 L402.2,79.9 L405.8,82.3 L409.5,84.9 L413.1,87.7 L416.7,90.9 L420.3,94.3 L424.0,98.1 L427.6,102.1 L431.2,106.4 L434.8,110.9 L438.5,115.8 L442.1,120.8 L445.7,126.0 L449.3,131.4 L453.0,136.8 L456.6,142.4 L460.2,148.1 L463.9,153.7 L467.5,159.4 L471.1,165.1 L474.7,170.8 L478.4,176.4 L482.0,182.1 L485.6,187.7 L489.2,193.4 L492.9,199.0 L496.5,204.7 L500.1,210.4 L503.7,216.2 L507.4,222.0 L511.0,227.9 L514.6,233.8 L518.2,239.8 L521.9,245.8 L525.5,251.8 L529.1,257.7 L532.7,263.6 L536.4,269.4 L540.0,275.2 L543.6,280.8 L547.2,286.3 L550.9,291.6 L554.5,296.7 L558.1,301.7 L561.8,306.4 L565.4,311.0 L569.0,315.4 L572.6,319.6 L576.3,323.7 L579.9,327.6 L583.5,331.5 L587.1,335.3 L590.8,339.0 L594.4,342.6 L598.0,346.4 L601.6,350.0 L605.3,353.0 L608.9,355.4 L612.5,357.4 L616.1,358.9 L619.8,359.9 L623.4,360.7 L627.0,361.4 L630.6,362.1 L634.3,362.6 L637.9,363.1 L641.5,363.6 L645.1,364.0 L648.8,364.4 L652.4,364.9 L656.0,365.4 L659.7,365.8 L663.3,366.2 L666.9,366.6 L670.5,367.0 L674.2,367.4 L677.8,367.7 L681.4,368.0"/>
<path d="M46.6,389.1 L50.3,389.0 L54.0,389.0 L57.7,388.9 L61.4,388.8 L65.0,388.6 L68.7,388.5 L72.4,388.3 L76.1,388.1 L79.8,387.9 L83.5,387.7 L87.1,387.4 L90.8,387.1 L94.5,386.7 L98.2,386.3 L101.9,385.8 L105.6,385.3 L109.2,384.7 L112.9,384.1 L116.6,383.4 L120.3,382.6 L124.0,381.8 L127.7,380.9 L131.3,379.5 L135.0,377.5 L138.7,375.2 L142.4,372.6 L146.1,369.5 L149.8,366.2 L153.4,362.4 L157.1,358.1 L160.8,353.5 L164.5,348.6 L168.2,343.3 L171.9,337.8 L175.5,332.1 L179.2,326.2 L182.9,320.1 L186.6,313.7 L190.3,307.2 L194.0,300.5 L197.6,293.6 L201.3,286.5 L205.0,279.2 L208.7,271.8 L212.4,264.2 L216.1,256.4 L219.7,248.6 L223.4,240.6 L227.1,232.5 L230.8,224.3 L234.5,216.0 L238.2,207.6 L241.8,199.2 L245.5,190.8 L249.2,182.3 L252.9,173.9 L256.6,165.6 L260.2,157.3 L263.9,149.2 L267.6,141.3 L271.3,133.6 L275.0,126.1 L278.7,118.8 L282.3,111.8 L286.0,105.2 L289.7,98.7 L293.4,92.7 L297.1,87.0 L300.8,81.5 L304.4,76.5 L308.1,71.8 L311.8,67.4 L315.5,63.5 L319.2,60.0 L322.9,56.7 L326.5,54.1 L330.2,51.9 L333.9,50.0 L337.6,49.0 L341.3,48.7 L345.0,48.5 L348.6,48.5 L352.3,49.2 L356.0,50.8 L359.7,52.8 L363.4,55.1 L367.1,58.0 L370.7,61.1 L374.4,64.5 L378.1,68.2 L381.8,72.1 L385.5,76.0 L389.2,80.0 L392.8,84.0 L396.5,88.0 L400.2,92.0 L403.9,96.0 L407.6,99.8 L411.3,103.6 L414.9,107.3 L418.6,110.8 L422.3,114.3 L426.0,117.8 L429.7,121.1 L433.4,124.4 L437.0,127.6 L440.7,130.9 L444.4,134.1 L448.1,137.4 L451.8,140.7 L455.5,144.1 L459.1,147.6 L462.8,151.2 L466.5,154.9 L470.2,158.8 L473.9,162.9 L477.6,167.2 L481.2,171.8 L484.9,176.5 L488.6,181.6 L492.3,186.8 L496.0,192.4 L499.7,198.1 L503.3,204.1 L507.0,210.3 L510.7,216.6 L514.4,223.1 L518.1,229.7 L521.7,236.3 L525.4,242.9 L529.1,249.5 L532.8,256.1 L536.5,262.5 L540.2,268.8 L543.8,274.9 L547.5,280.8 L551.2,286.4 L554.9,291.8 L558.6,297.0 L562.3,301.9 L565.9,306.5 L569.6,311.0 L573.3,315.1 L577.0,319.1 L580.7,322.9 L584.4,326.6 L588.0,330.1 L591.7,333.4 L595.4,336.6 L599.1,339.6 L602.8,342.0 L606.5,343.7 L610.1,345.0 L613.8,346.2 L617.5,347.2 L621.2,348.1 L624.9,349.0 L628.6,349.7 L632.2,350.4 L635.9,351.1 L639.6,351.8 L643.3,352.5 L647.0,353.2 L650.7,353.9 L654.3,354.7 L658.0,355.4 L661.7,356.1 L665.4,356.7 L669.1,357.3"/>
<path d="M67.2,381.7 L70.8,381.3 L74.4,380.8 L78.0,380.4 L81.5,379.9 L85.1,379.5 L88.7,379.0 L92.3,378.6 L95.9,378.1 L99.4,377.7 L103.0,377.4 L106.6,377.0 L110.2,376.5 L113.7,376.1 L117.3,375.6 L120.9,375.0 L124.5,374.3 L128.1,373.5 L131.6,372.2 L135.2,370.4 L138.8,368.3 L142.4,366.0 L145.9,363.2 L149.5,360.1 L153.1,356.6 L156.7,352.5 L160.2,348.2 L163.8,343.5 L167.4,338.4 L171.0,333.1 L174.6,327.7 L178.1,322.0 L181.7,316.1 L185.3,310.2 L188.9,304.1 L192.4,297.9 L196.0,291.7 L199.6,285.4 L203.2,279.1 L206.8,272.8 L210.3,266.6 L213.9,260.3 L217.5,254.1 L221.1,247.9 L224.6,241.8 L228.2,235.6 L231.8,229.5 L235.4,223.3 L238.9,217.0 L242.5,210.6 L246.1,204.1 L249.7,197.4 L253.3,190.5 L256.8,183.6 L260.4,176.4 L264.0,169.1 L267.6,161.7 L271.1,154.1 L274.7,146.4 L278.3,138.7 L281.9,131.0 L285.5,123.3 L289.0,115.7 L292.6,108.3 L296.2,100.9 L299.8,93.9 L303.3,87.2 L306.9,80.8 L310.5,74.9 L314.1,69.4 L317.7,64.2 L321.2,59.7 L324.8,55.7 L328.4,52.1 L332.0,49.3 L335.5,46.9 L339.1,44.9 L342.7,43.8 L346.3,43.3 L349.8,42.9 L353.4,42.8 L357.0,43.2 L360.6,44.2 L364.2,45.3 L367.7,46.7 L371.3,48.5 L374.9,50.4 L378.5,52.5 L382.0,54.8 L385.6,57.2 L389.2,59.7 L392.8,62.4 L396.4,65.2 L399.9,68.2 L403.5,71.3 L407.1,74.6 L410.7,78.1 L414.2,81.7 L417.8,85.4 L421.4,89.3 L425.0,93.3 L428.5,97.5 L432.1,101.8 L435.7,106.2 L439.3,110.7 L442.9,115.4 L446.4,120.1 L450.0,125.1 L453.6,130.2 L457.2,135.4 L460.7,140.7 L464.3,146.3 L467.9,151.9 L471.5,157.8 L475.1,163.7 L478.6,169.8 L482.2,176.0 L485.8,182.3 L489.4,188.8 L492.9,195.2 L496.5,201.8 L500.1,208.3 L503.7,214.9 L507.3,221.5 L510.8,228.0 L514.4,234.5 L518.0,241.0 L521.6,247.3 L525.1,253.6 L528.7,259.7 L532.3,265.8 L535.9,271.6 L539.4,277.4 L543.0,283.0 L546.6,288.4 L550.2,293.6 L553.8,298.7 L557.3,303.6 L560.9,308.3 L564.5,312.8 L568.1,317.1 L571.6,321.2 L575.2,325.1 L578.8,328.8 L582.4,332.4 L586.0,335.8 L589.5,339.1 L593.1,342.1 L596.7,345.0 L600.3,347.6 L603.8,349.8 L607.4,351.7 L611.0,353.3 L614.6,354.7 L618.1,355.9 L621.7,357.0 L625.3,358.0 L628.9,359.0 L632.5,359.9 L636.0,360.7 L639.6,361.4 L643.2,362.0 L646.8,362.5 L650.3,362.9 L653.9,363.2 L657.5,363.5 L661.1,363.8 L664.7,364.0 L668.2,364.2 L671.8,364.3"/>
<path d="M46.0,386.7 L49.6,386.5 L53.1,386.4 L56.7,386.2 L60.3,386.0 L63.9,385.8 L67.5,385.6 L71.0,385.3 L74.6,385.1 L78.2,384.8 L81.8,384.6 L85.4,384.3 L88.9,384.0 L92.5,383.7 L96.1,383.4 L99.7,383.1 L103.3,382.8 L106.8,382.4 L110.4,381.9 L114.0,381.4 L117.6,380.9 L121.2,380.3 L124.7,379.6 L128.3,378.9 L131.9,377.7 L135.5,375.9 L139.1,373.9 L142.6,371.8 L146.2,369.3 L149.8,366.6 L153.4,363.6 L157.0,360.2 L160.5,356.6 L164.1,352.8 L167.7,348.6 L171.3,344.3 L174.9,339.9 L178.4,335.2 L182.0,330.4 L185.6,325.4 L189.2,320.2 L192.8,314.8 L196.3,309.2 L199.9,303.3 L203.5,297.3 L207.1,291.1 L210.6,284.7 L214.2,278.1 L217.8,271.3 L221.4,264.4 L225.0,257.2 L228.5,249.9 L232.1,242.4 L235.7,234.7 L239.3,226.9 L242.9,218.8 L246.4,210.7 L250.0,202.4 L253.6,194.0 L257.2,185.5 L260.8,177.0 L264.3,168.4 L267.9,159.9 L271.5,151.5 L275.1,143.0 L278.7,134.8 L282.2,126.7 L285.8,118.8 L289.4,111.1 L293.0,103.7 L296.6,96.6 L300.1,89.9 L303.7,83.5 L307.3,77.4 L310.9,71.9 L314.5,66.8 L318.0,62.2 L321.6,58.2 L325.2,54.7 L328.8,51.6 L332.4,49.4 L335.9,47.9 L339.5,46.8 L343.1,46.4 L346.7,46.7 L350.3,47.4 L353.8,48.5 L357.4,50.2 L361.0,52.7 L364.6,55.6 L368.1,58.7 L371.7,62.2 L375.3,65.9 L378.9,69.7 L382.5,73.6 L386.0,77.5 L389.6,81.4 L393.2,85.2 L396.8,88.9 L400.4,92.5 L403.9,95.9 L407.5,99.2 L411.1,102.3 L414.7,105.3 L418.3,108.1 L421.8,110.8 L425.4,113.4 L429.0,116.0 L432.6,118.5 L436.2,121.0 L439.7,123.6 L443.3,126.2 L446.9,128.9 L450.5,131.7 L454.1,134.8 L457.6,137.9 L461.2,141.3 L464.8,144.9 L468.4,148.7 L472.0,152.7 L475.5,156.9 L479.1,161.4 L482.7,166.0 L486.3,170.9 L489.9,176.1 L493.4,181.4 L497.0,186.9 L500.6,192.7 L504.2,198.6 L507.8,204.7 L511.3,211.1 L514.9,217.5 L518.5,224.0 L522.1,230.7 L525.6,237.3 L529.2,244.0 L532.8,250.7 L536.4,257.3 L540.0,263.7 L543.5,270.1 L547.1,276.1 L550.7,281.9 L554.3,287.5 L557.9,292.8 L561.4,297.7 L565.0,302.4 L568.6,306.7 L572.2,310.8 L575.8,314.5 L579.3,318.0 L582.9,321.4 L586.5,324.6 L590.1,326.7 L593.7,327.8 L597.2,328.7 L600.8,329.4 L604.4,330.0 L608.0,330.5 L611.6,331.0 L615.1,331.4 L618.7,331.9 L622.3,332.4 L625.9,333.0 L629.5,333.6 L633.0,334.4 L636.6,335.1 L640.2,335.9 L643.8,336.7 L647.4,337.5 L650.9,338.4"/>
<path d="M63.5,385.8 L67.1,385.4 L70.8,385.0 L74.4,384.6 L78.0,384.2 L81.6,383.7 L85.2,383.3 L88.8,382.8 L92.5,382.4 L96.1,381.9 L99.7,381.4 L103.3,380.9 L106.9,380.3 L110.6,379.7 L114.2,379.1 L117.8,378.5 L121.4,377.7 L125.0,376.9 L128.6,375.9 L132.3,374.6 L135.9,373.1 L139.5,371.3 L143.1,369.1 L146.7,366.4 L150.4,363.5 L154.0,360.1 L157.6,356.1 L161.2,351.9 L164.8,347.4 L168.4,342.4 L172.1,337.3 L175.7,331.9 L179.3,326.3 L182.9,320.4 L186.5,314.4 L190.2,308.1 L193.8,301.6 L197.4,294.9 L201.0,288.0 L204.6,280.9 L208.2,273.6 L211.9,266.1 L215.5,258.5 L219.1,250.7 L222.7,242.8 L226.3,234.7 L230.0,226.6 L233.6,218.4 L237.2,210.1 L240.8,201.8 L244.4,193.4 L248.0,185.1 L251.7,176.8 L255.3,168.6 L258.9,160.5 L262.5,152.6 L266.1,144.8 L269.8,137.3 L273.4,129.9 L277.0,122.7 L280.6,115.8 L284.2,109.2 L287.8,102.7 L291.5,96.5 L295.1,90.6 L298.7,84.9 L302.3,79.6 L305.9,74.5 L309.6,69.7 L313.2,65.3 L316.8,61.2 L320.4,57.4 L324.0,54.3 L327.6,51.4 L331.3,48.9 L334.9,47.4 L338.5,46.6 L342.1,46.1 L345.7,45.9 L349.4,46.5 L353.0,48.1 L356.6,49.9 L360.2,52.4 L363.8,55.6 L367.5,59.1 L371.1,62.9 L374.7,67.2 L378.3,71.6 L381.9,76.2 L385.5,80.9 L389.2,85.5 L392.8,90.1 L396.4,94.7 L400.0,99.0 L403.6,103.2 L407.3,107.2 L410.9,111.0 L414.5,114.5 L418.1,117.8 L421.7,120.9 L425.3,123.8 L429.0,126.5 L432.6,129.1 L436.2,131.7 L439.8,134.1 L443.4,136.6 L447.1,139.1 L450.7,141.6 L454.3,144.2 L457.9,147.1 L461.5,150.1 L465.1,153.3 L468.8,156.7 L472.4,160.5 L476.0,164.5 L479.6,168.8 L483.2,173.4 L486.9,178.3 L490.5,183.5 L494.1,189.1 L497.7,194.9 L501.3,201.0 L504.9,207.4 L508.6,213.9 L512.2,220.7 L515.8,227.6 L519.4,234.6 L523.0,241.6 L526.7,248.7 L530.3,255.6 L533.9,262.4 L537.5,269.2 L541.1,275.7 L544.7,282.0 L548.4,288.1 L552.0,293.8 L555.6,299.3 L559.2,304.6 L562.8,309.5 L566.5,314.1 L570.1,318.5 L573.7,322.7 L577.3,326.6 L580.9,330.3 L584.5,333.9 L588.2,337.4 L591.8,340.8 L595.4,343.9 L599.0,346.9 L602.6,349.6 L606.3,351.9 L609.9,353.8 L613.5,355.4 L617.1,356.7 L620.7,357.5 L624.3,358.2 L628.0,358.8 L631.6,359.4 L635.2,359.8 L638.8,360.3 L642.4,360.8 L646.1,361.3 L649.7,361.9 L653.3,362.5 L656.9,363.2 L660.5,364.0 L664.1,364.7 L667.8,365.5 L671.4,366.3 L675.0,367.1"/>
<path d="M75.8,373.4 L79.5,373.1 L83.1,372.8 L86.7,372.5 L90.3,372.1 L93.9,371.7 L97.5,371.3 L101.2,370.9 L104.8,370.4 L108.4,370.0 L112.0,369.5 L115.6,369.0 L119.2,368.3 L122.9,367.5 L126.5,366.7 L130.1,365.6 L133.7,363.7 L137.3,360.7 L140.9,357.3 L144.5,353.8 L148.2,349.8 L151.8,345.4 L155.4,340.5 L159.0,335.2 L162.6,329.7 L166.2,323.9 L169.9,317.8 L173.5,311.6 L177.1,305.3 L180.7,298.9 L184.3,292.4 L187.9,286.0 L191.6,279.5 L195.2,272.9 L198.8,266.4 L202.4,259.9 L206.0,253.3 L209.6,246.7 L213.3,240.0 L216.9,233.3 L220.5,226.5 L224.1,219.6 L227.7,212.6 L231.3,205.4 L235.0,198.1 L238.6,190.6 L242.2,183.0 L245.8,175.3 L249.4,167.5 L253.0,159.7 L256.7,151.8 L260.3,144.1 L263.9,136.4 L267.5,128.9 L271.1,121.7 L274.7,114.7 L278.4,107.9 L282.0,101.5 L285.6,95.4 L289.2,89.7 L292.8,84.3 L296.4,79.3 L300.1,74.6 L303.7,70.4 L307.3,66.4 L310.9,62.8 L314.5,59.6 L318.1,56.7 L321.8,54.1 L325.4,52.0 L329.0,50.2 L332.6,48.7 L336.2,47.9 L339.8,47.7 L343.4,47.6 L347.1,47.6 L350.7,48.1 L354.3,49.6 L357.9,51.3 L361.5,53.3 L365.1,56.0 L368.8,58.8 L372.4,62.0 L376.0,65.5 L379.6,69.2 L383.2,73.0 L386.8,77.0 L390.5,81.0 L394.1,85.1 L397.7,89.2 L401.3,93.4 L404.9,97.5 L408.5,101.6 L412.2,105.7 L415.8,109.7 L419.4,113.7 L423.0,117.7 L426.6,121.7 L430.2,125.7 L433.9,129.7 L437.5,133.8 L441.1,137.8 L444.7,141.9 L448.3,146.1 L451.9,150.4 L455.6,154.8 L459.2,159.2 L462.8,163.8 L466.4,168.6 L470.0,173.4 L473.6,178.4 L477.3,183.6 L480.9,188.9 L484.5,194.4 L488.1,200.0 L491.7,205.8 L495.3,211.7 L499.0,217.8 L502.6,224.0 L506.2,230.3 L509.8,236.7 L513.4,243.1 L517.0,249.6 L520.7,256.1 L524.3,262.5 L527.9,268.8 L531.5,275.1 L535.1,281.2 L538.7,287.3 L542.3,293.1 L546.0,298.8 L549.6,304.2 L553.2,309.5 L556.8,314.4 L560.4,319.2 L564.0,323.7 L567.7,328.0 L571.3,332.0 L574.9,335.8 L578.5,339.4 L582.1,342.8 L585.7,346.0 L589.4,348.8 L593.0,351.5 L596.6,353.7 L600.2,355.7 L603.8,357.4 L607.4,358.9 L611.1,360.3 L614.7,361.5 L618.3,362.6 L621.9,363.6 L625.5,364.6 L629.1,365.6 L632.8,366.4 L636.4,367.2 L640.0,367.9 L643.6,368.6 L647.2,369.1 L650.8,369.6 L654.5,369.9 L658.1,370.3 L661.7,370.5 L665.3,370.8 L668.9,371.1 L672.5,371.3 L676.2,371.4 L679.8,371.6 L683.4,371.7 L687.0,371.7"/>
<path d="M76.5,378.1 L80.1,377.8 L83.7,377.4 L87.3,377.0 L90.9,376.6 L94.5,376.1 L98.1,375.7 L101.7,375.3 L105.3,374.8 L108.9,374.4 L112.5,373.9 L116.1,373.4 L119.7,372.7 L123.3,371.9 L126.9,371.0 L130.5,369.4 L134.1,366.9 L137.7,364.2 L141.3,361.2 L144.9,357.9 L148.5,354.1 L152.1,349.9 L155.7,345.1 L159.3,340.0 L162.9,334.6 L166.5,328.9 L170.1,322.9 L173.7,316.7 L177.3,310.3 L180.9,303.9 L184.5,297.3 L188.1,290.6 L191.7,283.8 L195.3,277.0 L198.9,270.1 L202.5,263.3 L206.1,256.4 L209.7,249.6 L213.3,242.8 L216.9,236.0 L220.5,229.3 L224.1,222.7 L227.7,216.0 L231.3,209.5 L234.9,202.9 L238.5,196.3 L242.1,189.8 L245.7,183.3 L249.3,176.7 L252.9,170.2 L256.5,163.7 L260.1,157.2 L263.7,150.7 L267.3,144.3 L270.9,138.0 L274.5,131.8 L278.1,125.8 L281.7,119.9 L285.3,114.2 L288.9,108.7 L292.5,103.4 L296.1,98.3 L299.7,93.6 L303.3,89.2 L306.9,85.1 L310.5,81.4 L314.1,78.0 L317.7,75.0 L321.2,72.4 L324.8,70.2 L328.4,68.2 L332.0,67.0 L335.6,66.3 L339.2,65.8 L342.8,65.6 L346.4,66.0 L350.0,66.8 L353.6,67.9 L357.2,69.3 L360.8,71.1 L364.4,73.2 L368.0,75.4 L371.6,77.7 L375.2,80.2 L378.8,82.6 L382.4,85.0 L386.0,87.4 L389.6,89.7 L393.2,91.9 L396.8,94.0 L400.4,96.0 L404.0,97.9 L407.6,99.7 L411.2,101.5 L414.8,103.3 L418.4,105.1 L422.0,107.0 L425.6,108.9 L429.2,111.0 L432.8,113.2 L436.4,115.7 L440.0,118.4 L443.6,121.4 L447.2,124.6 L450.8,128.2 L454.4,132.1 L458.0,136.3 L461.6,140.7 L465.2,145.5 L468.8,150.5 L472.4,155.8 L476.0,161.2 L479.6,166.9 L483.2,172.7 L486.8,178.6 L490.4,184.6 L494.0,190.7 L497.6,196.9 L501.2,203.1 L504.8,209.2 L508.4,215.4 L512.0,221.6 L515.6,227.7 L519.2,233.8 L522.8,239.8 L526.4,245.8 L530.0,251.7 L533.6,257.5 L537.2,263.2 L540.8,268.8 L544.4,274.3 L548.0,279.7 L551.6,285.0 L555.2,290.2 L558.8,295.2 L562.4,300.1 L566.0,304.8 L569.6,309.5 L573.2,314.0 L576.8,318.3 L580.4,322.6 L584.0,326.8 L587.6,330.9 L591.2,334.8 L594.8,338.6 L598.4,342.2 L602.0,345.7 L605.6,349.1 L609.2,352.5 L612.8,355.4 L616.4,357.9 L620.0,360.2 L623.6,362.0 L627.2,363.4 L630.8,364.5 L634.4,365.5 L638.0,366.4 L641.6,367.3 L645.2,368.1 L648.8,368.8 L652.4,369.4 L656.0,370.0 L659.6,370.7 L663.2,371.3 L666.8,371.8 L670.4,372.4 L674.0,372.8 L677.6,373.3 L681.2,373.7 L684.8,374.1"/>
<path d="M72.5,373.7 L76.0,373.4 L79.5,373.1 L83.0,372.7 L86.5,372.3 L90.0,371.9 L93.5,371.5 L97.0,371.1 L100.5,370.8 L104.0,370.4 L107.5,370.1 L111.0,369.7 L114.5,369.3 L118.0,368.9 L121.5,368.3 L124.9,367.7 L128.4,367.0 L131.9,366.1 L135.4,364.4 L138.9,361.7 L142.4,358.8 L145.9,355.8 L149.4,352.5 L152.9,349.0 L156.4,345.3 L159.9,341.2 L163.4,337.1 L166.9,332.7 L170.4,328.2 L173.9,323.6 L177.4,319.0 L180.9,314.2 L184.4,309.4 L187.9,304.4 L191.4,299.3 L194.9,294.1 L198.4,288.8 L201.9,283.3 L205.4,277.7 L208.9,271.9 L212.4,266.0 L215.9,259.9 L219.4,253.6 L222.9,247.2 L226.3,240.7 L229.8,233.9 L233.3,227.0 L236.8,220.0 L240.3,212.8 L243.8,205.5 L247.3,198.2 L250.8,190.7 L254.3,183.2 L257.8,175.8 L261.3,168.5 L264.8,161.2 L268.3,154.1 L271.8,147.2 L275.3,140.5 L278.8,134.2 L282.3,128.2 L285.8,122.5 L289.3,117.2 L292.8,112.3 L296.3,107.8 L299.8,103.8 L303.3,100.2 L306.8,96.9 L310.3,94.1 L313.8,91.6 L317.3,89.5 L320.8,87.7 L324.3,86.2 L327.7,84.9 L331.2,83.9 L334.7,83.0 L338.2,82.4 L341.7,81.9 L345.2,81.7 L348.7,81.5 L352.2,81.4 L355.7,81.4 L359.2,81.6 L362.7,81.8 L366.2,82.2 L369.7,82.7 L373.2,83.4 L376.7,84.2 L380.2,85.2 L383.7,86.3 L387.2,87.6 L390.7,89.1 L394.2,90.9 L397.7,92.8 L401.2,95.1 L404.7,97.5 L408.2,100.2 L411.7,103.1 L415.2,106.2 L418.7,109.4 L422.2,112.9 L425.7,116.4 L429.2,120.0 L432.6,123.6 L436.1,127.3 L439.6,131.0 L443.1,134.7 L446.6,138.4 L450.1,142.0 L453.6,145.6 L457.1,149.2 L460.6,152.8 L464.1,156.3 L467.6,159.9 L471.1,163.5 L474.6,167.1 L478.1,170.8 L481.6,174.6 L485.1,178.5 L488.6,182.4 L492.1,186.5 L495.6,190.7 L499.1,195.1 L502.6,199.6 L506.1,204.3 L509.6,209.1 L513.1,214.0 L516.6,219.1 L520.1,224.2 L523.6,229.5 L527.1,234.8 L530.6,240.2 L534.0,245.6 L537.5,251.1 L541.0,256.6 L544.5,262.0 L548.0,267.4 L551.5,272.7 L555.0,278.0 L558.5,283.1 L562.0,288.2 L565.5,293.1 L569.0,297.9 L572.5,302.6 L576.0,307.2 L579.5,311.7 L583.0,316.0 L586.5,320.3 L590.0,324.5 L593.5,328.1 L597.0,331.0 L600.5,333.6 L604.0,335.6 L607.5,337.1 L611.0,338.3 L614.5,339.3 L618.0,340.3 L621.5,341.2 L625.0,341.9 L628.5,342.7 L632.0,343.4 L635.4,344.0 L638.9,344.7 L642.4,345.4 L645.9,346.0 L649.4,346.6 L652.9,347.1 L656.4,347.7 L659.9,348.2 L663.4,348.6"/>
<path d="M64.3,381.1 L67.9,381.0 L71.5,380.9 L75.0,380.8 L78.6,380.6 L82.2,380.4 L85.8,380.1 L89.4,379.9 L92.9,379.6 L96.5,379.3 L100.1,379.0 L103.7,378.6 L107.3,378.2 L110.8,377.7 L114.4,377.2 L118.0,376.5 L121.6,375.8 L125.2,375.1 L128.7,374.2 L132.3,373.2 L135.9,371.5 L139.5,369.0 L143.1,366.2 L146.6,363.2 L150.2,359.8 L153.8,356.1 L157.4,352.1 L161.0,347.8 L164.5,343.2 L168.1,338.5 L171.7,333.5 L175.3,328.4 L178.9,323.1 L182.4,317.7 L186.0,312.1 L189.6,306.4 L193.2,300.5 L196.8,294.4 L200.3,288.0 L203.9,281.5 L207.5,274.8 L211.1,267.8 L214.7,260.7 L218.2,253.4 L221.8,245.9 L225.4,238.3 L229.0,230.5 L232.6,222.6 L236.1,214.5 L239.7,206.4 L243.3,198.2 L246.9,190.0 L250.5,181.8 L254.0,173.7 L257.6,165.6 L261.2,157.7 L264.8,150.0 L268.4,142.5 L271.9,135.2 L275.5,128.3 L279.1,121.6 L282.7,115.4 L286.3,109.5 L289.8,103.9 L293.4,98.7 L297.0,94.0 L300.6,89.5 L304.2,85.5 L307.8,81.9 L311.3,78.6 L314.9,75.8 L318.5,73.2 L322.1,71.0 L325.7,69.2 L329.2,67.6 L332.8,66.3 L336.4,65.4 L340.0,64.9 L343.6,64.6 L347.1,64.5 L350.7,64.7 L354.3,65.1 L357.9,65.7 L361.5,66.6 L365.0,67.7 L368.6,69.0 L372.2,70.4 L375.8,72.0 L379.4,73.6 L382.9,75.4 L386.5,77.2 L390.1,79.2 L393.7,81.3 L397.3,83.5 L400.8,85.8 L404.4,88.3 L408.0,91.0 L411.6,93.8 L415.2,96.7 L418.7,99.8 L422.3,103.1 L425.9,106.5 L429.5,110.1 L433.1,113.8 L436.6,117.7 L440.2,121.7 L443.8,125.8 L447.4,130.1 L451.0,134.5 L454.5,139.0 L458.1,143.6 L461.7,148.4 L465.3,153.3 L468.9,158.4 L472.4,163.6 L476.0,168.9 L479.6,174.4 L483.2,179.9 L486.8,185.6 L490.3,191.3 L493.9,197.2 L497.5,203.1 L501.1,209.0 L504.7,215.0 L508.2,221.1 L511.8,227.1 L515.4,233.2 L519.0,239.2 L522.6,245.3 L526.1,251.3 L529.7,257.2 L533.3,263.1 L536.9,269.0 L540.5,274.7 L544.0,280.4 L547.6,285.9 L551.2,291.3 L554.8,296.5 L558.4,301.6 L561.9,306.4 L565.5,311.1 L569.1,315.5 L572.7,319.8 L576.3,323.8 L579.8,327.6 L583.4,331.2 L587.0,334.7 L590.6,338.0 L594.2,340.9 L597.7,343.7 L601.3,346.3 L604.9,348.3 L608.5,349.9 L612.1,351.1 L615.6,352.2 L619.2,353.3 L622.8,354.2 L626.4,355.0 L630.0,355.8 L633.5,356.5 L637.1,357.2 L640.7,357.8 L644.3,358.4 L647.9,358.9 L651.4,359.4 L655.0,359.9 L658.6,360.4 L662.2,360.8 L665.8,361.1 L669.3,361.4"/>
<path d="M90.0,369.1 L93.5,368.5 L96.9,368.0 L100.4,367.5 L103.8,366.9 L107.2,366.4 L110.7,365.9 L114.1,365.4 L117.5,365.0 L121.0,364.7 L124.4,364.3 L127.8,363.9 L131.3,363.4 L134.7,362.8 L138.1,362.1 L141.6,361.1 L145.0,358.8 L148.5,354.9 L151.9,350.6 L155.3,346.2 L158.8,341.3 L162.2,336.2 L165.6,330.7 L169.1,324.9 L172.5,318.8 L175.9,312.5 L179.4,306.0 L182.8,299.4 L186.2,292.7 L189.7,285.8 L193.1,278.9 L196.5,271.9 L200.0,265.0 L203.4,258.0 L206.9,251.2 L210.3,244.4 L213.7,237.7 L217.2,231.1 L220.6,224.6 L224.0,218.3 L227.5,212.1 L230.9,206.0 L234.3,200.0 L237.8,194.0 L241.2,188.1 L244.6,182.1 L248.1,176.2 L251.5,170.3 L255.0,164.4 L258.4,158.4 L261.8,152.5 L265.3,146.5 L268.7,140.5 L272.1,134.5 L275.6,128.6 L279.0,122.7 L282.4,116.8 L285.9,111.1 L289.3,105.4 L292.7,99.9 L296.2,94.6 L299.6,89.5 L303.1,84.6 L306.5,79.9 L309.9,75.6 L313.4,71.5 L316.8,67.7 L320.2,64.3 L323.7,61.1 L327.1,58.4 L330.5,56.0 L334.0,53.9 L337.4,52.6 L340.8,51.9 L344.3,51.3 L347.7,51.1 L351.1,51.6 L354.6,52.6 L358.0,54.0 L361.5,55.9 L364.9,58.5 L368.3,61.5 L371.8,64.8 L375.2,68.6 L378.6,72.6 L382.1,76.8 L385.5,81.3 L388.9,86.0 L392.4,90.7 L395.8,95.6 L399.2,100.4 L402.7,105.2 L406.1,110.0 L409.6,114.6 L413.0,119.1 L416.4,123.5 L419.9,127.6 L423.3,131.6 L426.7,135.4 L430.2,139.0 L433.6,142.5 L437.0,145.8 L440.5,149.0 L443.9,152.1 L447.3,155.1 L450.8,158.1 L454.2,161.1 L457.7,164.2 L461.1,167.3 L464.5,170.6 L468.0,173.9 L471.4,177.5 L474.8,181.2 L478.3,185.1 L481.7,189.2 L485.1,193.5 L488.6,198.1 L492.0,202.9 L495.4,207.8 L498.9,213.0 L502.3,218.3 L505.8,223.8 L509.2,229.4 L512.6,235.2 L516.1,240.9 L519.5,246.8 L522.9,252.6 L526.4,258.3 L529.8,264.0 L533.2,269.6 L536.7,275.1 L540.1,280.4 L543.5,285.5 L547.0,290.5 L550.4,295.2 L553.8,299.7 L557.3,304.0 L560.7,308.1 L564.2,311.9 L567.6,315.5 L571.0,319.0 L574.5,322.2 L577.9,325.3 L581.3,328.3 L584.8,331.2 L588.2,334.0 L591.6,336.6 L595.1,339.0 L598.5,341.2 L601.9,343.3 L605.4,345.1 L608.8,346.8 L612.3,348.3 L615.7,349.6 L619.1,350.8 L622.6,351.9 L626.0,352.9 L629.4,353.9 L632.9,354.8 L636.3,355.7 L639.7,356.5 L643.2,357.3 L646.6,358.0 L650.0,358.7 L653.5,359.4 L656.9,360.0 L660.4,360.6 L663.8,361.1 L667.2,361.6 L670.7,362.0"/>
<path d="M82.4,372.1 L85.8,371.6 L89.2,371.0 L92.6,370.5 L96.0,369.9 L99.4,369.4 L102.8,368.9 L106.2,368.5 L109.6,368.1 L113.0,367.8 L116.4,367.4 L119.8,366.9 L123.3,366.4 L126.7,365.7 L130.1,364.9 L133.5,362.9 L136.9,359.8 L140.3,356.4 L143.7,353.1 L147.1,349.5 L150.5,345.7 L153.9,341.6 L157.3,337.3 L160.7,332.8 L164.1,328.2 L167.5,323.4 L170.9,318.6 L174.3,313.8 L177.7,309.0 L181.1,304.1 L184.5,299.3 L188.0,294.4 L191.4,289.5 L194.8,284.5 L198.2,279.4 L201.6,274.2 L205.0,268.9 L208.4,263.4 L211.8,257.8 L215.2,252.0 L218.6,246.0 L222.0,239.9 L225.4,233.5 L228.8,226.9 L232.2,220.1 L235.6,213.2 L239.0,206.0 L242.4,198.7 L245.8,191.3 L249.2,183.8 L252.7,176.3 L256.1,168.8 L259.5,161.3 L262.9,154.0 L266.3,146.8 L269.7,139.8 L273.1,133.0 L276.5,126.5 L279.9,120.2 L283.3,114.3 L286.7,108.8 L290.1,103.6 L293.5,98.8 L296.9,94.3 L300.3,90.2 L303.7,86.6 L307.1,83.4 L310.5,80.5 L313.9,78.1 L317.4,76.0 L320.8,74.3 L324.2,72.9 L327.6,71.9 L331.0,71.0 L334.4,70.5 L337.8,70.3 L341.2,70.2 L344.6,70.2 L348.0,70.3 L351.4,70.6 L354.8,71.0 L358.2,71.4 L361.6,72.0 L365.0,72.6 L368.4,73.3 L371.8,74.0 L375.2,74.7 L378.6,75.6 L382.1,76.5 L385.5,77.6 L388.9,78.8 L392.3,80.3 L395.7,81.9 L399.1,83.8 L402.5,86.0 L405.9,88.5 L409.3,91.3 L412.7,94.4 L416.1,97.8 L419.5,101.5 L422.9,105.5 L426.3,109.7 L429.7,114.2 L433.1,118.9 L436.5,123.8 L439.9,128.8 L443.3,133.9 L446.8,139.1 L450.2,144.4 L453.6,149.7 L457.0,155.0 L460.4,160.3 L463.8,165.6 L467.2,170.8 L470.6,175.9 L474.0,181.0 L477.4,186.0 L480.8,191.0 L484.2,195.9 L487.6,200.9 L491.0,205.9 L494.4,210.9 L497.8,215.9 L501.2,221.0 L504.6,226.2 L508.0,231.4 L511.4,236.7 L514.9,242.0 L518.3,247.3 L521.7,252.6 L525.1,257.9 L528.5,263.1 L531.9,268.2 L535.3,273.2 L538.7,278.1 L542.1,282.8 L545.5,287.3 L548.9,291.6 L552.3,295.7 L555.7,299.7 L559.1,303.4 L562.5,306.9 L565.9,310.3 L569.3,313.5 L572.7,316.5 L576.1,319.4 L579.6,322.3 L583.0,325.5 L586.4,328.6 L589.8,330.9 L593.2,332.3 L596.6,333.3 L600.0,334.2 L603.4,334.9 L606.8,335.6 L610.2,336.1 L613.6,336.6 L617.0,337.1 L620.4,337.6 L623.8,338.0 L627.2,338.5 L630.6,339.1 L634.0,339.7 L637.4,340.3 L640.8,341.0 L644.3,341.7 L647.7,342.3 L651.1,343.0 L654.5,343.7 L657.9,344.4"/>
<path d="M115.8,352.3 L119.1,351.9 L122.3,351.5 L125.6,351.0 L128.9,350.5 L132.2,350.0 L135.4,349.5 L138.7,348.9 L142.0,348.1 L145.3,346.9 L148.5,343.9 L151.8,339.8 L155.1,335.7 L158.4,331.7 L161.6,327.5 L164.9,323.2 L168.2,318.8 L171.5,314.3 L174.7,309.7 L178.0,305.2 L181.3,300.7 L184.5,296.2 L187.8,291.7 L191.1,287.2 L194.4,282.7 L197.6,278.2 L200.9,273.7 L204.2,269.1 L207.5,264.6 L210.7,260.0 L214.0,255.4 L217.3,250.8 L220.6,246.0 L223.8,241.2 L227.1,236.3 L230.4,231.3 L233.7,226.1 L236.9,220.8 L240.2,215.3 L243.5,209.7 L246.8,203.9 L250.0,197.9 L253.3,191.8 L256.6,185.6 L259.8,179.2 L263.1,172.7 L266.4,166.1 L269.7,159.4 L272.9,152.6 L276.2,145.8 L279.5,139.0 L282.8,132.3 L286.0,125.6 L289.3,118.9 L292.6,112.5 L295.9,106.2 L299.1,100.2 L302.4,94.4 L305.7,89.0 L309.0,83.9 L312.2,79.3 L315.5,75.2 L318.8,71.4 L322.0,68.3 L325.3,65.7 L328.6,63.4 L331.9,62.3 L335.1,62.1 L338.4,62.1 L341.7,62.0 L345.0,62.7 L348.2,64.3 L351.5,66.2 L354.8,68.4 L358.1,71.2 L361.3,74.2 L364.6,77.3 L367.9,80.7 L371.2,84.1 L374.4,87.4 L377.7,90.8 L381.0,93.9 L384.3,96.9 L387.5,99.8 L390.8,102.4 L394.1,104.8 L397.3,107.1 L400.6,109.1 L403.9,111.0 L407.2,112.7 L410.4,114.4 L413.7,116.0 L417.0,117.5 L420.3,119.1 L423.5,120.7 L426.8,122.3 L430.1,124.1 L433.4,126.0 L436.6,128.0 L439.9,130.2 L443.2,132.5 L446.5,135.1 L449.7,137.7 L453.0,140.6 L456.3,143.6 L459.5,146.8 L462.8,150.2 L466.1,153.7 L469.4,157.4 L472.6,161.2 L475.9,165.2 L479.2,169.4 L482.5,173.7 L485.7,178.2 L489.0,182.9 L492.3,187.8 L495.6,192.8 L498.8,198.0 L502.1,203.3 L505.4,208.8 L508.7,214.3 L511.9,220.0 L515.2,225.7 L518.5,231.5 L521.8,237.2 L525.0,243.0 L528.3,248.7 L531.6,254.4 L534.8,259.9 L538.1,265.4 L541.4,270.7 L544.7,275.9 L547.9,280.9 L551.2,285.7 L554.5,290.4 L557.8,295.0 L561.0,299.3 L564.3,303.5 L567.6,307.5 L570.9,311.4 L574.1,315.1 L577.4,318.7 L580.7,322.3 L584.0,325.8 L587.2,329.1 L590.5,332.3 L593.8,335.3 L597.0,338.2 L600.3,341.1 L603.6,343.7 L606.9,346.1 L610.1,348.0 L613.4,349.6 L616.7,351.2 L620.0,352.6 L623.2,353.8 L626.5,355.0 L629.8,356.1 L633.1,357.1 L636.3,358.0 L639.6,358.8 L642.9,359.6 L646.2,360.2 L649.4,360.8 L652.7,361.3 L656.0,361.7 L659.3,362.1 L662.5,362.5 L665.8,362.7 L669.1,363.0"/>
<path d="M47.4,391.4 L51.2,390.7 L54.9,390.1 L58.6,389.5 L62.4,389.0 L66.1,388.4 L69.8,387.9 L73.6,387.4 L77.3,387.0 L81.0,386.7 L84.8,386.4 L88.5,386.1 L92.3,385.9 L96.0,385.6 L99.7,385.3 L103.5,385.0 L107.2,384.7 L110.9,384.2 L114.7,383.7 L118.4,383.0 L122.1,381.8 L125.9,379.6 L129.6,377.3 L133.3,374.7 L137.1,371.6 L140.8,368.2 L144.6,364.4 L148.3,360.0 L152.0,355.4 L155.8,350.2 L159.5,344.7 L163.2,339.0 L167.0,333.1 L170.7,327.0 L174.4,320.9 L178.2,314.9 L181.9,308.9 L185.7,303.0 L189.4,297.2 L193.1,291.5 L196.9,285.9 L200.6,280.4 L204.3,275.0 L208.1,269.6 L211.8,264.3 L215.5,259.0 L219.3,253.6 L223.0,248.1 L226.7,242.5 L230.5,236.7 L234.2,230.6 L238.0,224.3 L241.7,217.7 L245.4,210.8 L249.2,203.6 L252.9,196.1 L256.6,188.3 L260.4,180.3 L264.1,172.2 L267.8,164.0 L271.6,155.6 L275.3,147.4 L279.1,139.1 L282.8,130.9 L286.5,122.9 L290.3,115.2 L294.0,107.7 L297.7,100.5 L301.5,93.6 L305.2,87.0 L308.9,80.8 L312.7,75.0 L316.4,69.6 L320.1,64.7 L323.9,60.3 L327.6,56.2 L331.4,52.8 L335.1,49.8 L338.8,47.2 L342.6,45.5 L346.3,44.5 L350.0,43.7 L353.8,43.5 L357.5,43.9 L361.2,45.0 L365.0,46.3 L368.7,48.1 L372.5,50.6 L376.2,53.2 L379.9,56.1 L383.7,59.3 L387.4,62.7 L391.1,66.1 L394.9,69.8 L398.6,73.5 L402.3,77.2 L406.1,81.1 L409.8,84.9 L413.5,88.9 L417.3,92.8 L421.0,96.8 L424.8,100.9 L428.5,104.9 L432.2,109.1 L436.0,113.3 L439.7,117.5 L443.4,121.8 L447.2,126.2 L450.9,130.6 L454.6,135.2 L458.4,139.8 L462.1,144.4 L465.9,149.2 L469.6,154.1 L473.3,159.1 L477.1,164.3 L480.8,169.6 L484.5,175.0 L488.3,180.6 L492.0,186.4 L495.7,192.4 L499.5,198.5 L503.2,204.9 L506.9,211.4 L510.7,218.1 L514.4,224.9 L518.2,231.8 L521.9,238.8 L525.6,245.8 L529.4,252.8 L533.1,259.6 L536.8,266.4 L540.6,273.1 L544.3,279.6 L548.0,285.8 L551.8,291.9 L555.5,297.6 L559.3,303.2 L563.0,308.4 L566.7,313.5 L570.5,318.3 L574.2,322.8 L577.9,327.2 L581.7,331.4 L585.4,335.4 L589.1,339.3 L592.9,343.2 L596.6,347.1 L600.3,350.3 L604.1,352.8 L607.8,355.0 L611.6,356.8 L615.3,358.4 L619.0,359.7 L622.8,361.0 L626.5,362.1 L630.2,363.2 L634.0,364.1 L637.7,364.9 L641.4,365.7 L645.2,366.3 L648.9,366.7 L652.7,367.1 L656.4,367.5 L660.1,367.8 L663.9,368.1 L667.6,368.3 L671.3,368.4 L675.1,368.5 L678.8,368.6"/>
<path d="M55.3,387.3 L59.0,387.3 L62.7,387.2 L66.4,387.1 L70.1,387.0 L73.8,386.8 L77.5,386.6 L81.2,386.4 L84.9,386.1 L88.6,385.7 L92.3,385.2 L96.0,384.6 L99.7,384.0 L103.4,383.2 L107.1,382.4 L110.8,381.5 L114.5,380.5 L118.2,379.5 L121.9,378.1 L125.6,376.3 L129.3,374.2 L133.0,371.9 L136.7,369.2 L140.4,366.2 L144.1,362.7 L147.8,358.8 L151.5,354.4 L155.2,349.6 L158.9,344.3 L162.6,338.8 L166.3,333.0 L170.0,326.9 L173.7,320.6 L177.4,314.3 L181.1,307.8 L184.8,301.3 L188.5,294.6 L192.2,287.9 L195.9,281.2 L199.6,274.4 L203.3,267.5 L207.0,260.6 L210.7,253.6 L214.4,246.7 L218.1,239.7 L221.8,232.7 L225.5,225.7 L229.3,218.8 L233.0,211.8 L236.7,204.9 L240.4,198.1 L244.1,191.3 L247.8,184.6 L251.5,178.0 L255.2,171.5 L258.9,165.2 L262.6,159.0 L266.3,153.0 L270.0,147.2 L273.7,141.5 L277.4,136.0 L281.1,130.7 L284.8,125.5 L288.5,120.5 L292.2,115.6 L295.9,110.9 L299.6,106.3 L303.3,101.8 L307.0,97.4 L310.7,93.2 L314.4,89.1 L318.1,85.1 L321.8,81.3 L325.5,77.6 L329.2,74.1 L332.9,70.8 L336.6,67.7 L340.3,65.0 L344.0,62.6 L347.7,60.4 L351.4,58.7 L355.1,57.5 L358.8,56.5 L362.5,56.1 L366.2,56.2 L369.9,56.4 L373.6,56.7 L377.3,57.5 L381.0,59.0 L384.7,60.6 L388.4,62.4 L392.1,64.5 L395.8,66.9 L399.5,69.5 L403.2,72.3 L406.9,75.4 L410.6,78.7 L414.4,82.3 L418.1,86.1 L421.8,90.1 L425.5,94.4 L429.2,99.0 L432.9,103.7 L436.6,108.8 L440.3,114.0 L444.0,119.4 L447.7,125.1 L451.4,130.9 L455.1,136.8 L458.8,142.9 L462.5,149.1 L466.2,155.4 L469.9,161.7 L473.6,168.1 L477.3,174.5 L481.0,180.9 L484.7,187.3 L488.4,193.6 L492.1,200.0 L495.8,206.3 L499.5,212.5 L503.2,218.8 L506.9,224.9 L510.6,231.0 L514.3,237.1 L518.0,243.0 L521.7,248.9 L525.4,254.7 L529.1,260.3 L532.8,265.9 L536.5,271.3 L540.2,276.6 L543.9,281.8 L547.6,286.8 L551.3,291.7 L555.0,296.5 L558.7,301.2 L562.4,305.7 L566.1,310.0 L569.8,314.3 L573.5,318.4 L577.2,322.4 L580.9,326.3 L584.6,330.1 L588.3,333.9 L592.0,337.5 L595.7,340.9 L599.5,344.1 L603.2,347.1 L606.9,349.9 L610.6,352.6 L614.3,355.2 L618.0,357.2 L621.7,358.9 L625.4,360.3 L629.1,361.5 L632.8,362.5 L636.5,363.5 L640.2,364.3 L643.9,365.1 L647.6,365.9 L651.3,366.6 L655.0,367.2 L658.7,367.8 L662.4,368.4 L666.1,368.9 L669.8,369.5 L673.5,369.9 L677.2,370.4 L680.9,370.8"/>
<path d="M60.4,385.5 L63.9,384.9 L67.5,384.4 L71.0,383.9 L74.6,383.4 L78.1,382.8 L81.7,382.4 L85.2,381.9 L88.8,381.5 L92.3,381.1 L95.9,380.8 L99.4,380.5 L103.0,380.2 L106.5,379.8 L110.1,379.4 L113.7,378.9 L117.2,378.3 L120.8,377.6 L124.3,376.2 L127.9,374.0 L131.4,371.6 L135.0,369.2 L138.5,366.4 L142.1,363.4 L145.6,360.0 L149.2,356.2 L152.7,352.1 L156.3,347.6 L159.8,342.8 L163.4,337.8 L166.9,332.6 L170.5,327.2 L174.1,321.6 L177.6,316.0 L181.2,310.3 L184.7,304.4 L188.3,298.6 L191.8,292.6 L195.4,286.6 L198.9,280.6 L202.5,274.5 L206.0,268.4 L209.6,262.3 L213.1,256.2 L216.7,250.0 L220.2,243.9 L223.8,237.7 L227.4,231.6 L230.9,225.4 L234.5,219.2 L238.0,213.0 L241.6,206.8 L245.1,200.5 L248.7,194.2 L252.2,187.9 L255.8,181.5 L259.3,175.1 L262.9,168.8 L266.4,162.4 L270.0,156.1 L273.5,149.8 L277.1,143.5 L280.7,137.3 L284.2,131.2 L287.8,125.2 L291.3,119.3 L294.9,113.6 L298.4,108.0 L302.0,102.6 L305.5,97.3 L309.1,92.3 L312.6,87.6 L316.2,83.1 L319.7,78.9 L323.3,75.1 L326.8,71.5 L330.4,68.3 L334.0,65.6 L337.5,63.2 L341.1,61.2 L344.6,59.8 L348.2,59.0 L351.7,58.3 L355.3,58.1 L358.8,58.3 L362.4,58.8 L365.9,59.5 L369.5,60.6 L373.0,62.1 L376.6,63.8 L380.1,65.6 L383.7,67.6 L387.2,69.7 L390.8,71.9 L394.4,74.2 L397.9,76.5 L401.5,78.9 L405.0,81.3 L408.6,83.8 L412.1,86.4 L415.7,89.0 L419.2,91.8 L422.8,94.7 L426.3,97.7 L429.9,100.9 L433.4,104.2 L437.0,107.8 L440.5,111.6 L444.1,115.6 L447.7,119.9 L451.2,124.3 L454.8,129.1 L458.3,134.1 L461.9,139.3 L465.4,144.7 L469.0,150.3 L472.5,156.1 L476.1,162.0 L479.6,168.2 L483.2,174.4 L486.7,180.7 L490.3,187.2 L493.8,193.7 L497.4,200.2 L501.0,206.9 L504.5,213.5 L508.1,220.1 L511.6,226.7 L515.2,233.2 L518.7,239.6 L522.3,246.0 L525.8,252.2 L529.4,258.3 L532.9,264.2 L536.5,269.9 L540.0,275.4 L543.6,280.7 L547.1,285.7 L550.7,290.5 L554.3,295.1 L557.8,299.4 L561.4,303.4 L564.9,307.3 L568.5,310.9 L572.0,314.4 L575.6,317.6 L579.1,320.8 L582.7,324.2 L586.2,327.5 L589.8,330.1 L593.3,332.1 L596.9,333.7 L600.4,334.9 L604.0,335.8 L607.5,336.5 L611.1,337.1 L614.7,337.6 L618.2,338.1 L621.8,338.6 L625.3,339.0 L628.9,339.5 L632.4,339.9 L636.0,340.4 L639.5,340.9 L643.1,341.4 L646.6,341.9 L650.2,342.4 L653.7,342.8 L657.3,343.3 L660.8,343.7"/>
<path d="M76.7,372.9 L80.2,372.5 L83.7,372.0 L87.1,371.6 L90.6,371.1 L94.1,370.7 L97.5,370.2 L101.0,369.7 L104.5,369.4 L107.9,369.0 L111.4,368.6 L114.9,368.3 L118.3,367.8 L121.8,367.3 L125.3,366.7 L128.7,366.0 L132.2,365.1 L135.7,363.2 L139.1,360.0 L142.6,356.6 L146.1,353.1 L149.5,349.2 L153.0,344.9 L156.4,340.3 L159.9,335.3 L163.4,330.1 L166.8,324.6 L170.3,318.9 L173.8,313.1 L177.2,307.2 L180.7,301.1 L184.2,295.0 L187.6,288.8 L191.1,282.6 L194.6,276.3 L198.0,270.0 L201.5,263.6 L205.0,257.3 L208.4,251.0 L211.9,244.7 L215.4,238.4 L218.8,232.1 L222.3,225.9 L225.8,219.7 L229.2,213.5 L232.7,207.3 L236.2,201.1 L239.6,194.9 L243.1,188.7 L246.5,182.5 L250.0,176.2 L253.5,170.0 L256.9,163.7 L260.4,157.4 L263.9,151.2 L267.3,145.0 L270.8,138.8 L274.3,132.8 L277.7,126.8 L281.2,120.9 L284.7,115.2 L288.1,109.6 L291.6,104.2 L295.1,98.9 L298.5,93.8 L302.0,88.9 L305.5,84.2 L308.9,79.7 L312.4,75.5 L315.9,71.4 L319.3,67.7 L322.8,64.3 L326.3,61.1 L329.7,58.3 L333.2,55.8 L336.6,53.6 L340.1,52.0 L343.6,50.8 L347.0,49.9 L350.5,49.5 L354.0,49.7 L357.4,50.2 L360.9,50.8 L364.4,51.9 L367.8,53.7 L371.3,55.6 L374.8,57.8 L378.2,60.2 L381.7,62.9 L385.2,65.7 L388.6,68.7 L392.1,71.9 L395.6,75.2 L399.0,78.6 L402.5,82.2 L406.0,86.0 L409.4,89.9 L412.9,93.9 L416.4,98.0 L419.8,102.3 L423.3,106.7 L426.7,111.2 L430.2,115.8 L433.7,120.4 L437.1,125.1 L440.6,129.9 L444.1,134.8 L447.5,139.6 L451.0,144.6 L454.5,149.5 L457.9,154.5 L461.4,159.5 L464.9,164.6 L468.3,169.8 L471.8,175.0 L475.3,180.3 L478.7,185.7 L482.2,191.1 L485.7,196.7 L489.1,202.4 L492.6,208.3 L496.1,214.2 L499.5,220.3 L503.0,226.4 L506.5,232.7 L509.9,238.9 L513.4,245.3 L516.8,251.5 L520.3,257.8 L523.8,264.0 L527.2,270.0 L530.7,275.9 L534.2,281.6 L537.6,287.0 L541.1,292.2 L544.6,297.1 L548.0,301.7 L551.5,306.0 L555.0,310.1 L558.4,313.8 L561.9,317.2 L565.4,320.4 L568.8,323.4 L572.3,326.1 L575.8,328.7 L579.2,331.1 L582.7,333.3 L586.2,335.3 L589.6,336.9 L593.1,338.0 L596.6,339.0 L600.0,339.9 L603.5,340.7 L606.9,341.5 L610.4,342.2 L613.9,342.8 L617.3,343.4 L620.8,344.0 L624.3,344.5 L627.7,345.0 L631.2,345.5 L634.7,346.0 L638.1,346.5 L641.6,347.0 L645.1,347.4 L648.5,347.8 L652.0,348.2 L655.5,348.6 L658.9,348.9 L662.4,349.2"/>
<path d="M75.3,375.2 L78.7,374.7 L82.2,374.2 L85.7,373.7 L89.2,373.2 L92.7,372.7 L96.2,372.2 L99.7,371.8 L103.2,371.4 L106.7,371.1 L110.2,370.8 L113.7,370.5 L117.2,370.2 L120.7,370.0 L124.1,369.6 L127.6,369.2 L131.1,368.7 L134.6,368.1 L138.1,367.4 L141.6,365.5 L145.1,362.4 L148.6,358.9 L152.1,355.2 L155.6,351.0 L159.1,346.4 L162.6,341.6 L166.0,336.3 L169.5,330.8 L173.0,325.1 L176.5,319.1 L180.0,313.0 L183.5,306.8 L187.0,300.5 L190.5,294.0 L194.0,287.5 L197.5,280.9 L201.0,274.3 L204.5,267.7 L208.0,261.1 L211.4,254.5 L214.9,247.9 L218.4,241.4 L221.9,234.9 L225.4,228.4 L228.9,222.0 L232.4,215.6 L235.9,209.2 L239.4,202.8 L242.9,196.4 L246.4,190.0 L249.9,183.6 L253.3,177.3 L256.8,171.0 L260.3,164.7 L263.8,158.5 L267.3,152.3 L270.8,146.3 L274.3,140.4 L277.8,134.7 L281.3,129.1 L284.8,123.8 L288.3,118.8 L291.8,113.9 L295.3,109.4 L298.7,105.1 L302.2,101.1 L305.7,97.4 L309.2,94.0 L312.7,90.8 L316.2,88.0 L319.7,85.5 L323.2,83.2 L326.7,81.3 L330.2,79.5 L333.7,78.1 L337.2,77.1 L340.6,76.6 L344.1,76.2 L347.6,76.1 L351.1,76.4 L354.6,77.0 L358.1,77.8 L361.6,79.0 L365.1,80.7 L368.6,82.6 L372.1,84.7 L375.6,87.1 L379.1,89.6 L382.6,92.2 L386.0,94.9 L389.5,97.5 L393.0,100.2 L396.5,102.8 L400.0,105.3 L403.5,107.6 L407.0,109.9 L410.5,112.1 L414.0,114.0 L417.5,115.9 L421.0,117.6 L424.5,119.2 L427.9,120.6 L431.4,122.1 L434.9,123.6 L438.4,125.0 L441.9,126.6 L445.4,128.2 L448.9,130.0 L452.4,132.0 L455.9,134.2 L459.4,136.7 L462.9,139.5 L466.4,142.6 L469.9,146.1 L473.3,149.9 L476.8,154.1 L480.3,158.7 L483.8,163.6 L487.3,168.9 L490.8,174.5 L494.3,180.4 L497.8,186.6 L501.3,193.1 L504.8,199.7 L508.3,206.4 L511.8,213.4 L515.2,220.3 L518.7,227.2 L522.2,234.2 L525.7,241.1 L529.2,247.8 L532.7,254.5 L536.2,261.0 L539.7,267.3 L543.2,273.4 L546.7,279.3 L550.2,284.9 L553.7,290.4 L557.2,295.6 L560.6,300.5 L564.1,305.2 L567.6,309.7 L571.1,314.0 L574.6,318.0 L578.1,321.9 L581.6,325.7 L585.1,329.5 L588.6,332.7 L592.1,335.3 L595.6,337.6 L599.1,339.4 L602.5,340.7 L606.0,341.7 L609.5,342.6 L613.0,343.5 L616.5,344.3 L620.0,345.0 L623.5,345.6 L627.0,346.2 L630.5,346.7 L634.0,347.3 L637.5,347.9 L641.0,348.4 L644.4,348.9 L647.9,349.4 L651.4,349.9 L654.9,350.4 L658.4,350.8 L661.9,351.1 L665.4,351.5"/>
<path d="M49.5,392.5 L53.1,392.4 L56.7,392.2 L60.3,392.0 L63.9,391.7 L67.6,391.5 L71.2,391.2 L74.8,390.8 L78.4,390.5 L82.0,390.1 L85.6,389.7 L89.3,389.2 L92.9,388.6 L96.5,388.0 L100.1,387.4 L103.7,386.7 L107.3,386.0 L111.0,385.2 L114.6,384.3 L118.2,383.1 L121.8,381.7 L125.4,380.1 L129.0,378.1 L132.7,375.9 L136.3,373.3 L139.9,370.4 L143.5,367.2 L147.1,363.6 L150.7,359.5 L154.4,355.1 L158.0,350.4 L161.6,345.3 L165.2,340.1 L168.8,334.7 L172.4,329.1 L176.1,323.4 L179.7,317.7 L183.3,311.9 L186.9,306.1 L190.5,300.2 L194.1,294.2 L197.8,288.2 L201.4,282.1 L205.0,276.0 L208.6,269.7 L212.2,263.4 L215.8,257.0 L219.5,250.5 L223.1,243.8 L226.7,237.0 L230.3,229.9 L233.9,222.7 L237.6,215.2 L241.2,207.5 L244.8,199.5 L248.4,191.3 L252.0,183.0 L255.6,174.4 L259.3,165.7 L262.9,157.0 L266.5,148.2 L270.1,139.5 L273.7,130.9 L277.3,122.5 L281.0,114.3 L284.6,106.5 L288.2,99.1 L291.8,92.0 L295.4,85.5 L299.0,79.6 L302.7,74.0 L306.3,69.1 L309.9,64.8 L313.5,61.0 L317.1,57.8 L320.7,55.1 L324.4,52.8 L328.0,51.1 L331.6,49.8 L335.2,48.7 L338.8,48.3 L342.4,48.3 L346.1,48.3 L349.7,48.3 L353.3,48.7 L356.9,49.5 L360.5,50.5 L364.1,51.5 L367.8,52.6 L371.4,53.9 L375.0,55.3 L378.6,56.8 L382.2,58.5 L385.8,60.4 L389.5,62.4 L393.1,64.7 L396.7,67.3 L400.3,70.2 L403.9,73.4 L407.5,76.9 L411.2,80.8 L414.8,85.0 L418.4,89.6 L422.0,94.5 L425.6,99.6 L429.3,104.9 L432.9,110.5 L436.5,116.2 L440.1,122.0 L443.7,127.9 L447.3,133.9 L451.0,139.8 L454.6,145.8 L458.2,151.8 L461.8,157.8 L465.4,163.7 L469.0,169.7 L472.7,175.6 L476.3,181.5 L479.9,187.3 L483.5,193.2 L487.1,199.1 L490.7,204.9 L494.4,210.8 L498.0,216.6 L501.6,222.4 L505.2,228.2 L508.8,234.0 L512.4,239.8 L516.1,245.5 L519.7,251.2 L523.3,256.8 L526.9,262.3 L530.5,267.7 L534.1,273.1 L537.8,278.3 L541.4,283.5 L545.0,288.5 L548.6,293.4 L552.2,298.2 L555.8,302.7 L559.5,307.2 L563.1,311.4 L566.7,315.5 L570.3,319.6 L573.9,323.5 L577.5,326.8 L581.2,329.6 L584.8,332.1 L588.4,333.8 L592.0,335.0 L595.6,336.0 L599.2,336.8 L602.9,337.5 L606.5,338.2 L610.1,338.8 L613.7,339.3 L617.3,339.8 L620.9,340.3 L624.6,340.8 L628.2,341.3 L631.8,341.8 L635.4,342.4 L639.0,342.9 L642.7,343.4 L646.3,343.9 L649.9,344.4 L653.5,344.8 L657.1,345.3 L660.7,345.7"/>
<path d="M79.3,372.7 L82.8,372.3 L86.3,371.9 L89.8,371.5 L93.4,371.1 L96.9,370.7 L100.4,370.2 L103.9,369.8 L107.4,369.5 L111.0,369.1 L114.5,368.8 L118.0,368.3 L121.5,367.8 L125.1,367.2 L128.6,366.5 L132.1,365.6 L135.6,363.7 L139.1,360.5 L142.7,357.1 L146.2,353.6 L149.7,349.7 L153.2,345.6 L156.7,341.2 L160.3,336.4 L163.8,331.5 L167.3,326.6 L170.8,321.4 L174.4,316.2 L177.9,310.9 L181.4,305.6 L184.9,300.2 L188.4,294.7 L192.0,289.1 L195.5,283.4 L199.0,277.5 L202.5,271.5 L206.1,265.3 L209.6,258.9 L213.1,252.2 L216.6,245.4 L220.1,238.3 L223.7,231.1 L227.2,223.7 L230.7,216.1 L234.2,208.3 L237.8,200.4 L241.3,192.5 L244.8,184.5 L248.3,176.6 L251.8,168.8 L255.4,161.0 L258.9,153.4 L262.4,146.1 L265.9,139.0 L269.4,132.2 L273.0,125.8 L276.5,119.7 L280.0,114.0 L283.5,108.7 L287.1,103.7 L290.6,99.1 L294.1,94.8 L297.6,90.8 L301.1,87.2 L304.7,83.9 L308.2,80.9 L311.7,78.2 L315.2,75.8 L318.8,73.6 L322.3,71.8 L325.8,70.3 L329.3,69.0 L332.8,68.4 L336.4,68.3 L339.9,68.3 L343.4,68.3 L346.9,68.8 L350.5,70.0 L354.0,71.5 L357.5,73.2 L361.0,75.5 L364.5,77.9 L368.1,80.5 L371.6,83.4 L375.1,86.3 L378.6,89.2 L382.1,92.2 L385.7,95.2 L389.2,98.1 L392.7,100.9 L396.2,103.6 L399.8,106.3 L403.3,108.8 L406.8,111.3 L410.3,113.8 L413.8,116.1 L417.4,118.5 L420.9,120.9 L424.4,123.3 L427.9,125.7 L431.5,128.3 L435.0,130.9 L438.5,133.6 L442.0,136.4 L445.5,139.3 L449.1,142.4 L452.6,145.6 L456.1,149.0 L459.6,152.5 L463.1,156.1 L466.7,159.8 L470.2,163.7 L473.7,167.7 L477.2,171.8 L480.8,176.0 L484.3,180.4 L487.8,184.8 L491.3,189.4 L494.8,194.2 L498.4,199.0 L501.9,204.0 L505.4,209.2 L508.9,214.6 L512.5,220.1 L516.0,225.7 L519.5,231.5 L523.0,237.4 L526.5,243.4 L530.1,249.5 L533.6,255.7 L537.1,261.8 L540.6,268.0 L544.2,274.1 L547.7,280.1 L551.2,286.0 L554.7,291.7 L558.2,297.2 L561.8,302.5 L565.3,307.6 L568.8,312.4 L572.3,317.0 L575.8,321.4 L579.4,325.5 L582.9,329.5 L586.4,333.2 L589.9,336.8 L593.5,340.1 L597.0,343.2 L600.5,346.0 L604.0,348.6 L607.5,350.9 L611.1,352.7 L614.6,354.4 L618.1,355.8 L621.6,357.1 L625.2,358.2 L628.7,359.3 L632.2,360.3 L635.7,361.2 L639.2,362.0 L642.8,362.7 L646.3,363.3 L649.8,363.9 L653.3,364.3 L656.8,364.7 L660.4,365.0 L663.9,365.3 L667.4,365.5 L670.9,365.7 L674.5,365.9"/>
<path d="M66.1,382.5 L69.7,382.4 L73.3,382.4 L76.9,382.2 L80.6,382.1 L84.2,381.9 L87.8,381.7 L91.4,381.4 L95.1,381.0 L98.7,380.4 L102.3,379.8 L105.9,379.0 L109.5,378.2 L113.2,377.3 L116.8,376.4 L120.4,375.4 L124.0,374.3 L127.7,373.0 L131.3,371.4 L134.9,369.6 L138.5,367.5 L142.1,365.2 L145.8,362.4 L149.4,359.3 L153.0,355.8 L156.6,351.9 L160.3,347.7 L163.9,343.1 L167.5,338.3 L171.1,333.2 L174.7,328.0 L178.4,322.5 L182.0,316.9 L185.6,311.1 L189.2,305.2 L192.9,299.1 L196.5,292.8 L200.1,286.4 L203.7,279.9 L207.3,273.2 L211.0,266.5 L214.6,259.7 L218.2,252.8 L221.8,245.8 L225.5,238.8 L229.1,231.8 L232.7,224.7 L236.3,217.6 L239.9,210.5 L243.6,203.5 L247.2,196.4 L250.8,189.4 L254.4,182.4 L258.1,175.5 L261.7,168.7 L265.3,162.0 L268.9,155.3 L272.5,148.8 L276.2,142.3 L279.8,136.0 L283.4,129.8 L287.0,123.7 L290.7,117.7 L294.3,111.9 L297.9,106.2 L301.5,100.7 L305.2,95.5 L308.8,90.4 L312.4,85.5 L316.0,81.0 L319.6,76.8 L323.3,72.8 L326.9,69.3 L330.5,66.2 L334.1,63.4 L337.8,61.3 L341.4,59.7 L345.0,58.5 L348.6,58.0 L352.2,58.2 L355.9,58.7 L359.5,59.5 L363.1,60.9 L366.7,63.3 L370.4,65.9 L374.0,68.7 L377.6,72.1 L381.2,75.6 L384.8,79.3 L388.5,83.2 L392.1,87.2 L395.7,91.3 L399.3,95.5 L403.0,99.6 L406.6,103.7 L410.2,107.8 L413.8,111.9 L417.4,115.8 L421.1,119.7 L424.7,123.5 L428.3,127.2 L431.9,130.7 L435.6,134.2 L439.2,137.5 L442.8,140.8 L446.4,143.9 L450.0,147.0 L453.7,149.9 L457.3,152.8 L460.9,155.6 L464.5,158.4 L468.2,161.2 L471.8,164.1 L475.4,166.9 L479.0,169.9 L482.6,173.0 L486.3,176.2 L489.9,179.6 L493.5,183.2 L497.1,187.0 L500.8,191.0 L504.4,195.3 L508.0,199.9 L511.6,204.6 L515.2,209.6 L518.9,214.8 L522.5,220.2 L526.1,225.7 L529.7,231.5 L533.4,237.3 L537.0,243.2 L540.6,249.3 L544.2,255.3 L547.8,261.5 L551.5,267.7 L555.1,273.8 L558.7,279.9 L562.3,286.1 L566.0,292.1 L569.6,298.1 L573.2,303.9 L576.8,309.7 L580.4,315.4 L584.1,321.0 L587.7,326.3 L591.3,331.4 L594.9,336.2 L598.6,340.8 L602.2,345.3 L605.8,349.5 L609.4,353.0 L613.0,355.9 L616.7,358.3 L620.3,359.9 L623.9,360.9 L627.5,361.5 L631.2,362.1 L634.8,362.5 L638.4,362.9 L642.0,363.4 L645.6,363.8 L649.3,364.2 L652.9,364.7 L656.5,365.3 L660.1,365.9 L663.8,366.5 L667.4,367.2 L671.0,367.8 L674.6,368.4 L678.2,369.0"/>
<path d="M51.3,387.7 L55.0,387.4 L58.6,387.0 L62.3,386.7 L66.0,386.3 L69.6,385.9 L73.3,385.6 L77.0,385.2 L80.6,384.8 L84.3,384.5 L88.0,384.2 L91.7,383.8 L95.3,383.5 L99.0,383.2 L102.7,382.7 L106.3,382.3 L110.0,381.7 L113.7,381.1 L117.3,380.3 L121.0,379.0 L124.7,376.9 L128.4,374.5 L132.0,371.9 L135.7,369.0 L139.4,365.6 L143.0,361.9 L146.7,357.6 L150.4,352.9 L154.0,347.8 L157.7,342.1 L161.4,336.1 L165.1,329.8 L168.7,323.2 L172.4,316.4 L176.1,309.5 L179.7,302.4 L183.4,295.2 L187.1,287.9 L190.7,280.6 L194.4,273.2 L198.1,265.8 L201.7,258.4 L205.4,251.0 L209.1,243.6 L212.8,236.2 L216.4,229.0 L220.1,221.8 L223.8,214.6 L227.4,207.6 L231.1,200.7 L234.8,193.8 L238.4,187.1 L242.1,180.6 L245.8,174.1 L249.5,167.9 L253.1,161.9 L256.8,156.1 L260.5,150.5 L264.1,145.2 L267.8,140.1 L271.5,135.3 L275.1,130.7 L278.8,126.3 L282.5,122.2 L286.1,118.2 L289.8,114.5 L293.5,110.9 L297.2,107.5 L300.8,104.3 L304.5,101.1 L308.2,98.2 L311.8,95.3 L315.5,92.6 L319.2,90.1 L322.8,87.8 L326.5,85.7 L330.2,83.8 L333.9,82.1 L337.5,80.9 L341.2,80.0 L344.9,79.3 L348.5,79.1 L352.2,79.2 L355.9,79.7 L359.5,80.3 L363.2,81.3 L366.9,82.7 L370.6,84.4 L374.2,86.1 L377.9,88.1 L381.6,90.1 L385.2,92.1 L388.9,94.2 L392.6,96.2 L396.2,98.1 L399.9,99.9 L403.6,101.7 L407.2,103.4 L410.9,105.0 L414.6,106.6 L418.3,108.2 L421.9,109.7 L425.6,111.4 L429.3,113.1 L432.9,115.0 L436.6,117.1 L440.3,119.4 L443.9,122.1 L447.6,125.0 L451.3,128.4 L455.0,132.2 L458.6,136.3 L462.3,141.0 L466.0,146.1 L469.6,151.6 L473.3,157.5 L477.0,163.9 L480.6,170.5 L484.3,177.5 L488.0,184.8 L491.6,192.3 L495.3,199.9 L499.0,207.8 L502.7,215.6 L506.3,223.5 L510.0,231.3 L513.7,239.0 L517.3,246.6 L521.0,253.9 L524.7,261.0 L528.3,267.8 L532.0,274.3 L535.7,280.4 L539.4,286.2 L543.0,291.6 L546.7,296.6 L550.4,301.2 L554.0,305.5 L557.7,309.5 L561.4,313.1 L565.0,316.5 L568.7,319.6 L572.4,322.6 L576.1,325.4 L579.7,328.2 L583.4,330.9 L587.1,333.6 L590.7,336.1 L594.4,338.6 L598.1,341.1 L601.7,343.3 L605.4,345.3 L609.1,347.2 L612.7,348.8 L616.4,350.2 L620.1,351.5 L623.8,352.6 L627.4,353.7 L631.1,354.8 L634.8,355.7 L638.4,356.6 L642.1,357.4 L645.8,358.0 L649.4,358.6 L653.1,359.1 L656.8,359.6 L660.5,360.0 L664.1,360.3 L667.8,360.6 L671.5,360.9"/>
<path d="M94.5,365.8 L98.0,365.8 L101.4,365.6 L104.9,365.4 L108.4,365.2 L111.8,364.8 L115.3,364.1 L118.8,363.2 L122.2,362.1 L125.7,360.7 L129.1,359.1 L132.6,357.4 L136.1,355.0 L139.5,351.6 L143.0,348.0 L146.5,344.4 L149.9,340.4 L153.4,336.1 L156.9,331.7 L160.3,326.9 L163.8,322.0 L167.2,317.0 L170.7,311.8 L174.2,306.5 L177.6,301.2 L181.1,295.8 L184.6,290.4 L188.0,284.9 L191.5,279.3 L195.0,273.6 L198.4,267.8 L201.9,262.0 L205.3,256.1 L208.8,250.1 L212.3,244.1 L215.7,238.0 L219.2,231.9 L222.7,225.7 L226.1,219.5 L229.6,213.3 L233.0,207.0 L236.5,200.6 L240.0,194.3 L243.4,187.9 L246.9,181.4 L250.4,175.0 L253.8,168.6 L257.3,162.2 L260.8,155.8 L264.2,149.5 L267.7,143.2 L271.1,137.0 L274.6,131.0 L278.1,125.0 L281.5,119.3 L285.0,113.6 L288.5,108.2 L291.9,103.0 L295.4,98.0 L298.9,93.2 L302.3,88.7 L305.8,84.5 L309.2,80.5 L312.7,76.8 L316.2,73.4 L319.6,70.4 L323.1,67.7 L326.6,65.3 L330.0,63.3 L333.5,61.7 L336.9,60.2 L340.4,59.6 L343.9,59.5 L347.3,59.4 L350.8,59.4 L354.3,59.9 L357.7,61.1 L361.2,62.6 L364.7,64.3 L368.1,66.5 L371.6,68.9 L375.0,71.5 L378.5,74.4 L382.0,77.4 L385.4,80.6 L388.9,83.9 L392.4,87.4 L395.8,90.9 L399.3,94.5 L402.8,98.2 L406.2,102.0 L409.7,105.8 L413.1,109.8 L416.6,113.7 L420.1,117.8 L423.5,121.9 L427.0,126.1 L430.5,130.3 L433.9,134.6 L437.4,139.0 L440.8,143.4 L444.3,147.8 L447.8,152.3 L451.2,156.8 L454.7,161.4 L458.2,165.9 L461.6,170.5 L465.1,175.0 L468.6,179.6 L472.0,184.2 L475.5,188.7 L478.9,193.3 L482.4,197.8 L485.9,202.3 L489.3,206.9 L492.8,211.5 L496.3,216.0 L499.7,220.7 L503.2,225.3 L506.6,229.9 L510.1,234.6 L513.6,239.4 L517.0,244.1 L520.5,248.8 L524.0,253.6 L527.4,258.3 L530.9,263.0 L534.4,267.6 L537.8,272.3 L541.3,276.8 L544.7,281.3 L548.2,285.7 L551.7,290.1 L555.1,294.3 L558.6,298.5 L562.1,302.6 L565.5,306.6 L569.0,310.6 L572.5,314.5 L575.9,318.4 L579.4,322.2 L582.8,326.0 L586.3,329.8 L589.8,333.6 L593.2,337.2 L596.7,340.7 L600.2,344.1 L603.6,347.6 L607.1,351.1 L610.5,353.8 L614.0,355.9 L617.5,357.5 L620.9,359.0 L624.4,360.4 L627.9,361.6 L631.3,362.7 L634.8,363.8 L638.3,364.7 L641.7,365.5 L645.2,366.3 L648.6,367.0 L652.1,367.6 L655.6,368.2 L659.0,368.7 L662.5,369.1 L666.0,369.6 L669.4,369.9 L672.9,370.3 L676.4,370.6 L679.8,370.8"/>
<path d="M85.3,371.0 L88.8,370.8 L92.2,370.4 L95.6,370.1 L99.1,369.6 L102.5,369.2 L105.9,368.7 L109.4,368.2 L112.8,367.7 L116.2,367.2 L119.7,366.6 L123.1,365.9 L126.5,365.1 L129.9,364.2 L133.4,363.1 L136.8,361.9 L140.2,359.9 L143.7,357.0 L147.1,353.8 L150.5,350.4 L154.0,346.6 L157.4,342.6 L160.8,338.2 L164.3,333.6 L167.7,328.7 L171.1,323.7 L174.6,318.6 L178.0,313.3 L181.4,307.9 L184.8,302.3 L188.3,296.7 L191.7,291.0 L195.1,285.1 L198.6,279.1 L202.0,273.0 L205.4,266.9 L208.9,260.6 L212.3,254.3 L215.7,247.9 L219.2,241.5 L222.6,235.0 L226.0,228.5 L229.5,221.9 L232.9,215.2 L236.3,208.6 L239.7,201.9 L243.2,195.2 L246.6,188.4 L250.0,181.7 L253.5,175.0 L256.9,168.3 L260.3,161.7 L263.8,155.2 L267.2,148.8 L270.6,142.5 L274.1,136.3 L277.5,130.3 L280.9,124.5 L284.4,118.9 L287.8,113.5 L291.2,108.4 L294.6,103.5 L298.1,98.9 L301.5,94.6 L304.9,90.6 L308.4,86.8 L311.8,83.4 L315.2,80.4 L318.7,77.5 L322.1,75.1 L325.5,73.0 L329.0,71.1 L332.4,69.6 L335.8,68.5 L339.3,67.5 L342.7,67.1 L346.1,67.1 L349.5,67.1 L353.0,67.1 L356.4,67.5 L359.8,68.5 L363.3,69.5 L366.7,70.6 L370.1,72.0 L373.6,73.4 L377.0,74.8 L380.4,76.3 L383.9,77.9 L387.3,79.5 L390.7,81.1 L394.2,82.8 L397.6,84.5 L401.0,86.3 L404.4,88.2 L407.9,90.2 L411.3,92.3 L414.7,94.6 L418.2,97.0 L421.6,99.6 L425.0,102.4 L428.5,105.4 L431.9,108.7 L435.3,112.2 L438.8,115.9 L442.2,120.0 L445.6,124.2 L449.1,128.7 L452.5,133.5 L455.9,138.5 L459.3,143.7 L462.8,149.1 L466.2,154.7 L469.6,160.4 L473.1,166.3 L476.5,172.3 L479.9,178.4 L483.4,184.5 L486.8,190.8 L490.2,197.0 L493.7,203.3 L497.1,209.6 L500.5,215.8 L504.0,222.1 L507.4,228.3 L510.8,234.5 L514.2,240.6 L517.7,246.6 L521.1,252.6 L524.5,258.4 L528.0,264.1 L531.4,269.6 L534.8,275.0 L538.3,280.3 L541.7,285.3 L545.1,290.2 L548.6,294.9 L552.0,299.4 L555.4,303.8 L558.9,307.9 L562.3,311.8 L565.7,315.5 L569.1,319.0 L572.6,322.4 L576.0,325.6 L579.4,328.7 L582.9,331.9 L586.3,335.0 L589.7,337.6 L593.2,339.6 L596.6,341.4 L600.0,342.7 L603.5,343.8 L606.9,344.7 L610.3,345.5 L613.8,346.2 L617.2,346.9 L620.6,347.5 L624.0,348.0 L627.5,348.5 L630.9,349.0 L634.3,349.5 L637.8,350.0 L641.2,350.4 L644.6,350.9 L648.1,351.3 L651.5,351.8 L654.9,352.1 L658.4,352.5 L661.8,352.8 L665.2,353.1"/>
<path d="M75.7,374.3 L79.2,373.9 L82.8,373.5 L86.3,373.1 L89.9,372.7 L93.4,372.2 L97.0,371.7 L100.5,371.3 L104.1,370.8 L107.6,370.3 L111.2,369.8 L114.7,369.2 L118.3,368.5 L121.8,367.6 L125.4,366.6 L128.9,364.9 L132.5,362.3 L136.0,359.4 L139.6,356.6 L143.1,353.4 L146.7,350.0 L150.2,346.2 L153.8,342.1 L157.3,337.8 L160.9,333.3 L164.4,328.5 L168.0,323.6 L171.5,318.7 L175.1,313.6 L178.6,308.5 L182.2,303.2 L185.7,297.9 L189.3,292.5 L192.8,287.0 L196.4,281.3 L199.9,275.5 L203.5,269.4 L207.0,263.3 L210.6,256.9 L214.1,250.4 L217.7,243.7 L221.2,236.8 L224.8,229.8 L228.3,222.6 L231.9,215.3 L235.4,207.9 L239.0,200.3 L242.5,192.7 L246.1,185.1 L249.6,177.4 L253.2,169.8 L256.7,162.2 L260.3,154.8 L263.8,147.4 L267.4,140.3 L270.9,133.2 L274.5,126.4 L278.1,119.8 L281.6,113.5 L285.2,107.4 L288.7,101.6 L292.3,96.0 L295.8,90.9 L299.4,86.0 L302.9,81.5 L306.5,77.4 L310.0,73.8 L313.6,70.5 L317.1,67.9 L320.7,65.7 L324.2,63.8 L327.8,62.9 L331.3,62.6 L334.9,62.4 L338.4,62.4 L342.0,63.0 L345.5,64.4 L349.1,66.0 L352.6,67.9 L356.2,70.2 L359.7,72.6 L363.3,75.2 L366.8,77.9 L370.4,80.6 L373.9,83.2 L377.5,85.9 L381.0,88.4 L384.6,90.7 L388.1,93.0 L391.7,95.2 L395.2,97.3 L398.8,99.3 L402.3,101.3 L405.9,103.3 L409.4,105.3 L413.0,107.5 L416.5,109.7 L420.1,112.1 L423.6,114.6 L427.2,117.4 L430.7,120.3 L434.3,123.4 L437.8,126.7 L441.4,130.2 L444.9,133.9 L448.5,137.7 L452.0,141.8 L455.6,146.0 L459.1,150.4 L462.7,154.9 L466.2,159.5 L469.8,164.3 L473.3,169.1 L476.9,174.1 L480.4,179.1 L484.0,184.2 L487.5,189.4 L491.1,194.6 L494.6,199.8 L498.2,205.1 L501.7,210.4 L505.3,215.8 L508.8,221.1 L512.4,226.5 L515.9,231.9 L519.5,237.2 L523.0,242.5 L526.6,247.8 L530.2,253.0 L533.7,258.2 L537.3,263.4 L540.8,268.5 L544.4,273.5 L547.9,278.5 L551.5,283.3 L555.0,288.1 L558.6,292.9 L562.1,297.5 L565.7,302.0 L569.2,306.4 L572.8,310.8 L576.3,315.1 L579.9,319.3 L583.4,323.4 L587.0,327.5 L590.5,331.4 L594.1,335.2 L597.6,338.7 L601.2,342.2 L604.7,345.5 L608.3,349.0 L611.8,352.4 L615.4,355.1 L618.9,357.0 L622.5,358.6 L626.0,360.0 L629.6,361.1 L633.1,362.1 L636.7,362.9 L640.2,363.7 L643.8,364.3 L647.3,364.9 L650.9,365.3 L654.4,365.7 L658.0,366.1 L661.5,366.4 L665.1,366.7 L668.6,367.0 L672.2,367.2 L675.7,367.3"/>
<path d="M106.8,361.4 L110.3,361.1 L113.7,360.8 L117.1,360.3 L120.5,359.8 L123.9,359.2 L127.3,358.5 L130.7,357.6 L134.1,356.6 L137.5,355.4 L140.9,354.0 L144.3,352.3 L147.7,349.5 L151.1,345.4 L154.5,341.0 L157.9,336.6 L161.3,331.9 L164.7,327.1 L168.1,322.0 L171.5,316.8 L174.9,311.5 L178.3,306.1 L181.7,300.6 L185.1,295.1 L188.5,289.7 L191.9,284.1 L195.3,278.6 L198.7,273.1 L202.1,267.6 L205.5,262.1 L208.9,256.7 L212.3,251.2 L215.7,245.7 L219.1,240.3 L222.5,234.8 L225.9,229.2 L229.3,223.5 L232.7,217.7 L236.1,211.7 L239.5,205.6 L242.9,199.2 L246.3,192.7 L249.7,186.0 L253.1,179.1 L256.5,172.0 L259.9,164.7 L263.3,157.3 L266.7,149.9 L270.2,142.3 L273.6,134.7 L277.0,127.2 L280.4,119.7 L283.8,112.3 L287.2,105.1 L290.6,98.1 L294.0,91.3 L297.4,84.8 L300.8,78.7 L304.2,72.8 L307.6,67.4 L311.0,62.3 L314.4,57.6 L317.8,53.4 L321.2,49.7 L324.6,46.2 L328.0,43.4 L331.4,41.0 L334.8,38.9 L338.2,37.7 L341.6,37.1 L345.0,36.7 L348.4,36.6 L351.8,37.1 L355.2,38.2 L358.6,39.6 L362.0,41.4 L365.4,43.7 L368.8,46.3 L372.2,49.0 L375.6,52.1 L379.0,55.3 L382.4,58.7 L385.8,62.1 L389.2,65.7 L392.6,69.3 L396.0,72.9 L399.4,76.6 L402.8,80.2 L406.2,83.9 L409.6,87.7 L413.0,91.5 L416.4,95.4 L419.8,99.3 L423.2,103.4 L426.6,107.5 L430.1,111.8 L433.5,116.2 L436.9,120.8 L440.3,125.6 L443.7,130.5 L447.1,135.5 L450.5,140.7 L453.9,146.0 L457.3,151.5 L460.7,157.1 L464.1,162.8 L467.5,168.5 L470.9,174.4 L474.3,180.2 L477.7,186.1 L481.1,192.0 L484.5,198.0 L487.9,203.9 L491.3,209.8 L494.7,215.7 L498.1,221.6 L501.5,227.5 L504.9,233.3 L508.3,239.1 L511.7,244.8 L515.1,250.5 L518.5,256.1 L521.9,261.6 L525.3,267.0 L528.7,272.3 L532.1,277.5 L535.5,282.6 L538.9,287.6 L542.3,292.5 L545.7,297.1 L549.1,301.7 L552.5,306.1 L555.9,310.4 L559.3,314.5 L562.7,318.4 L566.1,322.2 L569.5,325.8 L572.9,329.3 L576.3,332.7 L579.7,335.9 L583.1,339.0 L586.5,342.1 L589.9,345.1 L593.4,348.0 L596.8,351.0 L600.2,354.0 L603.6,356.3 L607.0,358.0 L610.4,359.3 L613.8,360.5 L617.2,361.4 L620.6,362.1 L624.0,362.8 L627.4,363.5 L630.8,364.0 L634.2,364.6 L637.6,365.0 L641.0,365.5 L644.4,365.9 L647.8,366.3 L651.2,366.7 L654.6,367.1 L658.0,367.5 L661.4,367.8 L664.8,368.2 L668.2,368.5 L671.6,368.8 L675.0,369.0 L678.4,369.3 L681.8,369.5"/>
<path d="M82.1,368.8 L85.6,368.8 L89.1,368.7 L92.6,368.5 L96.2,368.4 L99.7,368.2 L103.2,367.9 L106.7,367.7 L110.2,367.4 L113.8,367.0 L117.3,366.5 L120.8,365.9 L124.3,365.2 L127.8,364.4 L131.3,363.5 L134.9,362.5 L138.4,361.3 L141.9,360.1 L145.4,358.0 L148.9,354.9 L152.5,351.6 L156.0,348.2 L159.5,344.5 L163.0,340.5 L166.5,336.4 L170.1,331.9 L173.6,327.3 L177.1,322.5 L180.6,317.6 L184.1,312.4 L187.6,307.0 L191.2,301.4 L194.7,295.6 L198.2,289.6 L201.7,283.4 L205.2,277.1 L208.8,270.5 L212.3,263.8 L215.8,257.0 L219.3,250.1 L222.8,243.0 L226.3,235.8 L229.9,228.5 L233.4,221.2 L236.9,213.7 L240.4,206.3 L243.9,198.7 L247.5,191.2 L251.0,183.7 L254.5,176.2 L258.0,168.8 L261.5,161.6 L265.0,154.4 L268.6,147.3 L272.1,140.5 L275.6,133.8 L279.1,127.4 L282.6,121.1 L286.2,115.1 L289.7,109.4 L293.2,103.9 L296.7,98.7 L300.2,93.7 L303.8,89.1 L307.3,84.7 L310.8,80.6 L314.3,76.9 L317.8,73.4 L321.3,70.3 L324.9,67.6 L328.4,65.2 L331.9,63.4 L335.4,62.1 L338.9,61.0 L342.5,60.6 L346.0,60.7 L349.5,61.0 L353.0,61.5 L356.5,62.6 L360.0,64.6 L363.6,66.8 L367.1,69.2 L370.6,72.0 L374.1,74.9 L377.6,78.0 L381.2,81.3 L384.7,84.5 L388.2,87.8 L391.7,91.0 L395.2,94.2 L398.7,97.2 L402.3,100.2 L405.8,103.0 L409.3,105.8 L412.8,108.4 L416.3,111.0 L419.9,113.5 L423.4,115.9 L426.9,118.4 L430.4,120.9 L433.9,123.5 L437.4,126.1 L441.0,128.9 L444.5,131.8 L448.0,134.8 L451.5,138.0 L455.0,141.4 L458.6,144.9 L462.1,148.6 L465.6,152.4 L469.1,156.4 L472.6,160.6 L476.2,164.9 L479.7,169.3 L483.2,173.8 L486.7,178.5 L490.2,183.4 L493.7,188.3 L497.3,193.5 L500.8,198.7 L504.3,204.2 L507.8,209.8 L511.3,215.5 L514.9,221.5 L518.4,227.6 L521.9,233.8 L525.4,240.1 L528.9,246.6 L532.4,253.2 L536.0,259.8 L539.5,266.4 L543.0,273.0 L546.5,279.5 L550.0,285.9 L553.6,292.1 L557.1,298.2 L560.6,304.0 L564.1,309.6 L567.6,314.9 L571.1,319.9 L574.7,324.6 L578.2,329.0 L581.7,333.1 L585.2,337.0 L588.7,340.7 L592.3,344.3 L595.8,347.5 L599.3,350.7 L602.8,353.6 L606.3,355.8 L609.9,357.2 L613.4,358.4 L616.9,359.4 L620.4,360.4 L623.9,361.3 L627.4,362.0 L631.0,362.7 L634.5,363.4 L638.0,364.0 L641.5,364.6 L645.0,365.1 L648.6,365.7 L652.1,366.3 L655.6,366.9 L659.1,367.5 L662.6,368.0 L666.1,368.5 L669.7,369.0 L673.2,369.5 L676.7,369.9"/>
<path d="M46.6,391.1 L50.2,390.8 L53.7,390.6 L57.2,390.3 L60.7,390.0 L64.3,389.7 L67.8,389.3 L71.3,389.0 L74.9,388.6 L78.4,388.3 L81.9,387.9 L85.5,387.6 L89.0,387.2 L92.5,386.8 L96.0,386.4 L99.6,385.9 L103.1,385.4 L106.6,384.9 L110.2,384.2 L113.7,383.5 L117.2,382.6 L120.7,381.4 L124.3,379.9 L127.8,378.2 L131.3,376.2 L134.9,373.8 L138.4,371.0 L141.9,367.8 L145.4,364.2 L149.0,360.2 L152.5,355.6 L156.0,350.7 L159.6,345.5 L163.1,339.8 L166.6,333.9 L170.1,327.9 L173.7,321.6 L177.2,315.3 L180.7,308.9 L184.3,302.3 L187.8,295.7 L191.3,289.1 L194.8,282.5 L198.4,275.8 L201.9,269.1 L205.4,262.4 L209.0,255.8 L212.5,249.2 L216.0,242.6 L219.5,236.1 L223.1,229.6 L226.6,223.1 L230.1,216.6 L233.7,210.2 L237.2,203.7 L240.7,197.3 L244.2,190.8 L247.8,184.3 L251.3,177.8 L254.8,171.4 L258.4,164.9 L261.9,158.6 L265.4,152.3 L268.9,146.0 L272.5,139.9 L276.0,133.9 L279.5,128.0 L283.1,122.3 L286.6,116.8 L290.1,111.5 L293.6,106.4 L297.2,101.5 L300.7,96.8 L304.2,92.4 L307.8,88.2 L311.3,84.3 L314.8,80.6 L318.4,77.3 L321.9,74.1 L325.4,71.3 L328.9,68.8 L332.5,66.5 L336.0,64.7 L339.5,63.2 L343.1,62.0 L346.6,61.4 L350.1,61.4 L353.6,61.4 L357.2,61.4 L360.7,61.9 L364.2,63.3 L367.8,64.8 L371.3,66.6 L374.8,68.7 L378.3,71.0 L381.9,73.5 L385.4,76.3 L388.9,79.2 L392.5,82.3 L396.0,85.6 L399.5,89.0 L403.0,92.5 L406.6,96.2 L410.1,100.0 L413.6,103.9 L417.2,108.0 L420.7,112.2 L424.2,116.5 L427.7,121.0 L431.3,125.5 L434.8,130.1 L438.3,134.8 L441.9,139.5 L445.4,144.2 L448.9,149.0 L452.4,153.7 L456.0,158.5 L459.5,163.2 L463.0,167.8 L466.6,172.4 L470.1,176.9 L473.6,181.4 L477.1,185.9 L480.7,190.3 L484.2,194.7 L487.7,199.1 L491.3,203.6 L494.8,208.1 L498.3,212.8 L501.8,217.4 L505.4,222.2 L508.9,227.1 L512.4,232.0 L516.0,237.1 L519.5,242.1 L523.0,247.3 L526.5,252.4 L530.1,257.5 L533.6,262.6 L537.1,267.7 L540.7,272.6 L544.2,277.5 L547.7,282.2 L551.3,286.8 L554.8,291.2 L558.3,295.5 L561.8,299.5 L565.4,303.5 L568.9,307.3 L572.4,311.2 L576.0,315.0 L579.5,318.0 L583.0,320.1 L586.5,321.8 L590.1,323.3 L593.6,324.7 L597.1,325.9 L600.7,327.0 L604.2,328.1 L607.7,329.0 L611.2,329.8 L614.8,330.5 L618.3,331.1 L621.8,331.7 L625.4,332.3 L628.9,332.7 L632.4,333.2 L635.9,333.5 L639.5,333.8 L643.0,334.0"/>
<path d="M58.5,385.7 L62.1,385.7 L65.6,385.6 L69.2,385.5 L72.7,385.4 L76.2,385.2 L79.8,385.0 L83.3,384.8 L86.9,384.5 L90.4,384.1 L94.0,383.6 L97.5,383.0 L101.1,382.3 L104.6,381.5 L108.2,380.6 L111.7,379.7 L115.3,378.6 L118.8,377.6 L122.3,376.1 L125.9,374.1 L129.4,371.9 L133.0,369.4 L136.5,366.5 L140.1,363.3 L143.6,359.6 L147.2,355.4 L150.7,350.8 L154.3,345.8 L157.8,340.4 L161.4,334.7 L164.9,328.7 L168.4,322.5 L172.0,316.2 L175.5,309.8 L179.1,303.3 L182.6,296.8 L186.2,290.3 L189.7,283.8 L193.3,277.3 L196.8,270.9 L200.4,264.5 L203.9,258.2 L207.5,251.9 L211.0,245.7 L214.5,239.6 L218.1,233.5 L221.6,227.5 L225.2,221.5 L228.7,215.5 L232.3,209.5 L235.8,203.5 L239.4,197.4 L242.9,191.3 L246.5,185.2 L250.0,179.0 L253.6,172.7 L257.1,166.4 L260.6,160.0 L264.2,153.6 L267.7,147.2 L271.3,140.7 L274.8,134.3 L278.4,128.0 L281.9,121.8 L285.5,115.6 L289.0,109.6 L292.6,103.9 L296.1,98.3 L299.6,93.0 L303.2,88.1 L306.7,83.4 L310.3,79.2 L313.8,75.4 L317.4,71.9 L320.9,68.9 L324.5,66.4 L328.0,64.2 L331.6,62.7 L335.1,61.6 L338.7,60.8 L342.2,60.4 L345.7,60.5 L349.3,60.7 L352.8,61.0 L356.4,61.7 L359.9,62.9 L363.5,64.3 L367.0,65.6 L370.6,67.2 L374.1,68.9 L377.7,70.7 L381.2,72.5 L384.8,74.6 L388.3,76.7 L391.8,79.0 L395.4,81.5 L398.9,84.2 L402.5,87.2 L406.0,90.4 L409.6,93.9 L413.1,97.7 L416.7,101.8 L420.2,106.1 L423.8,110.7 L427.3,115.4 L430.9,120.4 L434.4,125.5 L437.9,130.8 L441.5,136.0 L445.0,141.4 L448.6,146.8 L452.1,152.1 L455.7,157.4 L459.2,162.6 L462.8,167.8 L466.3,172.8 L469.9,177.8 L473.4,182.8 L477.0,187.6 L480.5,192.5 L484.0,197.3 L487.6,202.1 L491.1,207.0 L494.7,212.0 L498.2,217.0 L501.8,222.1 L505.3,227.3 L508.9,232.6 L512.4,238.0 L516.0,243.5 L519.5,249.0 L523.0,254.6 L526.6,260.1 L530.1,265.7 L533.7,271.1 L537.2,276.5 L540.8,281.8 L544.3,286.9 L547.9,291.7 L551.4,296.5 L555.0,300.9 L558.5,305.1 L562.1,309.1 L565.6,312.9 L569.1,316.4 L572.7,319.7 L576.2,322.7 L579.8,325.4 L583.3,327.8 L586.9,329.7 L590.4,331.1 L594.0,332.2 L597.5,333.2 L601.1,334.1 L604.6,335.0 L608.2,335.8 L611.7,336.5 L615.2,337.2 L618.8,337.8 L622.3,338.4 L625.9,339.0 L629.4,339.5 L633.0,340.1 L636.5,340.7 L640.1,341.2 L643.6,341.7 L647.2,342.2 L650.7,342.7 L654.3,343.1 L657.8,343.4"/>
<path d="M83.2,373.0 L86.6,372.5 L90.1,371.9 L93.6,371.4 L97.1,370.8 L100.5,370.3 L104.0,369.8 L107.5,369.3 L111.0,368.9 L114.5,368.4 L117.9,367.9 L121.4,367.3 L124.9,366.6 L128.4,365.7 L131.8,364.1 L135.3,361.9 L138.8,359.3 L142.3,356.5 L145.7,353.2 L149.2,349.6 L152.7,345.6 L156.2,341.1 L159.7,336.3 L163.1,331.2 L166.6,325.8 L170.1,320.2 L173.6,314.4 L177.0,308.4 L180.5,302.3 L184.0,296.1 L187.5,289.8 L191.0,283.4 L194.4,276.9 L197.9,270.3 L201.4,263.7 L204.9,257.2 L208.3,250.6 L211.8,244.1 L215.3,237.6 L218.8,231.2 L222.2,224.9 L225.7,218.6 L229.2,212.5 L232.7,206.3 L236.2,200.2 L239.6,194.2 L243.1,188.1 L246.6,182.1 L250.1,176.0 L253.5,169.9 L257.0,163.9 L260.5,157.8 L264.0,151.7 L267.5,145.6 L270.9,139.5 L274.4,133.4 L277.9,127.4 L281.4,121.4 L284.8,115.6 L288.3,109.9 L291.8,104.4 L295.3,99.1 L298.7,93.9 L302.2,89.0 L305.7,84.5 L309.2,80.2 L312.7,76.2 L316.1,72.7 L319.6,69.5 L323.1,66.6 L326.6,64.3 L330.0,62.4 L333.5,60.7 L337.0,60.0 L340.5,60.0 L344.0,59.9 L347.4,59.9 L350.9,60.6 L354.4,62.2 L357.9,64.1 L361.3,66.4 L364.8,69.1 L368.3,72.2 L371.8,75.5 L375.2,79.2 L378.7,83.1 L382.2,87.0 L385.7,91.2 L389.2,95.4 L392.6,99.6 L396.1,103.9 L399.6,108.1 L403.1,112.3 L406.5,116.4 L410.0,120.4 L413.5,124.2 L417.0,128.0 L420.5,131.6 L423.9,135.0 L427.4,138.2 L430.9,141.3 L434.4,144.3 L437.8,147.1 L441.3,149.9 L444.8,152.5 L448.3,155.1 L451.7,157.7 L455.2,160.3 L458.7,162.9 L462.2,165.6 L465.7,168.5 L469.1,171.4 L472.6,174.6 L476.1,178.0 L479.6,181.6 L483.0,185.4 L486.5,189.6 L490.0,194.0 L493.5,198.7 L497.0,203.7 L500.4,209.0 L503.9,214.4 L507.4,220.1 L510.9,225.9 L514.3,231.8 L517.8,237.9 L521.3,243.9 L524.8,250.0 L528.2,256.0 L531.7,261.9 L535.2,267.7 L538.7,273.4 L542.2,278.9 L545.6,284.2 L549.1,289.4 L552.6,294.3 L556.1,299.0 L559.5,303.5 L563.0,307.9 L566.5,312.0 L570.0,316.0 L573.5,319.7 L576.9,323.4 L580.4,326.9 L583.9,330.3 L587.4,333.5 L590.8,336.6 L594.3,339.6 L597.8,342.3 L601.3,345.0 L604.7,347.4 L608.2,349.4 L611.7,351.1 L615.2,352.5 L618.7,353.7 L622.1,354.9 L625.6,356.1 L629.1,357.1 L632.6,358.1 L636.0,358.9 L639.5,359.7 L643.0,360.5 L646.5,361.1 L650.0,361.7 L653.4,362.3 L656.9,362.8 L660.4,363.3 L663.9,363.7 L667.3,364.0 L670.8,364.3"/>
<path d="M69.7,377.1 L73.3,377.1 L76.9,377.0 L80.5,376.9 L84.1,376.7 L87.7,376.5 L91.3,376.3 L94.9,376.1 L98.5,375.8 L102.1,375.5 L105.7,375.0 L109.3,374.5 L112.9,374.0 L116.5,373.3 L120.1,372.5 L123.7,371.6 L127.3,370.6 L130.9,369.5 L134.5,367.5 L138.1,364.4 L141.7,360.9 L145.3,357.2 L148.9,353.1 L152.5,348.6 L156.1,343.7 L159.7,338.4 L163.3,332.8 L166.9,327.1 L170.5,321.2 L174.1,315.1 L177.7,309.1 L181.3,303.0 L184.9,296.8 L188.5,290.6 L192.1,284.4 L195.7,278.1 L199.3,271.8 L202.9,265.4 L206.5,258.9 L210.1,252.4 L213.7,245.7 L217.3,238.9 L220.9,232.0 L224.5,225.0 L228.1,217.8 L231.7,210.4 L235.3,202.9 L238.9,195.2 L242.5,187.4 L246.1,179.4 L249.7,171.4 L253.3,163.3 L256.9,155.2 L260.5,147.2 L264.1,139.3 L267.7,131.6 L271.3,124.1 L274.9,116.9 L278.5,110.0 L282.1,103.5 L285.7,97.3 L289.3,91.5 L292.9,86.2 L296.5,81.3 L300.1,76.8 L303.7,72.9 L307.3,69.4 L310.9,66.2 L314.5,63.6 L318.1,61.4 L321.7,59.5 L325.3,58.2 L328.9,57.2 L332.5,56.5 L336.1,56.2 L339.7,56.4 L343.3,56.8 L346.9,57.3 L350.5,58.2 L354.1,59.6 L357.7,61.2 L361.3,63.0 L364.9,65.1 L368.5,67.4 L372.1,69.9 L375.7,72.6 L379.3,75.5 L382.9,78.6 L386.5,81.8 L390.1,85.1 L393.7,88.6 L397.3,92.2 L400.9,96.0 L404.5,99.8 L408.1,103.7 L411.7,107.7 L415.3,111.7 L418.9,115.8 L422.5,119.9 L426.1,124.0 L429.7,128.1 L433.3,132.1 L436.9,136.2 L440.5,140.2 L444.1,144.3 L447.7,148.3 L451.3,152.4 L454.9,156.5 L458.5,160.7 L462.1,164.9 L465.7,169.1 L469.3,173.5 L472.9,178.0 L476.5,182.5 L480.1,187.1 L483.7,191.8 L487.3,196.6 L490.9,201.5 L494.5,206.5 L498.1,211.6 L501.6,216.7 L505.2,221.9 L508.8,227.2 L512.4,232.5 L516.0,237.8 L519.6,243.2 L523.2,248.6 L526.8,254.0 L530.4,259.4 L534.0,264.8 L537.6,270.2 L541.2,275.5 L544.8,280.8 L548.4,286.0 L552.0,291.2 L555.6,296.2 L559.2,301.2 L562.8,306.0 L566.4,310.6 L570.0,315.1 L573.6,319.5 L577.2,323.8 L580.8,327.9 L584.4,331.9 L588.0,335.9 L591.6,339.8 L595.2,343.4 L598.8,347.0 L602.4,350.4 L606.0,352.8 L609.6,354.4 L613.2,355.6 L616.8,356.7 L620.4,357.6 L624.0,358.5 L627.6,359.3 L631.2,360.0 L634.8,360.6 L638.4,361.3 L642.0,361.9 L645.6,362.5 L649.2,363.0 L652.8,363.7 L656.4,364.3 L660.0,364.9 L663.6,365.5 L667.2,366.0 L670.8,366.5 L674.4,367.0 L678.0,367.5"/>
<path d="M91.9,365.9 L95.2,365.5 L98.5,365.0 L101.9,364.5 L105.2,364.0 L108.5,363.4 L111.8,362.9 L115.1,362.3 L118.5,361.8 L121.8,361.3 L125.1,360.7 L128.4,360.1 L131.8,359.3 L135.1,358.3 L138.4,357.1 L141.7,354.9 L145.0,351.3 L148.4,347.4 L151.7,343.6 L155.0,339.3 L158.3,334.8 L161.6,330.1 L165.0,325.1 L168.3,319.9 L171.6,314.5 L174.9,309.1 L178.3,303.5 L181.6,297.8 L184.9,292.0 L188.2,286.2 L191.5,280.3 L194.9,274.3 L198.2,268.3 L201.5,262.2 L204.8,256.2 L208.1,250.1 L211.5,244.0 L214.8,237.9 L218.1,231.9 L221.4,225.9 L224.8,219.9 L228.1,214.0 L231.4,208.2 L234.7,202.4 L238.0,196.6 L241.4,191.0 L244.7,185.4 L248.0,180.0 L251.3,174.6 L254.7,169.3 L258.0,164.2 L261.3,159.3 L264.6,154.5 L267.9,149.9 L271.3,145.4 L274.6,141.1 L277.9,137.0 L281.2,133.1 L284.5,129.3 L287.9,125.6 L291.2,122.2 L294.5,118.8 L297.8,115.6 L301.2,112.5 L304.5,109.6 L307.8,106.7 L311.1,103.9 L314.4,101.1 L317.8,98.5 L321.1,96.0 L324.4,93.5 L327.7,91.1 L331.1,88.9 L334.4,86.8 L337.7,84.8 L341.0,83.0 L344.3,81.4 L347.7,80.1 L351.0,78.9 L354.3,78.0 L357.6,77.6 L360.9,77.6 L364.3,77.6 L367.6,77.7 L370.9,78.3 L374.2,79.3 L377.6,80.5 L380.9,82.0 L384.2,83.8 L387.5,85.8 L390.8,87.9 L394.2,90.4 L397.5,93.0 L400.8,95.7 L404.1,98.7 L407.5,101.7 L410.8,104.8 L414.1,108.0 L417.4,111.3 L420.7,114.5 L424.1,117.8 L427.4,121.0 L430.7,124.2 L434.0,127.3 L437.3,130.3 L440.7,133.3 L444.0,136.2 L447.3,139.1 L450.6,141.9 L454.0,144.7 L457.3,147.5 L460.6,150.4 L463.9,153.2 L467.2,156.2 L470.6,159.3 L473.9,162.5 L477.2,165.9 L480.5,169.5 L483.9,173.3 L487.2,177.4 L490.5,181.7 L493.8,186.2 L497.1,191.1 L500.5,196.1 L503.8,201.5 L507.1,207.0 L510.4,212.8 L513.7,218.8 L517.1,224.8 L520.4,231.0 L523.7,237.3 L527.0,243.6 L530.4,249.8 L533.7,256.1 L537.0,262.2 L540.3,268.2 L543.6,274.0 L547.0,279.7 L550.3,285.1 L553.6,290.3 L556.9,295.3 L560.3,300.0 L563.6,304.4 L566.9,308.6 L570.2,312.5 L573.5,316.2 L576.9,319.6 L580.2,323.0 L583.5,326.2 L586.8,328.4 L590.1,329.6 L593.5,330.6 L596.8,331.3 L600.1,332.1 L603.4,332.7 L606.8,333.3 L610.1,333.8 L613.4,334.2 L616.7,334.7 L620.0,335.2 L623.4,335.6 L626.7,336.1 L630.0,336.7 L633.3,337.2 L636.6,337.8 L640.0,338.3 L643.3,338.8 L646.6,339.3 L649.9,339.7 L653.3,340.2"/>
<path d="M72.0,373.9 L75.5,373.7 L79.1,373.4 L82.7,373.1 L86.3,372.8 L89.8,372.5 L93.4,372.2 L97.0,371.8 L100.5,371.4 L104.1,371.1 L107.7,370.8 L111.2,370.5 L114.8,370.1 L118.4,369.7 L122.0,369.3 L125.5,368.8 L129.1,368.2 L132.7,367.4 L136.2,366.6 L139.8,365.6 L143.4,363.3 L147.0,359.3 L150.5,355.0 L154.1,350.8 L157.7,346.1 L161.2,341.1 L164.8,336.0 L168.4,330.6 L172.0,325.0 L175.5,319.5 L179.1,313.7 L182.7,308.0 L186.2,302.2 L189.8,296.4 L193.4,290.6 L196.9,284.7 L200.5,278.8 L204.1,273.0 L207.7,267.1 L211.2,261.2 L214.8,255.3 L218.4,249.4 L221.9,243.5 L225.5,237.6 L229.1,231.7 L232.7,225.7 L236.2,219.7 L239.8,213.6 L243.4,207.5 L246.9,201.3 L250.5,195.1 L254.1,188.8 L257.6,182.5 L261.2,176.3 L264.8,170.0 L268.4,163.8 L271.9,157.7 L275.5,151.7 L279.1,145.8 L282.6,140.0 L286.2,134.4 L289.8,128.9 L293.4,123.6 L296.9,118.4 L300.5,113.4 L304.1,108.6 L307.6,103.9 L311.2,99.4 L314.8,95.0 L318.4,90.7 L321.9,86.7 L325.5,82.8 L329.1,79.0 L332.6,75.6 L336.2,72.3 L339.8,69.3 L343.3,66.7 L346.9,64.4 L350.5,62.3 L354.1,61.0 L357.6,60.2 L361.2,59.5 L364.8,59.3 L368.3,59.6 L371.9,60.2 L375.5,61.1 L379.1,62.4 L382.6,64.3 L386.2,66.4 L389.8,68.7 L393.3,71.4 L396.9,74.2 L400.5,77.2 L404.0,80.4 L407.6,83.7 L411.2,87.1 L414.8,90.6 L418.3,94.1 L421.9,97.6 L425.5,101.2 L429.0,104.8 L432.6,108.4 L436.2,112.0 L439.8,115.6 L443.3,119.3 L446.9,122.9 L450.5,126.7 L454.0,130.5 L457.6,134.5 L461.2,138.5 L464.7,142.8 L468.3,147.1 L471.9,151.7 L475.5,156.5 L479.0,161.5 L482.6,166.7 L486.2,172.1 L489.7,177.7 L493.3,183.5 L496.9,189.4 L500.5,195.6 L504.0,201.8 L507.6,208.2 L511.2,214.7 L514.7,221.2 L518.3,227.7 L521.9,234.3 L525.5,240.8 L529.0,247.3 L532.6,253.7 L536.2,260.0 L539.7,266.2 L543.3,272.3 L546.9,278.1 L550.4,283.8 L554.0,289.3 L557.6,294.6 L561.2,299.7 L564.7,304.6 L568.3,309.2 L571.9,313.6 L575.4,317.9 L579.0,322.0 L582.6,325.9 L586.2,329.7 L589.7,333.3 L593.3,336.7 L596.9,339.9 L600.4,342.8 L604.0,345.7 L607.6,348.4 L611.1,350.6 L614.7,352.3 L618.3,353.7 L621.9,355.0 L625.4,356.2 L629.0,357.3 L632.6,358.3 L636.1,359.2 L639.7,360.0 L643.3,360.8 L646.9,361.6 L650.4,362.3 L654.0,362.9 L657.6,363.6 L661.1,364.1 L664.7,364.7 L668.3,365.2 L671.8,365.6 L675.4,366.0"/>
<path d="M66.4,383.8 L69.9,383.3 L73.4,382.8 L76.9,382.3 L80.4,381.7 L83.9,381.2 L87.4,380.7 L90.9,380.3 L94.4,379.9 L97.9,379.5 L101.4,379.1 L104.9,378.7 L108.4,378.3 L111.9,377.8 L115.4,377.3 L118.8,376.7 L122.3,375.9 L125.8,374.7 L129.3,372.9 L132.8,370.9 L136.3,368.8 L139.8,366.3 L143.3,363.5 L146.8,360.4 L150.3,356.9 L153.8,353.1 L157.3,349.0 L160.8,344.5 L164.3,339.7 L167.8,334.8 L171.3,329.7 L174.8,324.4 L178.3,319.0 L181.8,313.4 L185.3,307.8 L188.8,302.0 L192.3,296.2 L195.8,290.2 L199.3,284.2 L202.8,278.1 L206.3,271.9 L209.8,265.7 L213.3,259.4 L216.8,253.1 L220.3,246.8 L223.8,240.5 L227.3,234.2 L230.8,227.8 L234.3,221.4 L237.8,215.0 L241.3,208.6 L244.8,202.1 L248.3,195.6 L251.8,189.0 L255.3,182.4 L258.8,175.8 L262.3,169.1 L265.8,162.4 L269.3,155.8 L272.8,149.1 L276.3,142.4 L279.8,135.9 L283.3,129.4 L286.8,122.9 L290.3,116.6 L293.8,110.5 L297.3,104.5 L300.8,98.8 L304.2,93.3 L307.7,88.0 L311.2,83.0 L314.7,78.4 L318.2,74.0 L321.7,70.1 L325.2,66.6 L328.7,63.3 L332.2,60.7 L335.7,58.4 L339.2,56.5 L342.7,55.4 L346.2,54.9 L349.7,54.7 L353.2,54.6 L356.7,55.0 L360.2,56.2 L363.7,57.7 L367.2,59.5 L370.7,61.8 L374.2,64.4 L377.7,67.1 L381.2,70.2 L384.7,73.3 L388.2,76.5 L391.7,79.8 L395.2,83.1 L398.7,86.5 L402.2,89.8 L405.7,93.0 L409.2,96.2 L412.7,99.3 L416.2,102.4 L419.7,105.4 L423.2,108.3 L426.7,111.3 L430.2,114.3 L433.7,117.3 L437.2,120.3 L440.7,123.5 L444.2,126.8 L447.7,130.2 L451.2,133.9 L454.7,137.7 L458.2,141.7 L461.7,146.0 L465.2,150.6 L468.7,155.3 L472.2,160.3 L475.7,165.6 L479.2,171.0 L482.7,176.7 L486.2,182.6 L489.6,188.6 L493.1,194.8 L496.6,201.2 L500.1,207.6 L503.6,214.1 L507.1,220.7 L510.6,227.3 L514.1,233.9 L517.6,240.5 L521.1,247.0 L524.6,253.4 L528.1,259.7 L531.6,265.8 L535.1,271.8 L538.6,277.5 L542.1,283.1 L545.6,288.4 L549.1,293.4 L552.6,298.2 L556.1,302.8 L559.6,307.1 L563.1,311.1 L566.6,314.8 L570.1,318.4 L573.6,321.6 L577.1,324.9 L580.6,328.0 L584.1,330.0 L587.6,331.1 L591.1,331.9 L594.6,332.6 L598.1,333.2 L601.6,333.8 L605.1,334.2 L608.6,334.7 L612.1,335.0 L615.6,335.4 L619.1,335.8 L622.6,336.2 L626.1,336.7 L629.6,337.2 L633.1,337.7 L636.6,338.3 L640.1,338.9 L643.6,339.4 L647.1,340.0 L650.6,340.5 L654.1,341.1 L657.6,341.6"/>
<path d="M51.5,387.3 L55.1,387.3 L58.8,387.2 L62.4,387.1 L66.0,386.9 L69.6,386.7 L73.3,386.5 L76.9,386.3 L80.5,386.0 L84.1,385.8 L87.7,385.5 L91.4,385.1 L95.0,384.7 L98.6,384.3 L102.2,383.8 L105.8,383.2 L109.5,382.5 L113.1,381.8 L116.7,381.0 L120.3,380.1 L123.9,379.2 L127.6,377.6 L131.2,375.2 L134.8,372.5 L138.4,369.7 L142.0,366.6 L145.7,363.1 L149.3,359.2 L152.9,354.9 L156.5,350.3 L160.1,345.4 L163.8,340.1 L167.4,334.7 L171.0,329.0 L174.6,323.2 L178.3,317.2 L181.9,311.1 L185.5,304.8 L189.1,298.4 L192.7,291.9 L196.4,285.2 L200.0,278.4 L203.6,271.5 L207.2,264.6 L210.8,257.5 L214.5,250.5 L218.1,243.4 L221.7,236.3 L225.3,229.3 L228.9,222.4 L232.6,215.5 L236.2,208.7 L239.8,201.9 L243.4,195.3 L247.0,188.9 L250.7,182.5 L254.3,176.3 L257.9,170.2 L261.5,164.3 L265.2,158.5 L268.8,152.8 L272.4,147.3 L276.0,141.9 L279.6,136.6 L283.3,131.5 L286.9,126.4 L290.5,121.4 L294.1,116.5 L297.7,111.6 L301.4,106.9 L305.0,102.2 L308.6,97.7 L312.2,93.2 L315.8,88.9 L319.5,84.7 L323.1,80.7 L326.7,76.9 L330.3,73.3 L333.9,70.0 L337.6,66.9 L341.2,64.2 L344.8,61.9 L348.4,59.8 L352.0,58.3 L355.7,57.3 L359.3,56.6 L362.9,56.2 L366.5,56.4 L370.2,56.9 L373.8,57.4 L377.4,58.5 L381.0,60.2 L384.6,62.0 L388.3,64.2 L391.9,66.7 L395.5,69.5 L399.1,72.5 L402.7,75.8 L406.4,79.2 L410.0,82.9 L413.6,86.7 L417.2,90.7 L420.8,94.7 L424.5,98.9 L428.1,103.2 L431.7,107.5 L435.3,111.9 L438.9,116.4 L442.6,120.8 L446.2,125.3 L449.8,129.9 L453.4,134.4 L457.1,139.0 L460.7,143.7 L464.3,148.4 L467.9,153.2 L471.5,158.1 L475.2,163.1 L478.8,168.2 L482.4,173.5 L486.0,179.0 L489.6,184.6 L493.3,190.4 L496.9,196.4 L500.5,202.6 L504.1,208.9 L507.7,215.4 L511.4,222.1 L515.0,228.9 L518.6,235.7 L522.2,242.6 L525.8,249.5 L529.5,256.3 L533.1,263.1 L536.7,269.7 L540.3,276.2 L543.9,282.5 L547.6,288.5 L551.2,294.3 L554.8,299.8 L558.4,305.1 L562.1,310.1 L565.7,314.8 L569.3,319.1 L572.9,323.1 L576.5,326.8 L580.2,329.5 L583.8,331.2 L587.4,332.5 L591.0,333.7 L594.6,334.8 L598.3,335.8 L601.9,336.7 L605.5,337.5 L609.1,338.3 L612.7,339.0 L616.4,339.6 L620.0,340.2 L623.6,340.7 L627.2,341.3 L630.8,341.8 L634.5,342.3 L638.1,342.9 L641.7,343.4 L645.3,343.8 L649.0,344.3 L652.6,344.7 L656.2,345.0 L659.8,345.3 L663.4,345.6"/>
<path d="M45.4,387.9 L49.1,387.7 L52.9,387.4 L56.6,387.1 L60.3,386.9 L64.0,386.6 L67.7,386.3 L71.4,386.0 L75.1,385.7 L78.8,385.4 L82.6,385.1 L86.3,384.9 L90.0,384.6 L93.7,384.4 L97.4,384.2 L101.1,384.0 L104.8,383.7 L108.5,383.5 L112.3,383.3 L116.0,383.0 L119.7,382.6 L123.4,382.2 L127.1,381.8 L130.8,381.3 L134.5,380.7 L138.2,380.0 L142.0,378.5 L145.7,375.8 L149.4,372.7 L153.1,369.2 L156.8,364.9 L160.5,360.3 L164.2,355.2 L167.9,349.7 L171.7,344.0 L175.4,338.2 L179.1,332.2 L182.8,326.1 L186.5,319.9 L190.2,313.5 L193.9,307.1 L197.6,300.6 L201.4,294.0 L205.1,287.4 L208.8,280.7 L212.5,274.0 L216.2,267.2 L219.9,260.3 L223.6,253.3 L227.3,246.2 L231.1,238.9 L234.8,231.5 L238.5,223.8 L242.2,215.9 L245.9,207.7 L249.6,199.4 L253.3,190.8 L257.0,182.0 L260.8,173.1 L264.5,164.0 L268.2,154.9 L271.9,145.8 L275.6,136.7 L279.3,127.6 L283.0,118.8 L286.7,110.1 L290.5,101.7 L294.2,93.6 L297.9,85.9 L301.6,78.5 L305.3,71.5 L309.0,65.1 L312.7,59.0 L316.4,53.5 L320.2,48.5 L323.9,43.9 L327.6,40.0 L331.3,36.6 L335.0,33.6 L338.7,31.2 L342.4,29.3 L346.1,27.6 L349.9,27.0 L353.6,27.0 L357.3,27.0 L361.0,27.0 L364.7,27.5 L368.4,28.8 L372.1,30.3 L375.8,32.1 L379.6,34.2 L383.3,36.5 L387.0,39.1 L390.7,42.0 L394.4,45.0 L398.1,48.4 L401.8,52.0 L405.5,55.8 L409.3,59.9 L413.0,64.2 L416.7,68.7 L420.4,73.4 L424.1,78.4 L427.8,83.5 L431.5,88.8 L435.2,94.3 L439.0,99.9 L442.7,105.6 L446.4,111.5 L450.1,117.6 L453.8,123.7 L457.5,129.9 L461.2,136.3 L465.0,142.7 L468.7,149.1 L472.4,155.7 L476.1,162.3 L479.8,168.9 L483.5,175.6 L487.2,182.3 L490.9,189.1 L494.7,195.9 L498.4,202.7 L502.1,209.6 L505.8,216.5 L509.5,223.4 L513.2,230.3 L516.9,237.2 L520.6,244.1 L524.4,250.9 L528.1,257.6 L531.8,264.3 L535.5,270.8 L539.2,277.2 L542.9,283.5 L546.6,289.5 L550.3,295.3 L554.1,300.9 L557.8,306.3 L561.5,311.4 L565.2,316.2 L568.9,320.7 L572.6,325.0 L576.3,329.0 L580.0,332.7 L583.8,336.3 L587.5,339.8 L591.2,343.1 L594.9,346.0 L598.6,348.7 L602.3,351.2 L606.0,353.0 L609.7,354.1 L613.5,354.9 L617.2,355.6 L620.9,356.2 L624.6,356.7 L628.3,357.2 L632.0,357.7 L635.7,358.1 L639.4,358.6 L643.2,359.1 L646.9,359.6 L650.6,360.2 L654.3,360.8 L658.0,361.4 L661.7,361.9 L665.4,362.5 L669.1,363.1 L672.9,363.6"/>
<path d="M69.6,375.8 L73.2,375.8 L76.8,375.7 L80.4,375.6 L84.0,375.5 L87.6,375.4 L91.2,375.2 L94.8,375.1 L98.3,374.9 L101.9,374.7 L105.5,374.5 L109.1,374.3 L112.7,374.1 L116.3,373.8 L119.9,373.5 L123.5,373.1 L127.0,372.6 L130.6,372.1 L134.2,371.5 L137.8,370.9 L141.4,370.1 L145.0,369.3 L148.6,368.4 L152.2,366.1 L155.7,362.3 L159.3,358.1 L162.9,354.0 L166.5,349.5 L170.1,344.7 L173.7,339.7 L177.3,334.4 L180.9,328.8 L184.4,323.1 L188.0,317.1 L191.6,310.9 L195.2,304.4 L198.8,297.8 L202.4,290.9 L206.0,283.8 L209.6,276.5 L213.1,269.1 L216.7,261.6 L220.3,253.9 L223.9,246.2 L227.5,238.3 L231.1,230.4 L234.7,222.4 L238.3,214.3 L241.8,206.1 L245.4,198.0 L249.0,189.8 L252.6,181.5 L256.2,173.3 L259.8,165.2 L263.4,157.1 L267.0,149.0 L270.5,141.1 L274.1,133.2 L277.7,125.5 L281.3,117.9 L284.9,110.5 L288.5,103.3 L292.1,96.3 L295.7,89.6 L299.3,83.2 L302.8,77.0 L306.4,71.2 L310.0,65.8 L313.6,60.8 L317.2,56.1 L320.8,52.0 L324.4,48.3 L328.0,45.0 L331.5,42.4 L335.1,40.3 L338.7,38.6 L342.3,37.9 L345.9,38.0 L349.5,38.2 L353.1,38.5 L356.7,39.6 L360.2,41.7 L363.8,44.0 L367.4,46.7 L371.0,49.9 L374.6,53.4 L378.2,57.1 L381.8,61.0 L385.4,65.0 L388.9,69.2 L392.5,73.4 L396.1,77.7 L399.7,82.0 L403.3,86.4 L406.9,90.7 L410.5,95.0 L414.1,99.3 L417.6,103.5 L421.2,107.8 L424.8,112.0 L428.4,116.1 L432.0,120.3 L435.6,124.4 L439.2,128.5 L442.8,132.7 L446.3,136.8 L449.9,140.9 L453.5,145.0 L457.1,149.1 L460.7,153.2 L464.3,157.3 L467.9,161.5 L471.5,165.7 L475.0,169.9 L478.6,174.1 L482.2,178.5 L485.8,182.9 L489.4,187.4 L493.0,192.1 L496.6,196.9 L500.2,201.8 L503.7,206.9 L507.3,212.3 L510.9,217.7 L514.5,223.4 L518.1,229.3 L521.7,235.3 L525.3,241.4 L528.9,247.7 L532.4,254.1 L536.0,260.5 L539.6,266.9 L543.2,273.3 L546.8,279.5 L550.4,285.6 L554.0,291.6 L557.6,297.3 L561.1,302.8 L564.7,308.0 L568.3,313.0 L571.9,317.7 L575.5,322.1 L579.1,326.2 L582.7,330.2 L586.3,333.9 L589.8,337.4 L593.4,340.8 L597.0,343.9 L600.6,346.8 L604.2,349.4 L607.8,351.8 L611.4,353.8 L615.0,355.3 L618.5,356.6 L622.1,357.8 L625.7,359.0 L629.3,360.1 L632.9,361.1 L636.5,362.0 L640.1,362.8 L643.7,363.5 L647.3,364.1 L650.8,364.5 L654.4,365.0 L658.0,365.4 L661.6,365.7 L665.2,366.0 L668.8,366.2 L672.4,366.3 L676.0,366.4"/>
<path d="M67.4,382.6 L70.9,382.6 L74.4,382.5 L77.8,382.3 L81.3,382.1 L84.8,381.9 L88.3,381.7 L91.8,381.4 L95.3,381.1 L98.8,380.8 L102.3,380.4 L105.7,379.9 L109.2,379.4 L112.7,378.8 L116.2,378.1 L119.7,377.4 L123.2,376.6 L126.7,375.7 L130.2,374.7 L133.6,373.3 L137.1,371.3 L140.6,369.1 L144.1,366.7 L147.6,364.0 L151.1,361.1 L154.6,357.8 L158.0,354.2 L161.5,350.4 L165.0,346.3 L168.5,342.1 L172.0,337.6 L175.5,333.1 L179.0,328.3 L182.5,323.4 L185.9,318.3 L189.4,313.0 L192.9,307.5 L196.4,301.7 L199.9,295.8 L203.4,289.6 L206.9,283.3 L210.3,276.7 L213.8,270.0 L217.3,263.1 L220.8,256.1 L224.3,249.1 L227.8,241.9 L231.3,234.7 L234.8,227.4 L238.2,220.2 L241.7,213.0 L245.2,205.8 L248.7,198.7 L252.2,191.6 L255.7,184.7 L259.2,177.8 L262.7,171.1 L266.1,164.4 L269.6,157.9 L273.1,151.4 L276.6,145.1 L280.1,138.8 L283.6,132.5 L287.1,126.4 L290.5,120.3 L294.0,114.2 L297.5,108.3 L301.0,102.4 L304.5,96.6 L308.0,91.0 L311.5,85.5 L315.0,80.2 L318.4,75.2 L321.9,70.4 L325.4,65.8 L328.9,61.7 L332.4,58.0 L335.9,54.6 L339.4,51.8 L342.9,49.3 L346.3,47.3 L349.8,46.3 L353.3,46.1 L356.8,45.9 L360.3,45.9 L363.8,46.6 L367.3,48.3 L370.7,50.4 L374.2,52.7 L377.7,55.5 L381.2,58.6 L384.7,62.0 L388.2,65.6 L391.7,69.5 L395.2,73.5 L398.6,77.7 L402.1,81.9 L405.6,86.3 L409.1,90.8 L412.6,95.3 L416.1,99.8 L419.6,104.3 L423.1,108.9 L426.5,113.5 L430.0,118.1 L433.5,122.6 L437.0,127.2 L440.5,131.7 L444.0,136.2 L447.5,140.7 L450.9,145.1 L454.4,149.4 L457.9,153.7 L461.4,157.8 L464.9,162.0 L468.4,166.0 L471.9,170.0 L475.4,174.0 L478.8,177.9 L482.3,181.9 L485.8,185.9 L489.3,189.9 L492.8,194.0 L496.3,198.3 L499.8,202.7 L503.3,207.3 L506.7,212.1 L510.2,217.0 L513.7,222.2 L517.2,227.4 L520.7,232.9 L524.2,238.5 L527.7,244.1 L531.1,249.8 L534.6,255.5 L538.1,261.2 L541.6,266.8 L545.1,272.4 L548.6,277.8 L552.1,283.0 L555.6,288.1 L559.0,292.9 L562.5,297.5 L566.0,301.9 L569.5,306.0 L573.0,310.0 L576.5,313.7 L580.0,317.4 L583.4,321.2 L586.9,325.0 L590.4,327.8 L593.9,329.7 L597.4,331.2 L600.9,332.2 L604.4,333.0 L607.9,333.6 L611.3,334.1 L614.8,334.6 L618.3,335.0 L621.8,335.4 L625.3,335.8 L628.8,336.3 L632.3,336.7 L635.8,337.3 L639.2,337.8 L642.7,338.4 L646.2,338.9 L649.7,339.4 L653.2,339.9 L656.7,340.4"/>
<path d="M64.2,385.9 L67.8,385.8 L71.3,385.8 L74.9,385.6 L78.5,385.4 L82.0,385.2 L85.6,385.0 L89.1,384.8 L92.7,384.5 L96.2,384.1 L99.8,383.7 L103.4,383.2 L106.9,382.7 L110.5,382.0 L114.0,381.4 L117.6,380.6 L121.1,379.8 L124.7,379.0 L128.3,378.1 L131.8,377.1 L135.4,375.7 L138.9,374.1 L142.5,372.0 L146.0,369.5 L149.6,366.5 L153.2,363.1 L156.7,359.1 L160.3,354.9 L163.8,350.2 L167.4,345.2 L171.0,340.0 L174.5,334.5 L178.1,328.8 L181.6,322.9 L185.2,316.8 L188.7,310.6 L192.3,304.3 L195.9,297.9 L199.4,291.3 L203.0,284.6 L206.5,277.9 L210.1,271.0 L213.6,264.1 L217.2,257.2 L220.8,250.1 L224.3,243.0 L227.9,235.8 L231.4,228.5 L235.0,221.2 L238.5,213.8 L242.1,206.3 L245.7,198.8 L249.2,191.3 L252.8,183.8 L256.3,176.4 L259.9,169.0 L263.4,161.8 L267.0,154.7 L270.6,147.9 L274.1,141.2 L277.7,134.7 L281.2,128.6 L284.8,122.7 L288.4,117.0 L291.9,111.7 L295.5,106.6 L299.0,101.8 L302.6,97.3 L306.1,93.0 L309.7,89.0 L313.3,85.2 L316.8,81.6 L320.4,78.3 L323.9,75.2 L327.5,72.3 L331.0,69.8 L334.6,67.5 L338.2,65.4 L341.7,63.9 L345.3,62.6 L348.8,61.6 L352.4,61.2 L355.9,61.3 L359.5,61.6 L363.1,62.0 L366.6,62.9 L370.2,64.4 L373.7,66.2 L377.3,68.1 L380.8,70.4 L384.4,72.9 L388.0,75.4 L391.5,78.1 L395.1,80.9 L398.6,83.7 L402.2,86.6 L405.8,89.4 L409.3,92.3 L412.9,95.2 L416.4,98.1 L420.0,101.0 L423.5,104.0 L427.1,107.0 L430.7,110.2 L434.2,113.4 L437.8,116.8 L441.3,120.4 L444.9,124.1 L448.4,128.1 L452.0,132.2 L455.6,136.6 L459.1,141.1 L462.7,145.9 L466.2,150.8 L469.8,155.8 L473.3,161.0 L476.9,166.2 L480.5,171.5 L484.0,176.8 L487.6,182.2 L491.1,187.5 L494.7,192.7 L498.2,198.0 L501.8,203.2 L505.4,208.3 L508.9,213.4 L512.5,218.4 L516.0,223.4 L519.6,228.4 L523.2,233.3 L526.7,238.3 L530.3,243.2 L533.8,248.2 L537.4,253.2 L540.9,258.3 L544.5,263.3 L548.1,268.4 L551.6,273.5 L555.2,278.6 L558.7,283.7 L562.3,288.8 L565.8,293.8 L569.4,298.8 L573.0,303.6 L576.5,308.4 L580.1,313.2 L583.6,317.8 L587.2,322.3 L590.7,326.8 L594.3,331.2 L597.9,334.5 L601.4,336.8 L605.0,338.5 L608.5,340.1 L612.1,341.5 L615.6,342.7 L619.2,343.8 L622.8,344.8 L626.3,345.7 L629.9,346.6 L633.4,347.4 L637.0,348.1 L640.6,348.8 L644.1,349.5 L647.7,350.1 L651.2,350.7 L654.8,351.3 L658.3,351.8 L661.9,352.2 L665.5,352.6"/>
<path d="M70.9,377.6 L74.2,377.4 L77.5,377.1 L80.8,376.8 L84.1,376.4 L87.4,376.1 L90.7,375.7 L94.0,375.3 L97.3,374.9 L100.6,374.4 L103.9,374.0 L107.2,373.5 L110.5,372.9 L113.8,372.3 L117.1,371.7 L120.4,371.0 L123.7,370.2 L127.0,369.3 L130.3,368.0 L133.6,366.7 L136.9,365.3 L140.2,363.8 L143.5,362.1 L146.8,360.1 L150.1,357.9 L153.4,355.4 L156.7,352.6 L160.0,349.6 L163.3,346.3 L166.6,342.8 L169.9,339.1 L173.2,335.2 L176.5,331.1 L179.8,326.8 L183.1,322.4 L186.4,317.8 L189.7,312.9 L193.0,308.0 L196.3,302.8 L199.6,297.4 L202.9,292.0 L206.2,286.3 L209.5,280.6 L212.8,274.7 L216.1,268.7 L219.4,262.7 L222.7,256.6 L226.0,250.4 L229.3,244.2 L232.6,238.0 L235.9,231.7 L239.2,225.3 L242.5,219.0 L245.8,212.6 L249.1,206.3 L252.4,200.0 L255.7,193.7 L259.0,187.4 L262.3,181.2 L265.6,175.1 L268.9,169.1 L272.2,163.1 L275.5,157.2 L278.8,151.5 L282.1,145.8 L285.4,140.2 L288.7,134.7 L292.0,129.3 L295.3,124.0 L298.6,118.7 L301.9,113.6 L305.2,108.6 L308.5,103.7 L311.8,98.8 L315.1,94.1 L318.4,89.5 L321.7,85.1 L325.0,80.8 L328.3,76.7 L331.6,72.8 L334.9,69.1 L338.2,65.6 L341.5,62.5 L344.8,59.6 L348.1,56.9 L351.4,54.6 L354.7,52.7 L358.0,51.0 L361.3,49.7 L364.6,48.8 L367.9,48.1 L371.2,47.8 L374.5,47.8 L377.8,47.9 L381.1,48.1 L384.4,48.6 L387.7,49.6 L391.0,50.7 L394.3,52.0 L397.6,53.6 L400.9,55.4 L404.2,57.4 L407.5,59.6 L410.8,62.1 L414.1,64.7 L417.4,67.7 L420.7,70.9 L424.0,74.3 L427.3,78.0 L430.6,82.0 L433.9,86.1 L437.2,90.6 L440.5,95.3 L443.8,100.2 L447.1,105.3 L450.4,110.7 L453.7,116.2 L457.0,122.0 L460.3,127.9 L463.6,134.0 L466.9,140.3 L470.2,146.7 L473.5,153.3 L476.8,159.9 L480.1,166.6 L483.4,173.4 L486.7,180.2 L490.0,187.1 L493.3,194.0 L496.6,200.9 L499.9,207.8 L503.2,214.6 L506.5,221.4 L509.8,228.0 L513.1,234.6 L516.4,241.1 L519.7,247.3 L523.0,253.5 L526.3,259.4 L529.6,265.1 L532.9,270.5 L536.2,275.8 L539.5,280.7 L542.8,285.4 L546.1,289.8 L549.4,294.0 L552.7,297.9 L556.0,301.7 L559.3,305.0 L562.6,307.8 L565.9,310.3 L569.2,312.4 L572.5,314.1 L575.8,315.6 L579.1,316.8 L582.4,317.9 L585.7,318.9 L589.0,319.4 L592.3,319.6 L595.6,319.7 L598.9,319.7 L602.2,319.4 L605.5,318.7 L608.8,318.1 L612.1,317.6 L615.4,317.1 L618.7,316.7 L622.0,316.2 L625.3,315.8 L628.6,315.3"/>
<path d="M88.4,366.8 L91.8,366.4 L95.3,365.9 L98.8,365.5 L102.2,365.1 L105.7,364.6 L109.2,364.2 L112.7,363.7 L116.1,363.3 L119.6,362.9 L123.1,362.5 L126.5,362.2 L130.0,361.8 L133.5,361.4 L137.0,361.0 L140.4,360.4 L143.9,359.7 L147.4,358.8 L150.8,357.8 L154.3,355.1 L157.8,350.4 L161.3,345.3 L164.7,340.5 L168.2,335.4 L171.7,330.0 L175.1,324.5 L178.6,318.8 L182.1,313.0 L185.6,307.1 L189.0,301.1 L192.5,295.0 L196.0,288.9 L199.4,282.6 L202.9,276.4 L206.4,270.1 L209.9,263.9 L213.3,257.6 L216.8,251.4 L220.3,245.2 L223.7,239.0 L227.2,232.7 L230.7,226.5 L234.2,220.2 L237.6,213.8 L241.1,207.4 L244.6,200.9 L248.0,194.3 L251.5,187.6 L255.0,180.8 L258.5,174.0 L261.9,167.0 L265.4,160.1 L268.9,153.0 L272.3,146.0 L275.8,138.9 L279.3,131.9 L282.8,124.9 L286.2,118.0 L289.7,111.3 L293.2,104.7 L296.6,98.3 L300.1,92.1 L303.6,86.2 L307.1,80.7 L310.5,75.5 L314.0,70.6 L317.5,66.2 L320.9,62.3 L324.4,58.7 L327.9,55.8 L331.4,53.4 L334.8,51.3 L338.3,50.1 L341.8,49.6 L345.2,49.2 L348.7,49.1 L352.2,49.5 L355.7,50.7 L359.1,52.0 L362.6,53.7 L366.1,55.8 L369.6,58.2 L373.0,60.6 L376.5,63.3 L380.0,66.1 L383.4,68.9 L386.9,71.8 L390.4,74.8 L393.9,77.8 L397.3,80.8 L400.8,83.8 L404.3,86.8 L407.7,89.8 L411.2,92.8 L414.7,95.8 L418.2,98.8 L421.6,101.8 L425.1,104.9 L428.6,108.0 L432.0,111.1 L435.5,114.4 L439.0,117.7 L442.5,121.1 L445.9,124.6 L449.4,128.3 L452.9,132.2 L456.3,136.3 L459.8,140.6 L463.3,145.1 L466.8,149.9 L470.2,154.9 L473.7,160.2 L477.2,165.7 L480.6,171.4 L484.1,177.3 L487.6,183.4 L491.1,189.7 L494.5,196.1 L498.0,202.6 L501.5,209.1 L504.9,215.7 L508.4,222.2 L511.9,228.7 L515.4,235.1 L518.8,241.4 L522.3,247.6 L525.8,253.7 L529.2,259.6 L532.7,265.4 L536.2,271.0 L539.7,276.5 L543.1,281.9 L546.6,287.1 L550.1,292.1 L553.5,297.0 L557.0,301.7 L560.5,306.3 L564.0,310.7 L567.4,315.0 L570.9,319.1 L574.4,323.1 L577.8,326.9 L581.3,330.5 L584.8,334.1 L588.3,337.5 L591.7,340.9 L595.2,344.2 L598.7,347.1 L602.1,349.5 L605.6,351.6 L609.1,353.2 L612.6,354.3 L616.0,355.2 L619.5,356.0 L623.0,356.7 L626.4,357.3 L629.9,357.9 L633.4,358.5 L636.9,359.0 L640.3,359.5 L643.8,360.1 L647.3,360.7 L650.7,361.3 L654.2,361.9 L657.7,362.6 L661.2,363.2 L664.6,363.9 L668.1,364.5 L671.6,365.1 L675.0,365.7"/>
<path d="M67.1,383.0 L70.7,382.9 L74.3,382.9 L78.0,382.7 L81.6,382.6 L85.2,382.4 L88.9,382.2 L92.5,381.9 L96.1,381.4 L99.8,380.9 L103.4,380.2 L107.0,379.5 L110.7,378.6 L114.3,377.6 L117.9,376.5 L121.6,375.3 L125.2,373.5 L128.8,371.0 L132.5,368.3 L136.1,365.5 L139.7,362.4 L143.4,359.0 L147.0,355.3 L150.6,351.1 L154.3,346.7 L157.9,342.0 L161.5,336.9 L165.2,331.7 L168.8,326.4 L172.4,320.9 L176.1,315.3 L179.7,309.7 L183.3,304.0 L187.0,298.3 L190.6,292.5 L194.2,286.7 L197.9,280.9 L201.5,275.0 L205.1,269.1 L208.8,263.1 L212.4,257.0 L216.0,250.9 L219.7,244.8 L223.3,238.5 L226.9,232.2 L230.5,225.8 L234.2,219.4 L237.8,212.8 L241.4,206.1 L245.1,199.4 L248.7,192.5 L252.3,185.6 L256.0,178.7 L259.6,171.7 L263.2,164.8 L266.9,157.9 L270.5,150.9 L274.1,144.0 L277.8,137.2 L281.4,130.4 L285.0,123.8 L288.7,117.1 L292.3,110.6 L295.9,104.2 L299.6,98.0 L303.2,91.9 L306.8,86.0 L310.5,80.4 L314.1,74.9 L317.7,70.0 L321.4,65.4 L325.0,61.1 L328.6,57.5 L332.3,54.3 L335.9,51.4 L339.5,49.7 L343.2,48.9 L346.8,48.4 L350.4,48.1 L354.1,48.7 L357.7,50.2 L361.3,51.9 L365.0,54.2 L368.6,57.1 L372.2,60.2 L375.9,63.4 L379.5,66.8 L383.1,70.2 L386.8,73.6 L390.4,76.9 L394.0,80.2 L397.7,83.2 L401.3,86.2 L404.9,89.1 L408.6,91.8 L412.2,94.4 L415.8,97.1 L419.4,99.7 L423.1,102.4 L426.7,105.2 L430.3,108.2 L434.0,111.3 L437.6,114.6 L441.2,118.1 L444.9,121.9 L448.5,125.9 L452.1,130.1 L455.8,134.6 L459.4,139.2 L463.0,144.1 L466.7,149.2 L470.3,154.4 L473.9,159.8 L477.6,165.3 L481.2,171.0 L484.8,176.9 L488.5,182.9 L492.1,189.1 L495.7,195.4 L499.4,201.8 L503.0,208.4 L506.6,215.1 L510.3,222.0 L513.9,228.8 L517.5,235.7 L521.2,242.6 L524.8,249.5 L528.4,256.2 L532.1,262.9 L535.7,269.3 L539.3,275.5 L543.0,281.5 L546.6,287.3 L550.2,292.7 L553.9,297.9 L557.5,302.8 L561.1,307.4 L564.8,311.7 L568.4,315.8 L572.0,319.6 L575.7,323.3 L579.3,326.9 L582.9,330.3 L586.6,333.7 L590.2,337.0 L593.8,340.2 L597.4,343.3 L601.1,346.3 L604.7,349.2 L608.3,352.1 L612.0,354.6 L615.6,357.0 L619.2,359.2 L622.9,360.9 L626.5,362.1 L630.1,363.1 L633.8,364.0 L637.4,364.9 L641.0,365.6 L644.7,366.3 L648.3,366.9 L651.9,367.4 L655.6,367.9 L659.2,368.4 L662.8,368.9 L666.5,369.3 L670.1,369.6 L673.7,369.9 L677.4,370.2 L681.0,370.4"/>
<path d="M55.1,381.7 L58.8,381.4 L62.5,381.0 L66.3,380.7 L70.0,380.3 L73.7,380.0 L77.4,379.6 L81.1,379.3 L84.9,378.9 L88.6,378.6 L92.3,378.3 L96.0,378.0 L99.7,377.7 L103.4,377.5 L107.2,377.2 L110.9,377.0 L114.6,376.7 L118.3,376.3 L122.0,375.9 L125.8,375.5 L129.5,374.9 L133.2,374.3 L136.9,373.6 L140.6,372.1 L144.4,369.6 L148.1,366.8 L151.8,363.7 L155.5,360.1 L159.2,356.1 L163.0,351.8 L166.7,347.0 L170.4,342.0 L174.1,336.7 L177.8,331.1 L181.5,325.3 L185.3,319.3 L189.0,313.1 L192.7,306.7 L196.4,300.1 L200.1,293.3 L203.9,286.5 L207.6,279.5 L211.3,272.3 L215.0,265.1 L218.7,257.8 L222.5,250.3 L226.2,242.8 L229.9,235.2 L233.6,227.4 L237.3,219.6 L241.0,211.5 L244.8,203.4 L248.5,195.2 L252.2,186.9 L255.9,178.5 L259.6,170.1 L263.4,161.7 L267.1,153.3 L270.8,145.0 L274.5,136.8 L278.2,128.8 L282.0,121.0 L285.7,113.4 L289.4,106.0 L293.1,99.0 L296.8,92.4 L300.5,86.0 L304.3,80.1 L308.0,74.6 L311.7,69.5 L315.4,64.9 L319.1,60.6 L322.9,56.7 L326.6,53.4 L330.3,50.5 L334.0,47.9 L337.7,45.9 L341.5,44.2 L345.2,42.9 L348.9,42.3 L352.6,42.2 L356.3,42.2 L360.0,42.2 L363.8,42.7 L367.5,43.7 L371.2,45.0 L374.9,46.4 L378.6,48.2 L382.4,50.1 L386.1,52.2 L389.8,54.5 L393.5,57.0 L397.2,59.6 L401.0,62.6 L404.7,65.7 L408.4,69.0 L412.1,72.6 L415.8,76.4 L419.6,80.4 L423.3,84.6 L427.0,89.1 L430.7,93.8 L434.4,98.8 L438.1,103.9 L441.9,109.3 L445.6,114.9 L449.3,120.7 L453.0,126.7 L456.7,132.9 L460.5,139.2 L464.2,145.7 L467.9,152.4 L471.6,159.2 L475.3,166.1 L479.1,173.1 L482.8,180.1 L486.5,187.1 L490.2,194.1 L493.9,201.0 L497.6,207.9 L501.4,214.7 L505.1,221.3 L508.8,227.8 L512.5,234.1 L516.2,240.3 L520.0,246.2 L523.7,251.9 L527.4,257.5 L531.1,262.8 L534.8,268.0 L538.6,273.1 L542.3,278.0 L546.0,282.8 L549.7,287.5 L553.4,292.2 L557.1,296.8 L560.9,301.5 L564.6,306.1 L568.3,310.7 L572.0,315.3 L575.7,319.9 L579.5,324.6 L583.2,329.2 L586.9,333.8 L590.6,338.4 L594.3,342.8 L598.1,347.4 L601.8,351.8 L605.5,354.9 L609.2,356.7 L612.9,358.0 L616.6,359.2 L620.4,360.3 L624.1,361.3 L627.8,362.1 L631.5,362.9 L635.2,363.6 L639.0,364.2 L642.7,364.8 L646.4,365.3 L650.1,365.7 L653.8,366.2 L657.6,366.6 L661.3,367.1 L665.0,367.5 L668.7,367.8 L672.4,368.1 L676.2,368.4 L679.9,368.6 L683.6,368.8"/>
</g>
<path d="M42.4,412.0 L43.7,411.9 L45.0,411.8 L46.3,411.7 L47.6,411.5 L48.9,411.4 L50.2,411.2 L51.5,411.0 L52.8,410.8 L54.0,410.6 L55.3,410.3 L56.6,410.0 L57.9,409.7 L59.2,409.3 L60.5,408.9 L61.8,408.5 L63.1,408.0 L64.4,407.5 L65.7,407.0 L67.0,406.4 L68.3,405.8 L69.6,405.2 L70.9,404.5 L72.2,403.7 L73.5,402.9 L74.7,402.1 L76.0,401.2 L77.3,400.2 L78.6,399.1 L79.9,398.0 L81.2,396.7 L82.5,395.3 L83.8,393.8 L85.1,392.3 L86.4,390.7 L87.7,389.1 L89.0,387.5 L90.3,386.1 L91.6,384.9 L92.9,383.8 L94.2,383.0 L95.4,382.4 L96.7,381.9 L98.0,381.4 L99.3,381.0 L100.6,380.5 L101.9,380.1 L103.2,379.7 L104.5,379.2 L105.8,378.8 L107.1,378.4 L108.4,378.0 L109.7,377.5 L111.0,377.1 L112.3,376.7 L113.6,376.2 L114.9,375.8 L116.1,375.3 L117.4,374.9 L118.7,374.4 L120.0,373.9 L121.3,373.3 L122.6,372.8 L123.9,372.2 L125.2,371.7 L126.5,371.1 L127.8,370.4 L129.1,369.8 L130.4,369.1 L131.7,368.3 L133.0,367.6 L134.3,366.8 L135.6,366.0 L136.8,365.1 L138.1,364.2 L139.4,363.3 L140.7,362.3 L142.0,361.3 L143.3,360.3 L144.6,359.2 L145.9,358.1 L147.2,356.9 L148.5,355.7 L149.8,354.5 L151.1,353.2 L152.4,351.9 L153.7,350.5 L155.0,349.1 L156.3,347.7 L157.5,346.2 L158.8,344.6 L160.1,343.0 L161.4,341.4 L162.7,339.7 L164.0,338.0 L165.3,336.2 L166.6,334.4 L167.9,332.5 L169.2,330.6 L170.5,328.6 L171.8,326.6 L173.1,324.6 L174.4,322.5 L175.7,320.3 L177.0,318.2 L178.2,316.0 L179.5,313.8 L180.8,311.6 L182.1,309.3 L183.4,307.1 L184.7,304.8 L186.0,302.5 L187.3,300.2 L188.6,297.9 L189.9,295.6 L191.2,293.2 L192.5,290.9 L193.8,288.5 L195.1,286.2 L196.4,283.8 L197.7,281.4 L198.9,279.0 L200.2,276.6 L201.5,274.2 L202.8,271.8 L204.1,269.4 L205.4,266.9 L206.7,264.5 L208.0,262.1 L209.3,259.6 L210.6,257.2 L211.9,254.8 L213.2,252.3 L214.5,249.9 L215.8,247.4 L217.1,245.0 L218.4,242.5 L219.6,240.1 L220.9,237.6 L222.2,235.2 L223.5,232.7 L224.8,230.3 L226.1,227.8 L227.4,225.3 L228.7,222.9 L230.0,220.4 L231.3,217.9 L232.6,215.4 L233.9,212.9 L235.2,210.3 L236.5,207.8 L237.8,205.3 L239.1,202.7 L240.3,200.1 L241.6,197.6 L242.9,195.0 L244.2,192.4 L245.5,189.8 L246.8,187.2 L248.1,184.6 L249.4,181.9 L250.7,179.3 L252.0,176.7 L253.3,174.1 L254.6,171.5 L255.9,168.9 L257.2,166.3 L258.5,163.7 L259.8,161.1 L261.1,158.5 L262.3,155.9 L263.6,153.4 L264.9,150.8 L266.2,148.3 L267.5,145.8 L268.8,143.3 L270.1,140.8 L271.4,138.3 L272.7,135.8 L274.0,133.4 L275.3,131.0 L276.6,128.6 L277.9,126.3 L279.2,124.0 L280.5,121.6 L281.8,119.4 L283.0,117.1 L284.3,114.9 L285.6,112.7 L286.9,110.6 L288.2,108.4 L289.5,106.3 L290.8,104.3 L292.1,102.2 L293.4,100.2 L294.7,98.3 L296.0,96.3 L297.3,94.4 L298.6,92.6 L299.9,90.8 L301.2,89.0 L302.5,87.2 L303.7,85.5 L305.0,83.8 L306.3,82.2 L307.6,80.6 L308.9,79.1 L310.2,77.6 L311.5,76.1 L312.8,74.7 L314.1,73.3 L315.4,72.0 L316.7,70.7 L318.0,69.4 L319.3,68.2 L320.6,67.1 L321.9,66.0 L323.2,64.9 L324.4,63.9 L325.7,63.0 L327.0,62.1 L328.3,61.2 L329.6,60.4 L330.9,59.7 L332.2,59.0 L333.5,58.3 L334.8,57.7 L336.1,57.2 L337.4,56.7 L338.7,56.3 L340.0,55.9 L341.3,55.6 L342.6,55.4 L343.9,55.2 L345.1,55.0 L346.4,55.0 L347.7,54.9 L349.0,55.0 L350.3,55.1 L351.6,55.3 L352.9,55.5 L354.2,55.8 L355.5,56.2 L356.8,56.6 L358.1,57.1 L359.4,57.6 L360.7,58.2 L362.0,58.8 L363.3,59.5 L364.6,60.2 L365.8,61.0 L367.1,61.8 L368.4,62.6 L369.7,63.5 L371.0,64.4 L372.3,65.3 L373.6,66.3 L374.9,67.2 L376.2,68.2 L377.5,69.3 L378.8,70.3 L380.1,71.3 L381.4,72.4 L382.7,73.4 L384.0,74.5 L385.3,75.6 L386.5,76.7 L387.8,77.7 L389.1,78.8 L390.4,79.9 L391.7,81.0 L393.0,82.1 L394.3,83.3 L395.6,84.4 L396.9,85.5 L398.2,86.6 L399.5,87.8 L400.8,88.9 L402.1,90.1 L403.4,91.3 L404.7,92.5 L406.0,93.6 L407.2,94.8 L408.5,96.0 L409.8,97.3 L411.1,98.5 L412.4,99.7 L413.7,100.9 L415.0,102.2 L416.3,103.5 L417.6,104.7 L418.9,106.0 L420.2,107.3 L421.5,108.6 L422.8,109.9 L424.1,111.2 L425.4,112.6 L426.7,113.9 L427.9,115.3 L429.2,116.6 L430.5,118.0 L431.8,119.4 L433.1,120.8 L434.4,122.3 L435.7,123.7 L437.0,125.1 L438.3,126.6 L439.6,128.1 L440.9,129.5 L442.2,131.0 L443.5,132.5 L444.8,134.1 L446.1,135.6 L447.4,137.1 L448.6,138.7 L449.9,140.3 L451.2,141.8 L452.5,143.4 L453.8,145.0 L455.1,146.7 L456.4,148.3 L457.7,149.9 L459.0,151.6 L460.3,153.3 L461.6,155.0 L462.9,156.7 L464.2,158.4 L465.5,160.1 L466.8,161.8 L468.1,163.6 L469.3,165.3 L470.6,167.1 L471.9,168.9 L473.2,170.7 L474.5,172.5 L475.8,174.3 L477.1,176.2 L478.4,178.0 L479.7,179.9 L481.0,181.8 L482.3,183.7 L483.6,185.6 L484.9,187.5 L486.2,189.4 L487.5,191.4 L488.8,193.3 L490.1,195.3 L491.3,197.3 L492.6,199.3 L493.9,201.3 L495.2,203.3 L496.5,205.4 L497.8,207.4 L499.1,209.5 L500.4,211.6 L501.7,213.6 L503.0,215.7 L504.3,217.9 L505.6,220.0 L506.9,222.1 L508.2,224.3 L509.5,226.4 L510.8,228.6 L512.0,230.7 L513.3,232.9 L514.6,235.1 L515.9,237.2 L517.2,239.4 L518.5,241.6 L519.8,243.7 L521.1,245.9 L522.4,248.1 L523.7,250.2 L525.0,252.4 L526.3,254.5 L527.6,256.6 L528.9,258.7 L530.2,260.8 L531.5,262.9 L532.7,265.0 L534.0,267.1 L535.3,269.1 L536.6,271.1 L537.9,273.1 L539.2,275.1 L540.5,277.1 L541.8,279.0 L543.1,281.0 L544.4,282.9 L545.7,284.7 L547.0,286.6 L548.3,288.4 L549.6,290.2 L550.9,291.9 L552.2,293.6 L553.4,295.3 L554.7,297.0 L556.0,298.6 L557.3,300.2 L558.6,301.8 L559.9,303.3 L561.2,304.8 L562.5,306.3 L563.8,307.8 L565.1,309.2 L566.4,310.6 L567.7,312.0 L569.0,313.3 L570.3,314.6 L571.6,315.9 L572.9,317.2 L574.1,318.5 L575.4,319.7 L576.7,320.9 L578.0,322.1 L579.3,323.2 L580.6,324.3 L581.9,325.4 L583.2,326.5 L584.5,327.6 L585.8,328.6 L587.1,329.6 L588.4,330.6 L589.7,331.6 L591.0,332.6 L592.3,333.5 L593.6,334.4 L594.8,335.3 L596.1,336.2 L597.4,337.0 L598.7,337.9 L600.0,338.7 L601.3,339.5 L602.6,340.3 L603.9,341.0 L605.2,341.8 L606.5,342.5 L607.8,343.2 L609.1,343.9 L610.4,344.5 L611.7,345.2 L613.0,345.8 L614.3,346.4 L615.5,347.0 L616.8,347.6 L618.1,348.1 L619.4,348.6 L620.7,349.1 L622.0,349.6 L623.3,350.1 L624.6,350.5 L625.9,350.9 L627.2,351.2 L628.5,351.6 L629.8,351.9 L631.1,352.2 L632.4,352.7 L633.7,353.3 L635.0,354.3 L636.2,355.6 L637.5,357.3 L638.8,359.4 L640.1,361.8 L641.4,364.3 L642.7,367.0 L644.0,369.7 L645.3,372.4 L646.6,375.0 L647.9,377.7 L649.2,380.2 L650.5,382.7 L651.8,385.0 L653.1,387.3 L654.4,389.5 L655.7,391.5 L656.9,393.5 L658.2,395.3 L659.5,397.0 L660.8,398.7 L662.1,400.2 L663.4,401.6 L664.7,402.9 L666.0,404.1 L667.3,405.3 L668.6,406.3 L669.9,407.2 L671.2,408.0 L672.5,408.8 L673.8,409.4 L675.1,409.9 L676.4,410.4 L677.6,410.8 L678.9,411.1 L680.2,411.3 L681.5,411.6 L682.8,411.8 L684.1,411.9 L685.4,412.1 L686.7,412.2 L688.0,412.4" fill="none" stroke="#fa7c17" stroke-width="3.2" stroke-dasharray="11.51 4.98"/>
<path d="M78.7,378.5 L80.6,378.2 L82.6,378.0 L84.5,377.7 L86.5,377.4 L88.4,377.2 L90.4,376.9 L92.3,376.6 L94.2,376.3 L96.2,375.9 L98.1,375.6 L100.1,375.2 L102.0,374.8 L103.9,374.3 L105.9,373.8 L107.8,373.3 L109.8,372.7 L111.7,372.1 L113.7,371.5 L115.6,370.8 L117.5,370.0 L119.5,369.2 L121.4,368.3 L123.4,367.4 L125.3,366.4 L127.3,365.3 L129.2,364.2 L131.1,363.0 L133.1,361.7 L135.0,360.3 L137.0,358.9 L138.9,357.4 L140.8,355.8 L142.8,354.2 L144.7,352.5 L146.7,350.7 L148.6,348.8 L150.6,346.9 L152.5,344.8 L154.4,342.8 L156.4,340.6 L158.3,338.4 L160.3,336.2 L162.2,333.8 L164.2,331.4 L166.1,329.0 L168.0,326.5 L170.0,323.9 L171.9,321.3 L173.9,318.7 L175.8,316.0 L177.7,313.2 L179.7,310.4 L181.6,307.5 L183.6,304.7 L185.5,301.7 L187.5,298.7 L189.4,295.7 L191.3,292.6 L193.3,289.5 L195.2,286.4 L197.2,283.2 L199.1,280.0 L201.1,276.8 L203.0,273.6 L204.9,270.3 L206.9,266.9 L208.8,263.6 L210.8,260.2 L212.7,256.8 L214.6,253.4 L216.6,249.9 L218.5,246.5 L220.5,243.0 L222.4,239.5 L224.4,236.0 L226.3,232.4 L228.2,228.9 L230.2,225.3 L232.1,221.8 L234.1,218.2 L236.0,214.6 L238.0,211.0 L239.9,207.4 L241.8,203.7 L243.8,200.1 L245.7,196.5 L247.7,192.9 L249.6,189.2 L251.6,185.6 L253.5,182.0 L255.4,178.4 L257.4,174.7 L259.3,171.1 L261.3,167.5 L263.2,163.9 L265.1,160.3 L267.1,156.7 L269.0,153.2 L271.0,149.6 L272.9,146.1 L274.9,142.5 L276.8,139.0 L278.7,135.6 L280.7,132.1 L282.6,128.7 L284.6,125.3 L286.5,122.0 L288.5,118.7 L290.4,115.4 L292.3,112.2 L294.3,109.1 L296.2,106.0 L298.2,103.0 L300.1,100.0 L302.0,97.2 L304.0,94.4 L305.9,91.6 L307.9,89.0 L309.8,86.4 L311.8,84.0 L313.7,81.6 L315.6,79.3 L317.6,77.1 L319.5,75.0 L321.5,73.1 L323.4,71.2 L325.4,69.5 L327.3,67.8 L329.2,66.4 L331.2,65.0 L333.1,63.7 L335.1,62.6 L337.0,61.7 L338.9,60.8 L340.9,60.1 L342.8,59.5 L344.8,59.0 L346.7,58.7 L348.7,58.5 L350.6,58.4 L352.5,58.3 L354.5,58.5 L356.4,58.7 L358.4,59.0 L360.3,59.4 L362.3,59.9 L364.2,60.5 L366.1,61.2 L368.1,62.0 L370.0,62.9 L372.0,63.9 L373.9,64.9 L375.8,66.1 L377.8,67.3 L379.7,68.5 L381.7,69.9 L383.6,71.2 L385.6,72.7 L387.5,74.2 L389.4,75.7 L391.4,77.3 L393.3,78.9 L395.3,80.5 L397.2,82.2 L399.2,83.9 L401.1,85.6 L403.0,87.4 L405.0,89.1 L406.9,90.9 L408.9,92.6 L410.8,94.4 L412.7,96.2 L414.7,98.0 L416.6,99.8 L418.6,101.6 L420.5,103.4 L422.5,105.3 L424.4,107.1 L426.3,109.0 L428.3,110.9 L430.2,112.8 L432.2,114.8 L434.1,116.8 L436.1,118.8 L438.0,120.8 L439.9,122.9 L441.9,125.0 L443.8,127.2 L445.8,129.3 L447.7,131.5 L449.6,133.8 L451.6,136.1 L453.5,138.4 L455.5,140.8 L457.4,143.2 L459.4,145.7 L461.3,148.2 L463.2,150.8 L465.2,153.4 L467.1,156.0 L469.1,158.7 L471.0,161.4 L473.0,164.2 L474.9,167.0 L476.8,169.8 L478.8,172.7 L480.7,175.6 L482.7,178.6 L484.6,181.6 L486.5,184.6 L488.5,187.7 L490.4,190.8 L492.4,193.9 L494.3,197.1 L496.3,200.3 L498.2,203.5 L500.1,206.8 L502.1,210.1 L504.0,213.4 L506.0,216.7 L507.9,220.0 L509.9,223.3 L511.8,226.7 L513.7,230.0 L515.7,233.4 L517.6,236.7 L519.6,240.0 L521.5,243.3 L523.5,246.6 L525.4,249.9 L527.3,253.2 L529.3,256.4 L531.2,259.6 L533.2,262.8 L535.1,266.0 L537.0,269.1 L539.0,272.1 L540.9,275.2 L542.9,278.2 L544.8,281.1 L546.8,284.0 L548.7,286.9 L550.6,289.7 L552.6,292.5 L554.5,295.2 L556.5,297.9 L558.4,300.6 L560.4,303.2 L562.3,305.7 L564.2,308.2 L566.2,310.6 L568.1,313.0 L570.1,315.3 L572.0,317.6 L573.9,319.8 L575.9,322.0 L577.8,324.1 L579.8,326.1 L581.7,328.1 L583.7,330.0 L585.6,331.9 L587.5,333.7 L589.5,335.5 L591.4,337.1 L593.4,338.8 L595.3,340.3 L597.3,341.9 L599.2,343.3 L601.1,344.7 L603.1,346.1 L605.0,347.3 L607.0,348.6 L608.9,349.8 L610.8,350.9 L612.8,352.0 L614.7,353.0 L616.7,354.0 L618.6,354.9 L620.6,355.8 L622.5,356.6 L624.4,357.4 L626.4,358.1 L628.3,358.8 L630.3,359.4 L632.2,360.0 L634.2,360.5 L636.1,361.0 L638.0,361.5 L640.0,361.9 L641.9,362.3 L643.9,362.6 L645.8,362.9 L647.7,363.2 L649.7,363.4 L651.6,363.6 L653.6,363.7 L655.5,363.8 L657.5,363.9 L659.4,363.9" fill="none" stroke="#000" stroke-width="2.4"/>
<line x1="478.8" x2="510" y1="28.0" y2="28.0" stroke="#2a2eec" stroke-width="2"/>
<line x1="478.8" x2="510" y1="49.7" y2="49.7" stroke="#000" stroke-width="2.4"/>
<line x1="480.2" x2="509.5" y1="71.6" y2="71.6" stroke="#fa7c17" stroke-width="3.3" stroke-dasharray="11.8 5.0"/>
<g font-family="'DejaVu Sans', 'Liberation Sans', sans-serif" fill="#262626">
<g font-size="14.6px">
<text x="520.9" y="34.2">Posterior predictive</text>
<text x="520.9" y="54.8">Observed</text>
<text x="520.9" y="76.8">Posterior predictive mean</text>
</g>
<g font-size="18.8px" text-anchor="middle">
<text x="38.5" y="451.7">−3</text>
<text x="149.5" y="451.7">−2</text>
<text x="260.5" y="451.7">−1</text>
<text x="371.9" y="451.7">0</text>
<text x="483.0" y="451.7">1</text>
<text x="594.0" y="451.7">2</text>
<text x="705.0" y="451.7">3</text>
</g>
<text x="366" y="477.5" font-size="21px" text-anchor="middle">obs / obs</text>
</g>
</svg>
</body></html>
